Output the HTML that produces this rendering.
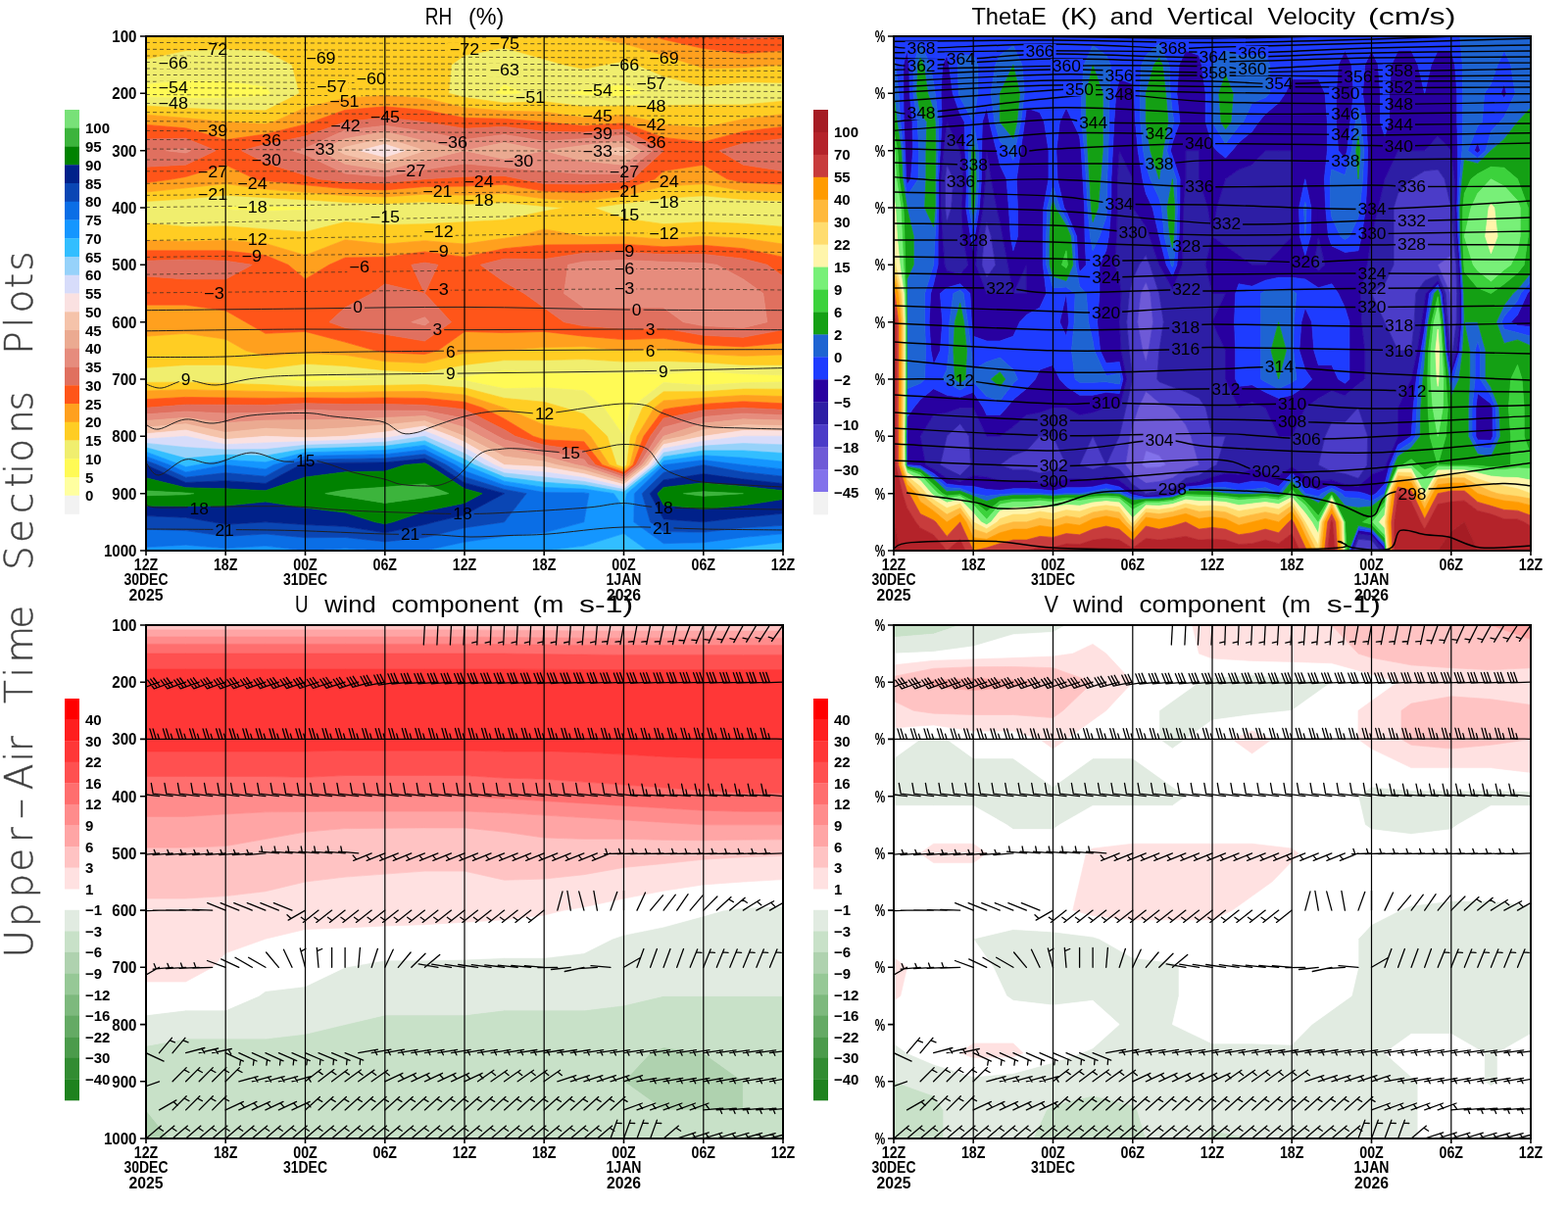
<!DOCTYPE html><html><head><meta charset="utf-8"><title>Upper-Air Time Sections Plots</title><style>html,body{margin:0;padding:0;background:#fff;overflow:hidden}svg{display:block}</style></head><body><svg width="1600" height="1236" viewBox="0 0 1600 1236" font-family="'Liberation Sans', Arial, sans-serif"><defs><clipPath id="c_rh"><rect x="149" y="37" width="650" height="525"/></clipPath><clipPath id="c_te"><rect x="912" y="37" width="650" height="525"/></clipPath><clipPath id="c_u"><rect x="149" y="638" width="650" height="524"/></clipPath><clipPath id="c_v"><rect x="912" y="638" width="650" height="524"/></clipPath></defs><rect width="1600" height="1236" fill="#fff"/><g clip-path="url(#c_rh)"><path d="M514.6 387.0L514.6 387.0L514.6 387.0L514.6 387.0ZM717.8 387.0L717.8 387.0L717.8 387.0L717.8 387.0Z" fill="#ffffa0" stroke="#ffffa0" stroke-width="0.7" fill-rule="evenodd"/><path d="M189.6 82.1L230.2 82.4L270.9 88.0L276.7 95.3L270.9 98.3L230.2 100.2L189.6 100.4L149.0 99.0L149.0 95.3L149.0 85.6ZM514.6 85.6L534.9 95.3L514.6 97.0L504.5 95.3ZM595.9 91.2L636.5 85.6L656.8 95.3L636.5 99.0L595.9 97.6L575.6 95.3ZM230.2 210.8L270.9 210.3L311.5 211.3L325.0 212.0L311.5 214.2L270.9 215.6L230.2 213.7L216.7 212.0ZM717.8 212.0L758.4 212.0L758.4 212.0L758.4 212.0L717.8 212.0L717.8 212.0ZM311.5 382.5L352.1 384.8L392.8 387.0L392.8 387.0L392.8 387.0L352.1 388.2L311.5 389.2L284.4 387.0ZM474.0 384.6L514.6 377.3L555.2 379.7L595.9 381.2L636.5 380.3L677.1 381.7L717.8 378.4L758.4 381.5L799.0 382.8L799.0 387.0L799.0 389.9L758.4 390.8L717.8 393.3L677.1 390.6L643.7 416.2L636.5 445.3L636.5 474.5L636.5 474.5L636.5 474.5L636.5 445.3L616.2 416.2L595.9 398.7L555.2 395.8L514.6 396.7L474.0 388.5L453.7 387.0ZM514.6 387.0L514.6 387.0L514.6 387.0L514.6 387.0ZM717.8 387.0L717.8 387.0L717.8 387.0L717.8 387.0Z" fill="#fffa55" stroke="#fffa55" stroke-width="0.7" fill-rule="evenodd"/><path d="M189.6 51.6L230.2 50.0L270.9 51.6L298.0 66.2L305.7 95.3L270.9 112.8L230.2 112.3L189.6 110.4L149.0 108.1L149.0 99.0L189.6 100.4L230.2 100.2L270.9 98.3L276.7 95.3L270.9 88.0L230.2 82.4L189.6 82.1L149.0 85.6L149.0 66.2L149.0 60.3ZM474.0 56.4L514.6 48.7L555.2 60.3L575.6 66.2L595.9 70.3L616.2 66.2L636.5 62.5L650.0 66.2L677.1 77.8L717.8 88.0L758.4 83.7L799.0 84.4L799.0 95.3L799.0 103.3L758.4 107.0L717.8 107.0L677.1 107.8L636.5 108.1L595.9 108.8L555.2 103.7L514.6 105.1L474.0 99.5L457.8 95.3L460.5 66.2ZM504.5 95.3L514.6 97.0L534.9 95.3L514.6 85.6ZM575.6 95.3L595.9 97.6L636.5 99.0L656.8 95.3L636.5 85.6L595.9 91.2ZM189.6 203.0L230.3 199.2L270.9 201.7L311.5 203.8L352.1 206.4L392.8 207.8L433.4 205.9L474.0 208.4L514.6 206.5L555.3 210.5L575.6 212.0L555.2 215.6L514.6 224.5L474.0 226.6L433.4 228.7L392.8 229.5L352.1 226.6L311.5 236.7L270.9 233.9L230.2 230.9L189.6 231.4L149.0 227.7L149.0 212.0L149.0 205.4ZM216.7 212.0L230.2 213.7L270.9 215.6L311.5 214.2L325.0 212.0L311.5 211.3L270.9 210.3L230.2 210.8ZM636.5 207.6L677.1 202.3L717.8 199.8L758.4 203.4L799.0 205.1L799.0 212.0L799.0 231.4L758.4 228.2L717.8 226.6L677.1 228.7L636.5 222.9L606.0 212.0ZM717.8 212.0L717.8 212.0L758.4 212.0L758.4 212.0L758.4 212.0L717.8 212.0ZM189.6 372.4L230.2 372.4L270.9 376.4L311.5 371.3L352.1 373.5L392.8 377.9L433.4 379.7L474.0 372.4L514.6 367.6L555.2 367.6L595.9 366.6L636.5 369.1L677.1 368.4L717.8 369.8L758.4 372.4L799.0 372.4L799.0 382.8L758.4 381.5L717.8 378.4L677.1 381.7L636.5 380.3L595.9 381.2L555.2 379.7L514.6 377.3L474.0 384.6L453.7 387.0L474.0 388.5L514.6 396.7L555.2 395.8L595.9 398.7L616.2 416.2L636.5 445.3L636.5 474.5L636.5 474.5L636.5 474.5L636.5 445.3L643.7 416.2L677.1 390.6L717.8 393.3L758.4 390.8L799.0 389.9L799.0 397.2L758.4 397.1L717.8 399.7L677.1 399.8L655.6 416.2L643.3 445.3L639.6 474.5L636.5 477.0L629.2 474.5L619.6 445.3L595.9 422.6L575.6 416.2L555.2 410.3L514.6 406.4L474.0 395.8L433.4 392.6L392.8 393.3L352.1 394.3L311.5 394.9L270.9 392.6L230.2 391.4L189.6 390.1L149.0 390.4L149.0 387.0L149.0 375.3ZM284.4 387.0L311.5 389.2L352.1 388.2L392.8 387.0L392.8 387.0L392.8 387.0L352.1 384.8L311.5 382.5Z" fill="#f0ee6e" stroke="#f0ee6e" stroke-width="0.7" fill-rule="evenodd"/><path d="M189.6 37.0L230.2 37.0L270.9 37.0L311.5 37.0L352.1 37.0L392.8 37.0L433.4 37.0L474.0 37.0L514.6 37.0L555.2 37.0L595.9 37.0L595.9 37.0L636.5 44.3L677.1 56.4L707.6 66.2L717.8 69.8L758.4 69.1L799.0 66.2L799.0 66.2L799.0 66.2L799.0 84.4L758.4 83.7L717.8 88.0L677.1 77.8L650.0 66.2L636.5 62.5L616.2 66.2L595.9 70.3L575.6 66.2L555.2 60.3L514.6 48.7L474.0 56.4L460.5 66.2L457.8 95.3L474.0 99.5L514.6 105.1L555.2 103.7L595.9 108.8L636.5 108.1L677.1 107.8L717.8 107.0L758.4 107.0L799.0 103.3L799.0 116.5L758.4 121.6L744.8 124.5L717.8 130.3L677.1 127.2L669.0 124.5L636.5 117.2L595.9 120.0L555.2 114.1L514.6 113.2L474.0 109.9L433.4 100.2L392.8 97.6L352.1 100.2L311.5 109.9L279.0 124.5L270.9 126.6L230.2 124.5L230.2 124.5L189.6 120.5L149.0 117.2L149.0 108.1L189.6 110.4L230.2 112.3L270.9 112.8L305.7 95.3L298.0 66.2L270.9 51.6L230.2 50.0L189.6 51.6L149.0 60.3L149.0 37.0ZM189.6 191.8L230.2 187.5L270.9 193.1L311.5 196.3L352.1 199.5L392.8 200.9L433.4 198.2L474.0 199.2L514.6 197.4L555.2 202.8L595.9 205.1L636.5 200.3L677.1 190.1L717.8 187.7L758.4 194.8L799.0 196.6L799.0 205.1L758.4 203.4L717.8 199.8L677.1 202.3L636.5 207.6L606.0 212.0L636.5 222.9L677.1 228.7L717.8 226.6L758.4 228.2L799.0 231.4L799.0 241.2L799.0 249.1L758.4 243.2L717.8 241.2L677.1 244.2L636.5 241.2L595.9 241.2L595.9 241.2L555.2 233.9L528.2 241.2L514.6 243.2L474.0 249.1L433.4 245.7L392.8 249.1L352.1 244.8L311.5 260.6L270.9 248.5L230.2 245.3L189.6 246.6L149.0 245.3L149.0 241.2L149.0 227.7L189.6 231.4L230.2 230.9L270.9 233.9L311.5 236.7L352.1 226.6L392.8 229.5L433.4 228.7L474.0 226.6L514.6 224.5L555.2 215.6L575.6 212.0L555.2 210.5L514.6 206.5L474.0 208.4L433.4 205.9L392.8 207.8L352.1 206.4L311.5 203.8L270.9 201.7L230.2 199.2L189.6 203.0L149.0 205.4L149.0 196.0ZM189.6 340.3L230.2 346.2L250.6 357.8L270.9 363.1L311.5 360.1L352.1 362.3L392.8 368.8L433.4 370.6L474.0 360.3L514.6 357.8L514.6 357.8L555.2 354.6L595.9 353.7L636.5 357.8L677.1 355.8L690.7 357.8L717.8 361.3L758.4 363.3L799.0 362.0L799.0 372.4L758.4 372.4L717.8 369.8L677.1 368.4L636.5 369.1L595.9 366.6L555.2 367.6L514.6 367.6L474.0 372.4L433.4 379.7L392.8 377.9L352.1 373.5L311.5 371.3L270.9 376.4L230.2 372.4L189.6 372.4L149.0 375.3L149.0 357.8L149.0 343.2ZM189.6 390.1L230.2 391.4L270.9 392.6L311.5 394.9L352.1 394.3L392.8 393.3L433.4 392.6L474.0 395.8L514.6 406.4L555.2 410.3L575.6 416.2L595.9 422.6L619.6 445.3L629.2 474.5L636.5 477.0L639.6 474.5L643.3 445.3L655.6 416.2L677.1 399.8L717.8 399.7L758.4 397.1L799.0 397.2L799.0 404.5L758.4 403.5L717.8 406.0L677.1 408.9L667.6 416.2L650.0 445.3L642.8 474.5L636.5 479.5L622.0 474.5L602.6 445.3L595.9 438.9L555.2 433.7L514.6 416.2L514.6 416.2L474.0 403.0L433.4 399.5L392.8 399.7L352.1 400.4L311.5 400.5L270.9 399.5L230.2 398.7L189.6 397.7L149.0 399.0L149.0 390.4Z" fill="#ffcd23" stroke="#ffcd23" stroke-width="0.7" fill-rule="evenodd"/><path d="M636.5 37.0L667.0 37.0L677.1 40.2L717.8 49.5L758.4 54.5L799.0 51.6L799.0 66.2L799.0 66.2L758.4 69.1L717.8 69.8L707.6 66.2L677.1 56.4L636.5 44.3L595.9 37.0ZM189.6 120.5L230.2 124.5L230.2 124.5L270.9 126.6L279.0 124.5L311.5 109.9L352.1 100.2L392.8 97.6L433.4 100.2L474.0 109.9L514.6 113.2L555.2 114.1L595.9 120.0L636.5 117.2L669.0 124.5L677.1 127.2L717.8 130.3L744.8 124.5L758.4 121.6L799.0 116.5L799.0 124.5L799.0 129.4L758.4 134.2L717.8 144.9L677.1 140.4L636.5 125.7L595.9 128.5L555.2 124.5L555.2 124.5L514.6 121.3L474.0 120.3L433.4 112.3L392.8 108.8L352.1 112.3L318.3 124.5L311.5 126.9L270.9 137.0L230.2 142.7L189.6 130.8L149.0 127.4L149.0 124.5L149.0 117.2ZM189.6 180.4L230.2 168.2L260.7 182.8L270.9 184.5L311.5 188.8L352.1 192.6L392.8 193.9L433.4 190.5L474.0 190.1L514.6 188.3L555.2 195.1L595.9 196.6L636.5 193.0L668.1 182.8L677.1 174.5L717.8 168.2L742.1 182.8L758.4 186.3L799.0 188.0L799.0 196.6L758.4 194.8L717.8 187.7L677.1 190.1L636.5 200.3L595.9 205.1L555.2 202.8L514.6 197.4L474.0 199.2L433.4 198.2L392.8 200.9L352.1 199.5L311.5 196.3L270.9 193.1L230.2 187.5L189.6 191.8L149.0 196.0L149.0 186.6L176.1 182.8ZM555.2 233.9L595.9 241.2L595.9 241.2L636.5 241.2L677.1 244.2L717.8 241.2L758.4 243.2L799.0 249.1L799.0 262.4L758.4 253.7L717.8 250.3L677.1 251.9L636.5 249.3L595.9 249.7L555.2 249.9L514.6 253.7L474.0 262.4L433.4 256.9L392.8 262.4L352.1 263.0L335.9 270.3L311.5 284.9L294.1 270.3L270.9 260.6L230.2 255.8L189.6 255.8L149.0 255.8L149.0 245.3L189.6 246.6L230.2 245.3L270.9 248.5L311.5 260.6L352.1 244.8L392.8 249.1L433.4 245.7L474.0 249.1L514.6 243.2L528.2 241.2ZM189.6 311.2L230.2 317.0L250.6 328.7L270.9 340.3L311.5 338.4L352.1 349.1L382.6 357.8L392.8 359.7L433.4 361.5L446.9 357.8L474.0 338.4L514.6 339.6L555.2 338.4L595.9 343.2L636.5 346.6L677.1 345.3L717.8 352.0L758.4 353.9L799.0 349.9L799.0 357.8L799.0 362.0L758.4 363.3L717.8 361.3L690.7 357.8L677.1 355.8L636.5 357.8L595.9 353.7L555.2 354.6L514.6 357.8L514.6 357.8L474.0 360.3L433.4 370.6L392.8 368.8L352.1 362.3L311.5 360.1L270.9 363.1L250.6 357.8L230.2 346.2L189.6 340.3L149.0 343.2L149.0 328.7L149.0 311.2ZM189.6 397.7L230.2 398.7L270.9 399.5L311.5 400.5L352.1 400.4L392.8 399.7L433.4 399.5L474.0 403.0L514.6 416.2L514.6 416.2L555.2 433.7L595.9 438.9L602.6 445.3L622.0 474.5L636.5 479.5L642.8 474.5L650.0 445.3L667.6 416.2L677.1 408.9L717.8 406.0L758.4 403.5L799.0 404.5L799.0 411.8L758.4 409.8L717.8 412.4L687.3 416.2L677.1 418.0L656.8 445.3L645.9 474.5L636.5 482.0L614.7 474.5L595.9 450.8L555.2 448.7L544.2 445.3L514.6 427.4L492.1 416.2L474.0 410.3L433.4 406.4L392.8 406.0L352.1 406.4L311.5 406.1L270.9 406.4L230.2 406.0L189.6 405.4L149.0 407.6L149.0 399.0Z" fill="#ffa01e" stroke="#ffa01e" stroke-width="0.7" fill-rule="evenodd"/><path d="M677.1 37.0L717.8 37.0L744.8 37.0L758.4 39.9L799.0 37.0L799.0 37.0L799.0 51.6L758.4 54.5L717.8 49.5L677.1 40.2L667.0 37.0ZM352.1 112.3L392.8 108.8L433.4 112.3L474.0 120.3L514.6 121.3L555.2 124.5L555.2 124.5L595.9 128.5L636.5 125.7L677.1 140.4L717.8 144.9L758.4 134.2L799.0 129.4L799.0 141.5L758.4 146.4L734.0 153.7L758.4 168.2L799.0 174.5L799.0 182.8L799.0 188.0L758.4 186.3L742.1 182.8L717.8 168.2L677.1 174.5L668.1 182.8L636.5 193.0L595.9 196.6L555.2 195.1L514.6 188.3L474.0 190.1L433.4 190.5L392.8 193.9L352.1 192.6L311.5 188.8L270.9 184.5L260.7 182.8L230.2 168.2L189.6 180.4L176.1 182.8L149.0 186.6L149.0 182.8L149.0 170.3L189.6 168.2L220.1 153.7L189.6 141.2L149.0 142.0L149.0 127.4L189.6 130.8L230.2 142.7L270.9 137.0L311.5 126.9L318.3 124.5ZM352.1 124.5L352.1 124.5L311.5 139.1L270.9 147.4L246.5 153.7L270.9 166.2L311.5 178.7L325.0 182.8L352.1 185.6L392.8 187.0L433.4 182.8L433.4 182.8L474.0 180.2L514.6 179.4L530.9 182.8L555.2 187.4L595.9 188.0L636.5 185.8L645.5 182.8L677.1 153.7L636.5 131.8L595.9 135.1L555.2 134.2L514.6 129.4L474.0 131.2L433.4 124.5L433.4 124.5L392.8 120.0ZM189.6 255.8L230.2 255.8L270.9 260.6L294.1 270.3L311.5 284.9L335.9 270.3L352.1 263.0L392.8 262.4L433.4 256.9L474.0 262.4L514.6 253.7L555.2 249.9L595.9 249.7L636.5 249.3L677.1 251.9L717.8 250.3L758.4 253.7L799.0 262.4L799.0 270.3L799.0 282.0L782.8 270.3L758.4 264.1L717.8 259.4L677.1 259.6L636.5 257.4L595.9 258.3L555.2 264.5L514.6 264.1L490.2 270.3L514.6 287.8L534.9 299.5L555.2 314.1L575.6 328.7L595.9 332.8L636.5 335.4L677.1 334.9L717.8 342.3L758.4 344.2L799.0 336.6L799.0 349.9L758.4 353.9L717.8 352.0L677.1 345.3L636.5 346.6L595.9 343.2L555.2 338.4L514.6 339.6L474.0 338.4L446.9 357.8L433.4 361.5L392.8 359.7L382.6 357.8L352.1 349.1L311.5 338.4L270.9 340.3L250.6 328.7L230.2 317.0L189.6 311.2L149.0 311.2L149.0 299.5L149.0 282.0L189.6 284.9L230.2 284.9L257.3 270.3L230.2 266.2L189.6 264.9L149.0 266.2L149.0 255.8ZM419.8 270.3L433.4 299.5L446.9 270.3L433.4 268.1ZM379.2 299.5L352.1 314.1L335.9 328.7L352.1 334.5L392.8 341.2L433.4 348.1L460.5 328.7L433.4 299.5L433.4 299.5L392.8 289.8ZM189.6 405.4L230.2 406.0L270.9 406.4L311.5 406.1L352.1 406.4L392.8 406.0L433.4 406.4L474.0 410.3L492.1 416.2L514.6 427.4L544.2 445.3L555.2 448.7L595.9 450.8L614.7 474.5L636.5 482.0L645.9 474.5L656.8 445.3L677.1 418.0L687.3 416.2L717.7 412.4L758.4 409.8L799.0 411.8L799.0 416.2L799.0 418.3L758.4 416.2L717.8 418.8L677.1 427.1L663.6 445.3L649.0 474.5L636.5 484.6L607.5 474.5L595.9 459.9L555.2 454.3L525.7 445.3L514.6 438.6L474.0 418.0L460.5 416.2L433.4 413.4L392.8 412.4L352.1 412.5L311.5 411.7L270.9 413.4L230.2 413.2L189.6 413.1L149.0 416.2L149.0 416.2L149.0 416.2L149.0 407.6Z" fill="#ff5519" stroke="#ff5519" stroke-width="0.7" fill-rule="evenodd"/><path d="M758.4 37.0L799.0 37.0L758.4 39.9L744.8 37.0ZM392.8 120.0L433.4 124.5L433.4 124.5L474.0 131.2L514.6 129.4L555.2 134.2L595.9 135.1L636.5 131.8L677.1 153.7L645.5 182.8L636.5 185.8L595.9 188.0L555.2 187.4L530.9 182.8L514.6 179.4L474.0 180.2L433.4 182.8L433.4 182.8L392.8 187.0L352.1 185.6L325.0 182.8L311.5 178.7L270.9 166.2L246.5 153.7L270.9 147.4L311.5 139.1L352.1 124.5L352.1 124.5ZM298.0 153.7L311.5 157.8L352.1 177.0L392.8 180.2L433.4 173.1L474.0 166.9L514.6 170.8L555.2 174.5L595.9 177.5L636.5 177.4L665.8 153.7L636.5 137.9L595.9 141.7L555.2 143.9L514.6 137.5L474.0 142.4L433.4 134.2L392.8 128.3L352.1 133.1L311.5 151.2ZM189.6 141.2L220.1 153.7L189.6 168.2L149.0 170.3L149.0 153.7L149.0 142.0ZM169.3 153.7L189.6 156.1L194.7 153.7L189.6 151.6ZM758.4 146.4L799.0 141.5L799.0 153.7L799.0 174.5L758.4 168.2L734.0 153.7ZM189.6 264.9L230.2 266.2L257.3 270.3L230.2 284.9L189.6 284.9L149.0 282.0L149.0 270.3L149.0 266.2ZM433.4 268.1L446.9 270.3L433.4 299.5L419.8 270.3ZM514.6 264.1L555.2 264.5L595.9 258.3L636.5 257.4L677.1 259.6L717.8 259.4L758.4 264.1L782.8 270.3L799.0 282.0L799.0 299.5L799.0 328.7L799.0 336.6L758.4 344.2L717.8 342.3L677.1 334.9L636.5 335.4L595.9 332.8L575.6 328.7L555.2 314.1L534.9 299.5L514.6 287.8L490.2 270.3ZM579.6 270.3L575.6 299.5L595.9 314.1L636.5 314.1L677.1 314.1L697.4 328.7L717.8 332.6L758.4 334.5L782.8 328.7L778.7 299.5L758.4 284.9L731.3 270.3L717.8 268.5L677.1 267.3L636.5 265.5L595.9 266.9ZM392.8 289.8L433.4 299.5L433.4 299.5L460.5 328.7L433.4 348.1L392.8 341.2L352.1 334.5L335.9 328.7L352.1 314.1L379.2 299.5ZM419.8 328.7L433.4 331.9L437.9 328.7L433.4 323.8ZM189.6 413.1L230.2 413.2L270.9 413.4L311.5 411.7L352.1 412.5L392.8 412.4L433.4 413.4L460.5 416.2L474.0 418.0L514.6 438.6L525.7 445.3L555.2 454.3L595.9 459.9L607.5 474.5L636.5 484.6L649.0 474.5L663.6 445.3L677.1 427.1L717.8 418.8L758.4 416.2L799.0 418.3L799.0 423.7L758.4 422.0L717.8 425.4L677.1 436.2L670.4 445.3L652.1 474.5L636.5 487.1L600.2 474.5L595.9 469.0L555.2 459.9L514.6 448.8L507.9 445.3L474.0 427.1L433.4 419.3L392.8 419.1L352.1 419.6L311.5 418.2L270.9 421.0L230.3 422.0L189.6 420.0L149.0 422.8L149.0 416.2L149.0 416.2Z" fill="#e0705f" stroke="#e0705f" stroke-width="0.7" fill-rule="evenodd"/><path d="M189.6 151.6L194.7 153.7L189.6 156.1L169.3 153.7ZM311.5 151.2L352.1 133.1L392.8 128.3L433.4 134.2L474.0 142.4L514.6 137.5L555.2 143.9L595.9 141.7L636.5 137.9L665.8 153.7L636.5 177.4L595.9 177.5L555.2 174.5L514.6 170.8L474.0 166.9L433.4 173.1L392.8 180.2L352.1 177.0L311.5 157.8L298.0 153.7ZM326.3 153.7L352.1 167.3L392.8 173.6L433.4 163.4L474.0 153.7L433.4 143.9L392.8 134.6L352.1 141.7ZM474.0 153.7L514.6 162.2L555.2 153.7L514.6 145.6ZM555.2 153.7L595.9 164.3L636.5 168.2L654.6 153.7L636.5 143.9L595.9 148.4ZM595.9 266.9L636.5 265.5L677.1 267.3L717.8 268.5L731.3 270.3L758.4 284.9L778.7 299.5L782.8 328.7L758.4 334.5L717.8 332.6L697.4 328.7L677.1 314.1L636.5 314.1L595.9 314.1L575.6 299.5L579.6 270.3ZM433.4 323.8L437.9 328.7L433.4 331.9L419.8 328.7ZM189.6 420.0L230.2 422.0L270.9 421.0L311.5 418.2L352.1 419.6L392.8 419.1L433.4 419.3L474.0 427.1L507.9 445.3L514.6 448.8L555.2 459.9L595.9 469.0L600.2 474.5L636.5 487.1L652.1 474.5L670.4 445.3L677.1 436.2L717.8 425.4L758.4 422.0L799.0 423.7L799.0 429.1L758.4 427.8L717.8 432.1L677.1 445.3L677.1 445.3L655.2 474.5L636.5 489.6L595.9 476.0L587.8 474.5L555.2 465.5L514.6 457.3L490.9 445.3L474.0 436.2L433.4 424.5L392.8 426.4L352.1 428.2L311.5 428.7L270.9 429.1L230.2 431.7L189.6 426.3L149.0 429.4L149.0 422.8Z" fill="#e68c7d" stroke="#e68c7d" stroke-width="0.7" fill-rule="evenodd"/><path d="M352.1 141.7L392.8 134.6L433.4 143.9L474.0 153.7L433.4 163.4L392.8 173.6L352.1 167.3L326.3 153.7ZM344.7 153.7L352.1 157.6L392.8 166.9L433.4 153.7L392.8 141.0L352.1 150.2ZM514.6 145.6L555.2 153.7L514.6 162.2L474.0 153.7ZM595.9 148.4L636.5 143.9L654.6 153.7L636.5 168.2L595.9 164.3L555.2 153.7ZM606.0 153.7L636.5 159.1L643.3 153.7L636.5 150.0ZM189.6 426.3L230.2 431.7L270.9 429.1L311.5 428.7L352.1 428.2L392.8 426.4L433.4 424.5L474.0 436.2L490.9 445.3L514.6 457.3L555.2 465.5L587.8 474.5L595.9 476.0L636.5 489.6L655.2 474.5L677.1 445.3L677.1 445.3L717.8 432.1L758.4 427.8L799.0 429.1L799.0 434.5L758.4 433.7L717.8 438.7L697.4 445.3L677.1 449.5L658.4 474.5L636.5 492.1L595.9 479.9L567.4 474.5L555.2 471.1L514.6 465.9L474.0 445.3L474.0 445.3L433.4 429.7L392.8 433.7L352.1 436.8L311.5 439.1L270.9 437.2L230.2 441.4L189.6 432.7L149.0 436.1L149.0 429.4Z" fill="#ebaa91" stroke="#ebaa91" stroke-width="0.7" fill-rule="evenodd"/><path d="M352.1 150.2L392.8 141.0L433.4 153.7L392.8 166.9L352.1 157.6L344.7 153.7ZM367.4 153.7L392.8 160.3L413.1 153.7L392.8 147.3ZM636.5 150.0L643.3 153.7L636.5 159.1L606.0 153.7ZM189.6 432.7L230.2 441.4L270.9 437.2L311.5 439.1L352.1 436.8L392.8 433.7L433.4 429.7L474.0 445.3L474.0 445.3L514.6 465.9L555.2 471.1L567.4 474.5L595.9 479.9L636.5 492.1L658.4 474.5L677.1 449.5L697.4 445.3L717.8 438.7L758.4 433.7L799.0 434.5L799.0 439.9L758.4 439.5L717.8 445.3L717.8 445.3L677.1 453.7L661.5 474.5L636.5 494.6L595.9 483.7L555.3 476.6L514.6 474.5L514.6 474.5L474.0 451.2L460.5 445.3L433.4 434.9L392.8 441.0L352.1 445.3L352.1 445.3L311.5 446.8L270.9 445.3L230.3 448.5L215.0 445.3L189.6 439.0L149.0 442.7L149.0 436.1Z" fill="#f5c3aa" stroke="#f5c3aa" stroke-width="0.7" fill-rule="evenodd"/><path d="M392.8 147.3L413.1 153.7L392.8 160.3L367.4 153.7ZM189.6 439.0L215.0 445.3L230.2 448.5L270.9 445.3L311.5 446.8L352.1 445.3L352.1 445.3L392.8 441.0L433.4 434.9L460.5 445.3L474.0 451.2L514.6 474.5L514.6 474.5L555.2 476.6L595.9 483.7L636.5 494.6L661.5 474.5L677.1 453.7L717.8 445.3L717.8 445.3L758.4 439.5L799.0 439.9L799.0 445.3L799.0 445.3L758.4 445.3L717.8 450.2L677.1 457.8L664.6 474.5L636.5 497.1L595.9 487.5L555.2 481.8L514.6 478.7L504.5 474.5L474.0 457.0L446.9 445.3L433.4 440.1L404.4 445.3L392.7 447.0L352.1 449.2L311.5 450.6L270.9 452.0L230.2 453.7L189.6 445.3L149.0 448.0L149.0 445.3L149.0 442.7Z" fill="#fae1e1" stroke="#fae1e1" stroke-width="0.7" fill-rule="evenodd"/><path d="M433.4 440.1L446.9 445.3L474.0 457.0L504.5 474.5L514.6 478.7L555.2 481.8L595.9 487.5L636.5 497.1L664.6 474.5L677.1 457.8L717.8 450.2L758.4 445.3L799.0 445.3L799.0 453.9L758.4 452.6L717.8 455.1L677.1 462.0L667.8 474.5L636.5 499.6L595.9 491.4L555.2 487.0L514.6 482.8L494.3 474.5L474.0 462.8L433.4 445.3L392.8 451.2L352.1 453.0L311.5 454.3L270.9 458.6L230.2 458.9L189.6 456.6L149.0 452.4L149.0 448.0L189.6 445.3L230.2 453.7L270.9 452.0L311.5 450.6L352.1 449.2L392.8 447.0L404.4 445.3Z" fill="#d7dcfa" stroke="#d7dcfa" stroke-width="0.7" fill-rule="evenodd"/><path d="M189.6 456.6L230.2 458.9L270.9 458.6L311.5 454.3L352.1 453.0L392.8 451.2L433.4 445.3L474.0 462.8L494.3 474.5L514.6 482.8L555.2 487.0L595.9 491.4L636.5 499.6L667.7 474.5L677.1 462.0L717.8 455.1L758.4 452.6L799.0 453.9L799.0 462.5L758.4 459.9L717.8 459.9L677.1 466.2L670.9 474.5L636.5 502.2L595.9 495.2L555.2 492.2L514.6 487.0L484.2 474.5L474.0 468.7L433.4 449.9L392.8 455.3L352.1 456.8L311.5 458.0L270.9 465.2L230.2 464.1L189.6 467.8L149.0 456.8L149.0 452.4ZM799.0 562.0L799.0 562.0L799.0 562.0Z" fill="#96d2fa" stroke="#96d2fa" stroke-width="0.7" fill-rule="evenodd"/><path d="M189.6 467.8L230.2 464.1L270.9 465.2L311.5 458.0L352.1 456.8L392.8 455.3L433.4 449.9L474.0 468.7L484.2 474.5L514.6 487.0L555.2 492.2L595.9 495.2L636.5 502.2L670.9 474.5L677.1 466.2L717.8 459.9L758.4 459.9L799.0 462.5L799.0 471.1L758.4 467.2L717.8 464.8L677.1 470.3L674.0 474.5L639.6 503.7L636.5 518.2L626.3 503.7L595.9 499.1L555.2 497.4L514.6 491.2L474.0 474.5L474.0 474.5L433.4 454.4L392.8 459.5L352.1 460.7L311.5 461.8L270.9 471.8L230.2 469.3L201.2 474.5L189.6 476.6L184.8 474.5L149.0 461.2L149.0 456.8ZM514.6 562.0L555.2 562.0L595.9 557.1L636.5 544.5L660.9 562.0L636.5 562.0L595.9 562.0L555.2 562.0L514.6 562.0L514.6 562.0ZM758.4 558.1L799.0 553.4L799.0 562.0L799.0 562.0L758.4 562.0L731.3 562.0Z" fill="#32beff" stroke="#32beff" stroke-width="0.7" fill-rule="evenodd"/><path d="M184.8 474.5L189.6 476.6L201.2 474.5L230.2 469.3L270.9 471.8L311.5 461.8L352.1 460.7L392.8 459.5L433.4 454.4L474.0 474.5L474.0 474.5L514.6 491.2L555.2 497.4L595.9 499.1L626.3 503.7L636.5 518.2L639.6 503.7L674.0 474.5L677.1 470.3L717.8 464.8L758.4 467.2L799.0 471.1L799.0 474.5L799.0 478.9L758.4 474.5L758.4 474.5L717.8 469.6L677.1 474.5L677.1 474.5L647.4 503.7L646.7 532.8L677.1 554.7L717.8 553.7L758.4 548.4L799.0 544.8L799.0 553.4L758.4 558.1L731.3 562.0L717.8 562.0L677.1 562.0L660.9 562.0L636.5 544.5L595.9 557.1L555.2 562.0L514.6 562.0L514.6 562.0L474.0 562.0L433.4 562.0L392.8 562.0L352.1 562.0L311.5 562.0L270.9 562.0L230.2 562.0L189.6 562.0L149.0 562.0L149.0 558.4L189.6 556.2L230.2 559.6L270.9 557.1L311.5 562.0L352.1 559.8L392.8 562.0L433.4 562.0L474.0 553.2L514.6 547.4L555.2 543.8L595.9 532.8L595.9 532.8L601.0 503.7L595.9 502.9L555.2 502.6L514.6 495.3L474.0 480.6L464.8 474.5L433.4 459.0L392.8 463.7L352.1 464.5L311.5 465.5L279.0 474.5L270.9 478.9L230.2 474.5L189.6 481.9L172.9 474.5L149.0 465.7L149.0 461.2Z" fill="#1496ff" stroke="#1496ff" stroke-width="0.7" fill-rule="evenodd"/><path d="M172.9 474.5L189.6 481.9L230.2 474.5L270.9 478.9L279.0 474.5L311.5 465.5L352.1 464.5L392.8 463.7L433.4 459.0L464.8 474.5L474.0 480.6L514.6 495.3L555.2 502.6L595.9 502.9L601.0 503.7L595.9 532.8L595.9 532.8L555.2 543.8L514.6 547.4L474.0 553.2L433.4 562.0L392.8 562.0L352.1 559.8L311.5 562.0L270.9 557.1L230.2 559.6L189.6 556.2L149.0 558.4L149.0 540.1L189.6 541.6L230.2 547.4L270.9 545.0L311.5 548.7L352.1 548.5L392.8 552.9L433.4 548.7L474.0 538.7L514.6 532.8L514.6 532.8L537.2 503.7L514.6 499.5L474.0 486.7L455.5 474.5L433.4 463.6L392.8 467.8L352.1 468.4L311.5 469.3L292.5 474.5L270.9 486.2L230.2 482.6L189.6 487.2L160.9 474.5L149.0 470.1L149.0 465.7ZM717.8 469.6L758.4 474.5L758.4 474.5L799.0 478.9L799.0 486.2L758.4 481.8L717.8 474.5L677.1 482.2L655.2 503.7L663.6 532.8L677.1 542.6L717.8 543.2L758.4 538.7L799.0 536.3L799.0 544.8L758.4 548.4L717.8 553.7L677.1 554.7L646.7 532.8L647.4 503.7L677.1 474.5L677.1 474.5Z" fill="#0a6ee6" stroke="#0a6ee6" stroke-width="0.7" fill-rule="evenodd"/><path d="M160.9 474.5L189.6 487.2L230.2 482.6L270.9 486.2L292.5 474.5L311.5 469.3L352.1 468.4L392.8 467.8L433.4 463.6L455.5 474.5L474.0 486.7L514.6 499.5L537.2 503.7L514.6 532.8L514.6 532.8L474.0 538.7L433.4 548.7L392.8 552.9L352.1 548.5L311.5 548.7L270.9 545.0L230.2 547.4L189.6 541.6L149.0 540.1L149.0 532.8L149.0 526.6L189.6 528.2L216.7 532.8L230.2 535.3L270.9 532.8L270.9 532.8L270.9 532.8L311.5 535.5L352.1 537.3L392.8 543.8L433.4 535.5L443.5 532.8L474.0 525.5L514.6 503.7L474.0 492.7L446.3 474.5L433.4 468.1L392.8 472.0L352.1 472.2L311.5 473.0L306.1 474.5L270.9 493.5L230.2 490.7L189.6 492.5L149.0 474.5L149.0 474.5L149.0 470.1ZM677.1 482.2L717.8 474.5L758.4 481.8L799.0 486.2L799.0 493.5L758.4 489.1L717.8 483.6L677.1 489.9L663.1 503.7L677.1 529.9L717.8 532.8L758.4 528.0L799.0 524.1L799.0 532.8L799.0 536.3L758.4 538.7L717.8 543.2L677.1 542.6L663.6 532.8L655.2 503.7Z" fill="#0a46b4" stroke="#0a46b4" stroke-width="0.7" fill-rule="evenodd"/><path d="M311.5 473.0L352.1 472.2L392.8 472.0L433.4 468.1L446.3 474.5L474.0 492.7L514.6 503.7L474.0 525.5L443.5 532.8L433.4 535.5L392.8 543.8L352.1 537.3L311.5 535.5L270.9 532.8L270.9 532.8L270.9 532.8L230.2 535.3L216.7 532.8L189.6 528.2L149.0 526.6L149.0 516.2L189.6 516.5L230.2 516.2L270.9 512.0L311.5 518.2L352.1 523.1L382.6 532.8L392.8 534.7L400.9 532.8L433.4 521.7L474.0 513.4L492.1 503.7L474.0 498.8L437.1 474.5L433.4 472.7L413.1 474.5L392.8 481.0L352.1 481.8L311.5 487.0L270.9 500.8L230.2 498.8L189.6 497.8L149.0 487.8L149.0 474.5L189.6 492.5L230.2 490.7L270.9 493.5L306.1 474.5ZM677.1 489.9L717.8 483.6L758.4 489.1L799.0 493.5L799.0 500.8L758.4 496.4L717.8 492.7L677.1 497.5L670.9 503.7L677.1 515.3L717.8 519.6L758.4 515.8L799.0 509.5L799.0 524.1L758.4 528.0L717.8 532.8L677.1 529.9L663.1 503.7Z" fill="#00218a" stroke="#00218a" stroke-width="0.7" fill-rule="evenodd"/><path d="M433.4 472.7L437.1 474.5L474.0 498.8L492.1 503.7L474.0 513.4L433.4 521.7L400.9 532.8L392.8 534.7L382.6 532.8L352.1 523.1L311.5 518.2L270.9 512.0L230.2 516.2L189.6 516.5L149.0 516.2L149.0 505.8L189.6 504.8L197.8 503.7L189.6 503.1L149.0 501.0L149.0 487.8L189.6 497.8L230.2 498.8L270.9 500.8L311.5 487.0L352.1 481.8L392.8 481.0L413.1 474.5ZM331.8 503.7L352.1 506.9L392.8 513.4L433.4 507.8L457.8 503.7L433.4 493.9L392.8 497.2L352.1 500.0ZM677.1 497.5L717.8 492.7L758.4 496.4L799.0 500.8L799.0 503.7L799.0 509.5L758.4 515.8L717.8 519.6L677.1 515.3L670.9 503.7ZM697.4 503.7L717.8 506.3L758.4 503.7L717.8 501.8Z" fill="#008200" stroke="#008200" stroke-width="0.7" fill-rule="evenodd"/><path d="M189.6 503.1L197.8 503.7L189.6 504.8L149.0 505.8L149.0 503.7L149.0 501.0ZM352.1 500.0L392.8 497.2L433.4 493.9L457.8 503.7L433.4 507.8L392.8 513.4L352.1 506.9L331.8 503.7ZM717.8 501.8L758.4 503.7L717.8 506.3L697.4 503.7Z" fill="#3cb43c" stroke="#3cb43c" stroke-width="0.7" fill-rule="evenodd"/></g><g clip-path="url(#c_te)"><path d="M1169.3 459.9L1182.8 464.8L1189.6 474.5L1182.8 476.9L1169.3 477.2L1165.4 474.5Z" fill="#8272eb" stroke="#8272eb" stroke-width="0.7" fill-rule="evenodd"/><path d="M1467.2 270.3L1480.8 260.6L1481.8 270.3L1481.9 299.5L1480.8 328.7L1480.8 328.7L1480.8 328.7L1479.7 299.5L1467.2 270.3L1467.2 270.3ZM1169.3 287.8L1173.8 299.5L1176.6 328.7L1172.0 357.8L1169.3 369.5L1165.9 357.8L1160.7 328.7L1163.9 299.5ZM1169.3 399.5L1182.8 410.9L1196.4 416.2L1196.4 416.2L1209.9 433.7L1215.3 445.3L1223.5 474.5L1223.5 474.5L1223.5 474.5L1209.9 479.0L1196.4 487.8L1182.8 491.5L1169.3 493.1L1155.8 483.8L1148.5 474.5L1153.0 445.3L1155.8 433.7L1161.6 416.2ZM1165.4 474.5L1169.3 477.2L1182.8 476.9L1189.6 474.5L1182.8 464.8L1169.3 459.9ZM979.7 474.5L979.7 474.5L979.7 474.5L979.7 474.5ZM1386.0 474.5L1386.0 474.5L1386.0 474.5L1386.0 474.5ZM1386.0 559.7L1399.5 559.9L1401.3 562.0L1399.5 562.0L1386.0 562.0L1385.1 562.0Z" fill="#6e5ad7" stroke="#6e5ad7" stroke-width="0.7" fill-rule="evenodd"/><path d="M966.2 168.2L972.9 182.8L970.7 212.0L966.2 226.6L964.5 212.0L964.5 182.8ZM1440.1 182.8L1453.7 174.5L1467.2 173.1L1474.0 182.8L1480.8 212.0L1480.8 212.0L1483.1 241.2L1485.8 270.3L1486.6 299.5L1486.2 328.7L1482.4 357.8L1480.8 363.1L1479.8 357.8L1477.4 328.7L1475.3 299.5L1467.2 280.5L1453.7 286.5L1444.6 299.5L1443.1 328.7L1440.1 357.8L1440.1 357.8L1426.6 357.8L1426.6 357.8L1413.0 328.7L1413.0 328.7L1399.5 299.5L1399.5 299.5L1399.5 299.5L1413.0 289.8L1422.1 270.3L1422.1 241.2L1422.1 212.0L1426.6 197.4L1440.1 182.8ZM1467.2 270.3L1467.2 270.3L1479.7 299.5L1480.8 328.7L1480.8 328.7L1480.8 328.7L1481.9 299.5L1481.8 270.3L1480.8 260.6L1467.2 270.3ZM1264.1 212.0L1264.1 212.0L1264.1 212.0L1264.1 212.0ZM1006.8 226.6L1011.3 241.2L1015.8 270.3L1006.8 283.3L1001.9 270.3L1004.3 241.2ZM1169.3 260.6L1173.2 270.3L1182.8 299.5L1182.8 299.5L1187.3 328.7L1182.8 357.8L1182.8 357.8L1180.6 387.0L1182.8 389.7L1196.4 395.0L1209.9 400.0L1223.5 406.4L1230.2 416.2L1237.0 445.3L1250.5 445.3L1250.5 445.3L1250.5 445.3L1241.5 474.5L1237.0 476.6L1223.5 485.1L1209.9 488.0L1196.4 498.4L1182.8 501.2L1169.3 503.7L1169.3 503.7L1169.3 503.7L1155.8 494.4L1142.2 479.0L1128.7 474.5L1115.1 479.0L1101.6 474.5L1088.0 474.5L1074.5 479.8L1061.0 482.8L1047.4 479.4L1033.9 479.4L1020.3 474.5L1020.3 474.5L1020.3 474.5L1033.9 464.8L1047.4 459.9L1061.0 445.3L1061.0 445.3L1074.5 445.3L1074.5 445.3L1088.0 474.5L1101.6 474.5L1115.1 445.3L1115.1 445.3L1115.1 445.3L1128.7 474.5L1142.2 445.3L1142.2 445.3L1149.0 416.2L1155.8 387.0L1152.4 357.8L1149.7 328.7L1152.4 299.5L1155.8 284.9L1162.5 270.3ZM1163.9 299.5L1160.7 328.7L1165.9 357.8L1169.3 369.5L1172.0 357.8L1176.6 328.7L1173.8 299.5L1169.3 287.8ZM1161.6 416.2L1155.8 433.7L1153.0 445.3L1148.5 474.5L1155.8 483.8L1169.3 493.1L1182.8 491.5L1196.4 487.8L1209.9 479.0L1223.5 474.5L1223.5 474.5L1223.5 474.5L1215.3 445.3L1209.9 433.7L1196.4 416.2L1196.4 416.2L1182.8 410.9L1169.3 399.5ZM1386.0 416.2L1386.0 416.2L1395.6 445.3L1395.0 474.5L1386.0 488.2L1372.4 483.5L1358.9 481.4L1345.3 474.5L1345.3 474.5L1345.3 474.5L1352.1 445.3L1358.9 430.8L1372.4 430.8L1386.0 416.2ZM1386.0 474.5L1386.0 474.5L1386.0 474.5L1386.0 474.5ZM966.2 445.3L979.7 432.4L988.7 445.3L990.5 474.5L979.7 485.1L966.2 478.4L959.4 474.5L966.2 445.3ZM979.7 474.5L979.7 474.5L979.7 474.5L979.7 474.5ZM1386.0 550.3L1399.5 551.6L1408.5 562.0L1401.3 562.0L1399.5 559.9L1386.0 559.7L1385.1 562.0L1381.4 562.0Z" fill="#4b3cc8" stroke="#4b3cc8" stroke-width="0.7" fill-rule="evenodd"/><path d="M966.2 124.5L966.2 124.5L979.7 153.7L979.7 153.7L983.1 182.8L981.2 212.0L982.4 241.2L987.8 270.3L979.7 280.1L966.2 276.2L963.9 270.3L961.7 241.2L960.2 212.0L960.2 182.8L962.8 153.7L966.2 124.5ZM964.5 182.8L964.5 212.0L966.2 226.6L970.7 212.0L972.9 182.8L966.2 168.2ZM1006.8 153.7L1006.8 153.7L1011.3 182.8L1016.9 212.0L1020.3 226.6L1023.0 241.2L1028.5 270.3L1033.9 299.5L1047.4 270.3L1047.4 270.3L1047.4 270.3L1047.4 299.5L1047.4 299.5L1033.9 299.5L1020.3 299.5L1006.8 299.5L1006.8 299.5L995.7 270.3L998.2 241.2L1003.1 212.0L1005.4 182.8L1006.8 153.7ZM1004.3 241.2L1001.9 270.3L1006.8 283.3L1015.8 270.3L1011.3 241.2L1006.8 226.6ZM1088.0 153.7L1088.0 153.7L1088.0 153.7L1088.0 153.7ZM1142.2 153.7L1142.2 153.7L1155.8 182.8L1155.8 182.8L1155.8 212.0L1169.3 231.4L1172.7 241.2L1182.8 270.3L1182.8 270.3L1196.4 295.0L1206.3 270.3L1207.2 241.2L1207.5 212.0L1209.9 182.8L1209.9 153.7L1209.9 153.7L1223.5 153.7L1223.5 153.7L1223.5 182.8L1232.5 212.0L1237.0 241.2L1241.5 212.0L1250.5 182.8L1250.5 182.8L1264.1 173.1L1277.6 168.2L1291.2 153.7L1291.2 153.7L1304.7 153.7L1318.2 153.7L1318.2 153.7L1318.2 182.8L1318.2 212.0L1318.2 241.2L1318.2 241.2L1304.7 255.8L1291.2 270.3L1291.2 270.3L1277.6 270.3L1277.6 270.3L1264.1 260.6L1250.5 250.9L1237.0 241.2L1230.2 270.3L1237.0 299.5L1250.5 299.5L1250.5 299.5L1250.5 299.5L1237.0 328.7L1250.5 357.8L1250.5 357.8L1250.5 387.0L1264.1 416.2L1277.6 410.3L1291.2 416.2L1291.2 416.2L1304.7 445.3L1318.2 445.3L1331.8 416.2L1331.8 416.2L1345.3 406.4L1358.9 398.7L1372.4 403.7L1386.0 391.9L1392.7 387.0L1392.7 357.8L1389.3 328.7L1388.2 299.5L1395.0 270.3L1399.5 241.2L1399.5 241.2L1406.3 212.0L1413.0 182.8L1413.0 182.8L1426.6 153.7L1426.6 153.7L1440.1 153.7L1453.7 153.7L1467.2 139.1L1480.8 153.7L1480.8 153.7L1484.1 182.8L1484.5 212.0L1486.0 241.2L1488.3 270.3L1489.6 299.5L1489.6 328.7L1486.7 357.8L1480.8 376.4L1477.6 357.8L1475.2 328.7L1472.6 299.5L1467.2 286.8L1454.9 299.5L1453.7 309.2L1450.7 328.7L1446.3 357.8L1440.1 387.0L1440.1 387.0L1426.6 416.2L1426.6 445.3L1426.6 445.3L1414.3 474.5L1413.0 479.4L1399.5 484.2L1386.0 496.8L1372.4 494.7L1358.9 489.9L1345.3 490.7L1331.8 485.4L1318.2 476.6L1304.7 485.4L1291.2 483.2L1277.6 478.7L1264.1 484.2L1250.5 483.2L1237.0 487.0L1223.5 491.7L1209.9 493.6L1197.7 503.7L1196.4 504.2L1182.8 505.3L1169.3 506.1L1159.6 503.7L1155.8 501.0L1142.2 490.2L1128.7 486.7L1115.1 490.2L1101.6 489.1L1088.0 489.1L1074.5 493.1L1061.0 493.2L1047.4 491.5L1033.9 491.5L1020.3 490.7L1006.8 487.0L993.2 485.4L979.7 491.7L966.2 488.1L952.6 478.9L944.5 474.5L939.1 445.3L939.1 445.3L939.1 445.3L952.6 423.5L966.2 421.0L979.7 416.2L979.7 416.2L993.2 416.2L993.2 416.2L1006.8 445.3L1020.3 445.3L1033.9 435.6L1047.4 423.5L1061.0 421.0L1074.5 416.2L1074.5 416.2L1088.0 416.2L1088.0 416.2L1101.6 423.5L1115.1 421.0L1128.7 416.2L1128.7 416.2L1142.2 416.2L1149.6 387.0L1143.9 357.8L1142.2 328.7L1142.2 328.7L1142.2 328.7L1143.9 299.5L1142.2 284.9L1137.7 270.3L1139.5 241.2L1140.1 212.0L1140.1 182.8L1142.2 153.7ZM1440.1 182.8L1426.6 197.4L1422.1 212.0L1422.1 241.2L1422.1 270.3L1413.0 289.8L1399.5 299.5L1399.5 299.5L1399.5 299.5L1413.0 328.7L1413.0 328.7L1426.6 357.8L1426.6 357.8L1440.1 357.8L1440.1 357.8L1443.1 328.7L1444.6 299.5L1453.7 286.5L1467.2 280.5L1475.3 299.5L1477.4 328.7L1479.8 357.8L1480.8 363.1L1482.4 357.8L1486.2 328.7L1486.6 299.5L1485.8 270.3L1483.1 241.2L1480.8 212.0L1480.8 212.0L1474.0 182.8L1467.2 173.1L1453.7 174.5L1440.1 182.8ZM1264.1 212.0L1264.1 212.0L1264.1 212.0L1264.1 212.0ZM1162.5 270.3L1155.8 284.9L1152.4 299.5L1149.7 328.7L1152.4 357.8L1155.8 387.0L1149.0 416.2L1142.2 445.3L1142.2 445.3L1128.7 474.5L1115.1 445.3L1115.1 445.3L1115.1 445.3L1101.6 474.5L1088.0 474.5L1074.5 445.3L1074.5 445.3L1061.0 445.3L1061.0 445.3L1047.4 459.9L1033.9 464.8L1020.3 474.5L1020.3 474.5L1020.3 474.5L1033.9 479.4L1047.4 479.4L1061.0 482.8L1074.5 479.8L1088.0 474.5L1101.6 474.5L1115.1 479.0L1128.7 474.5L1142.2 479.0L1155.8 494.4L1169.3 503.7L1169.3 503.7L1169.3 503.7L1182.8 501.2L1196.4 498.4L1209.9 488.0L1223.5 485.1L1237.0 476.6L1241.5 474.5L1250.5 445.3L1250.5 445.3L1250.5 445.3L1237.0 445.3L1230.2 416.2L1223.5 406.4L1209.9 400.0L1196.4 395.0L1182.8 389.7L1180.6 387.0L1182.8 357.8L1182.8 357.8L1187.3 328.7L1182.8 299.5L1182.8 299.5L1173.2 270.3L1169.3 260.6ZM1386.0 416.2L1372.4 430.8L1358.9 430.8L1352.1 445.3L1345.3 474.5L1345.3 474.5L1345.3 474.5L1358.9 481.4L1372.4 483.5L1386.0 488.2L1395.0 474.5L1395.6 445.3L1386.0 416.2L1386.0 416.2ZM966.2 445.3L959.4 474.5L966.2 478.4L979.7 485.1L990.5 474.5L988.7 445.3L979.7 432.4L966.2 445.3ZM1047.4 182.8L1047.4 182.8L1047.4 182.8L1047.4 182.8ZM1101.6 212.0L1101.6 212.0L1101.6 212.0L1101.6 212.0ZM1345.3 212.0L1345.3 212.0L1345.3 241.2L1352.1 270.3L1345.3 276.2L1340.8 270.3L1345.3 241.2L1345.3 212.0ZM1386.0 544.5L1399.5 546.4L1413.0 562.0L1413.0 562.0L1413.0 562.0L1408.5 562.0L1399.5 551.6L1386.0 550.3L1381.4 562.0L1379.2 562.0Z" fill="#2d1ea5" stroke="#2d1ea5" stroke-width="0.7" fill-rule="evenodd"/><path d="M925.5 51.6L927.8 66.2L928.3 95.3L931.0 124.5L931.6 153.7L929.4 182.8L925.5 188.7L924.6 182.8L923.6 153.7L922.2 124.5L921.8 95.3L921.7 66.2ZM966.2 56.4L968.4 66.2L972.2 95.3L979.7 116.2L984.2 124.5L984.8 153.7L986.5 182.8L985.7 212.0L990.5 241.2L993.2 255.8L994.5 241.2L999.4 212.0L1001.4 182.8L1001.7 153.7L1002.3 124.5L1006.8 109.9L1009.5 124.5L1016.9 153.7L1020.3 168.2L1027.1 182.8L1029.4 212.0L1031.2 241.2L1033.9 255.8L1038.4 241.2L1038.4 212.0L1037.3 182.8L1041.4 153.7L1045.5 124.5L1047.4 109.9L1061.0 114.8L1065.5 124.5L1070.0 153.7L1070.0 182.8L1064.8 212.0L1064.3 241.2L1064.3 270.3L1067.7 299.5L1061.0 314.1L1047.4 321.4L1040.6 328.7L1033.9 343.2L1020.3 348.1L1006.8 348.1L993.2 343.2L991.3 328.7L989.9 299.5L979.7 289.8L966.2 293.7L959.4 299.5L961.7 328.7L959.4 357.8L952.6 372.4L949.9 357.8L948.1 328.7L949.6 299.5L952.6 289.8L957.1 270.3L957.1 241.2L957.7 212.0L957.7 182.8L959.4 153.7L961.1 124.5L960.1 95.3L961.7 66.2ZM966.2 124.5L962.8 153.7L960.2 182.8L960.2 212.0L961.7 241.2L963.9 270.3L966.2 276.2L979.7 280.1L987.8 270.3L982.4 241.2L981.2 212.0L983.1 182.8L979.7 153.7L979.7 153.7L966.2 124.5L966.2 124.5ZM1006.8 153.7L1005.4 182.8L1003.1 212.0L998.2 241.2L995.7 270.3L1006.8 299.5L1006.8 299.5L1020.3 299.5L1033.9 299.5L1047.4 299.5L1047.4 299.5L1047.4 270.3L1047.4 270.3L1047.4 270.3L1033.9 299.5L1028.5 270.3L1023.0 241.2L1020.3 226.6L1016.9 212.0L1011.3 182.8L1006.8 153.7L1006.8 153.7ZM1047.4 182.8L1047.4 182.8L1047.4 182.8L1047.4 182.8ZM1209.9 51.6L1223.5 56.4L1226.2 66.2L1230.2 95.3L1230.2 124.5L1237.0 147.8L1241.5 153.7L1250.5 161.0L1257.3 153.7L1264.1 145.3L1277.6 134.2L1284.4 124.5L1291.2 116.2L1304.7 105.1L1311.5 95.3L1318.2 80.8L1331.8 80.8L1345.3 80.8L1352.1 95.3L1354.4 124.5L1354.4 153.7L1351.4 182.8L1352.7 212.0L1355.5 241.2L1358.9 250.9L1372.4 257.4L1386.0 255.8L1389.3 241.2L1393.5 212.0L1395.0 182.8L1395.6 153.7L1394.1 124.5L1390.5 95.3L1392.7 66.2L1399.5 51.6L1406.3 66.2L1408.5 95.3L1408.5 124.5L1413.0 139.1L1417.6 124.5L1417.6 95.3L1419.8 66.2L1426.6 51.6L1440.1 51.6L1446.9 66.2L1453.7 95.3L1460.4 66.2L1467.2 51.6L1480.8 51.6L1484.6 66.2L1486.8 95.3L1486.8 124.5L1487.5 153.7L1487.5 182.8L1486.8 212.0L1487.8 241.2L1489.8 270.3L1491.3 299.5L1491.6 328.7L1489.2 357.8L1480.8 384.3L1476.2 357.8L1474.0 328.7L1471.0 299.5L1467.2 290.6L1458.6 299.5L1454.5 328.7L1453.7 336.0L1450.0 357.8L1445.2 387.0L1442.1 416.2L1440.1 445.3L1440.1 445.3L1426.6 454.1L1418.0 474.5L1413.0 493.9L1404.0 503.7L1399.5 506.3L1392.7 503.7L1386.0 502.0L1372.4 501.4L1358.9 495.1L1345.3 500.4L1331.8 496.4L1318.2 482.8L1304.7 496.4L1291.2 492.0L1277.6 491.2L1264.1 493.9L1250.5 492.0L1237.0 493.2L1223.5 495.7L1209.9 496.9L1201.8 503.7L1196.4 505.8L1182.8 507.0L1169.3 507.6L1155.7 505.1L1152.4 503.7L1142.2 496.9L1128.7 493.9L1115.1 496.9L1101.6 497.8L1088.0 497.8L1074.5 501.0L1061.0 499.5L1047.4 498.8L1033.9 498.8L1020.3 500.4L1006.8 499.5L993.2 496.4L979.7 495.7L966.2 493.9L952.6 483.2L939.1 475.4L925.5 474.5L925.5 474.5L925.2 445.3L925.5 425.9L932.3 416.2L939.1 407.8L952.6 396.7L966.2 403.2L979.7 405.2L993.2 400.3L1003.4 416.2L1006.8 423.5L1020.3 423.5L1027.1 416.2L1033.9 407.8L1047.4 396.7L1056.4 387.0L1061.0 377.3L1074.5 372.4L1081.3 387.0L1088.0 394.3L1101.6 403.2L1115.1 403.2L1128.7 400.3L1142.2 401.6L1145.9 387.0L1142.2 369.5L1128.7 370.8L1122.6 357.8L1119.6 328.7L1121.9 299.5L1121.9 270.3L1128.7 255.8L1131.4 241.2L1133.9 212.0L1133.9 182.8L1135.4 153.7L1136.8 124.5L1138.8 95.3L1142.2 80.8L1155.8 85.6L1157.3 95.3L1158.5 124.5L1161.2 153.7L1165.9 182.8L1169.3 197.4L1176.1 212.0L1182.8 241.2L1182.8 241.2L1190.2 270.3L1196.4 281.6L1200.9 270.3L1203.1 241.2L1203.8 212.0L1204.1 182.8L1196.4 159.5L1194.4 153.7L1196.4 145.3L1203.9 124.5L1200.9 95.3L1203.1 66.2ZM1142.2 153.7L1140.1 182.8L1140.1 212.0L1139.5 241.2L1137.7 270.3L1142.2 284.9L1143.9 299.5L1142.2 328.7L1142.2 328.7L1142.2 328.7L1143.9 357.8L1149.6 387.0L1142.2 416.2L1128.7 416.2L1128.7 416.2L1115.1 421.0L1101.6 423.5L1088.0 416.2L1088.0 416.2L1074.5 416.2L1074.5 416.2L1061.0 421.0L1047.4 423.5L1033.9 435.6L1020.3 445.3L1006.8 445.3L993.2 416.2L993.2 416.2L979.7 416.2L979.7 416.2L966.2 421.0L952.6 423.5L939.1 445.3L939.1 445.3L939.1 445.3L944.5 474.5L952.6 478.9L966.2 488.1L979.7 491.7L993.2 485.4L1006.8 487.0L1020.3 490.7L1033.9 491.5L1047.4 491.5L1061.0 493.2L1074.5 493.1L1088.0 489.1L1101.6 489.1L1115.1 490.2L1128.7 486.7L1142.2 490.2L1155.8 501.0L1159.6 503.7L1169.3 506.1L1182.8 505.3L1196.4 504.2L1197.7 503.7L1209.9 493.6L1223.5 491.7L1237.0 487.0L1250.5 483.2L1264.1 484.2L1277.6 478.7L1291.2 483.2L1304.7 485.4L1318.2 476.6L1331.8 485.4L1345.3 490.7L1358.9 489.9L1372.4 494.7L1386.0 496.8L1399.5 484.2L1413.0 479.4L1414.3 474.5L1426.6 445.3L1426.6 445.3L1426.6 416.2L1440.1 387.0L1440.1 387.0L1446.3 357.8L1450.7 328.7L1453.7 309.2L1454.9 299.5L1467.2 286.8L1472.6 299.5L1475.2 328.7L1477.6 357.8L1480.8 376.4L1486.7 357.8L1489.6 328.7L1489.6 299.5L1488.3 270.3L1486.0 241.2L1484.5 212.0L1484.1 182.8L1480.8 153.7L1480.8 153.7L1467.2 139.1L1453.7 153.7L1440.1 153.7L1426.6 153.7L1426.6 153.7L1413.0 182.8L1413.0 182.8L1406.3 212.0L1399.5 241.2L1399.5 241.2L1395.0 270.3L1388.2 299.5L1389.3 328.7L1392.7 357.8L1392.7 387.0L1386.0 391.9L1372.4 403.7L1358.9 398.7L1345.3 406.4L1331.8 416.2L1331.8 416.2L1318.2 445.3L1304.7 445.3L1291.2 416.2L1291.2 416.2L1277.6 410.3L1264.1 416.2L1250.5 387.0L1250.5 357.8L1250.5 357.8L1237.0 328.7L1250.5 299.5L1250.5 299.5L1250.5 299.5L1237.0 299.5L1230.2 270.3L1237.0 241.2L1250.5 250.9L1264.1 260.6L1277.6 270.3L1277.6 270.3L1291.2 270.3L1291.2 270.3L1304.7 255.8L1318.2 241.2L1318.2 241.2L1318.2 212.0L1318.2 182.8L1318.2 153.7L1318.2 153.7L1304.7 153.7L1291.2 153.7L1291.2 153.7L1277.6 168.2L1264.1 173.1L1250.5 182.8L1250.5 182.8L1241.5 212.0L1237.0 241.2L1232.5 212.0L1223.5 182.8L1223.5 153.7L1223.5 153.7L1209.9 153.7L1209.9 153.7L1209.9 182.8L1207.5 212.0L1207.2 241.2L1206.3 270.3L1196.4 295.0L1182.8 270.3L1182.8 270.3L1172.7 241.2L1169.3 231.4L1155.8 212.0L1155.8 182.8L1155.8 182.8L1142.2 153.7L1142.2 153.7ZM1325.6 212.0L1326.4 241.2L1331.8 260.6L1337.2 241.2L1337.9 212.0L1331.8 182.8ZM1345.3 212.0L1345.3 241.2L1340.8 270.3L1345.3 276.2L1352.1 270.3L1345.3 241.2L1345.3 212.0L1345.3 212.0ZM1260.7 299.5L1259.6 328.7L1260.7 357.8L1260.7 387.0L1264.1 394.3L1277.6 392.8L1291.2 400.3L1304.7 406.4L1318.2 403.2L1331.8 394.3L1338.6 387.0L1331.8 377.3L1325.8 357.8L1327.9 328.7L1331.8 314.1L1338.6 328.7L1340.8 357.8L1345.3 372.4L1358.9 372.4L1365.6 387.0L1372.4 391.2L1376.9 387.0L1376.9 357.8L1376.9 328.7L1372.4 314.1L1365.6 299.5L1358.9 289.8L1345.3 293.7L1331.8 284.9L1318.2 283.3L1304.7 283.3L1291.2 286.2L1277.6 292.2L1264.1 289.8ZM1372.4 51.6L1379.2 66.2L1381.4 95.3L1377.8 124.5L1374.7 153.7L1372.4 162.0L1365.6 153.7L1363.4 124.5L1363.4 95.3L1365.6 66.2ZM1534.9 85.6L1537.2 95.3L1534.9 100.2L1531.5 95.3ZM1088.0 109.9L1094.8 124.5L1101.6 139.1L1103.3 153.7L1105.0 182.8L1106.7 212.0L1107.0 241.2L1108.4 270.3L1101.6 277.6L1100.2 270.3L1098.6 241.2L1088.0 215.6L1085.8 212.0L1079.0 182.8L1077.9 153.7L1081.3 124.5ZM1088.0 153.7L1088.0 153.7L1088.0 153.7L1088.0 153.7ZM1101.6 212.0L1101.6 212.0L1101.6 212.0L1101.6 212.0ZM1507.8 145.3L1510.5 153.7L1507.8 156.3L1504.4 153.7ZM1088.0 299.5L1088.0 299.5L1090.8 328.7L1088.0 343.2L1081.3 328.7L1088.0 299.5ZM1562.0 295.3L1562.0 299.5L1562.0 328.7L1562.0 333.5L1548.5 332.3L1541.7 328.7L1548.5 321.4L1558.6 299.5ZM1507.8 401.6L1521.4 412.0L1523.1 416.2L1523.3 445.3L1521.4 449.5L1507.8 449.0L1505.9 445.3L1505.9 416.2ZM1386.0 541.0L1399.5 543.2L1413.0 558.5L1413.4 562.0L1413.0 562.0L1413.0 562.0L1399.5 546.4L1386.0 544.5L1379.2 562.0L1377.8 562.0Z" fill="#2800a0" stroke="#2800a0" stroke-width="0.7" fill-rule="evenodd"/><path d="M925.5 37.0L939.1 37.0L952.6 37.0L966.2 37.0L979.7 37.0L993.2 37.0L1006.8 37.0L1020.3 37.0L1033.9 37.0L1047.4 37.0L1061.0 37.0L1074.5 37.0L1088.0 37.0L1101.6 37.0L1115.1 37.0L1128.7 37.0L1142.2 37.0L1155.8 37.0L1169.3 37.0L1182.8 37.0L1196.4 37.0L1209.9 37.0L1223.5 37.0L1237.0 37.0L1250.5 37.0L1264.1 37.0L1277.6 37.0L1291.2 37.0L1304.7 37.0L1318.2 37.0L1331.8 37.0L1345.3 37.0L1358.9 37.0L1372.4 37.0L1386.0 37.0L1399.5 37.0L1413.0 37.0L1426.6 37.0L1440.1 37.0L1453.7 37.0L1467.2 37.0L1480.8 37.0L1489.8 37.0L1492.4 66.2L1492.8 95.3L1492.8 124.5L1492.0 153.7L1489.8 182.8L1488.3 212.0L1489.0 241.2L1490.8 270.3L1492.5 299.5L1492.9 328.7L1490.9 357.8L1483.5 387.0L1480.8 392.8L1480.0 387.0L1475.3 357.8L1473.1 328.7L1469.9 299.5L1467.2 293.2L1461.1 299.5L1456.1 328.7L1453.7 350.5L1452.4 357.8L1448.6 387.0L1445.9 416.2L1444.6 445.3L1440.1 451.2L1426.6 459.9L1420.4 474.5L1413.0 503.7L1413.0 503.7L1399.5 511.6L1386.0 508.5L1372.4 507.8L1369.0 503.7L1358.9 498.5L1348.7 503.7L1345.3 506.9L1331.8 503.7L1331.8 503.7L1318.2 487.0L1304.7 503.7L1304.7 503.7L1304.7 503.7L1291.2 497.8L1277.6 499.5L1264.1 500.4L1250.5 497.8L1237.0 497.4L1223.5 498.4L1209.9 499.2L1204.5 503.7L1196.4 506.8L1182.8 508.1L1169.3 508.5L1155.8 507.8L1145.6 503.7L1142.2 501.4L1128.7 498.8L1115.1 501.4L1101.6 503.7L1101.6 503.7L1088.0 503.7L1074.5 504.6L1061.0 503.7L1047.4 503.7L1033.9 503.7L1020.3 504.8L1006.8 506.3L993.2 503.7L993.2 503.7L979.7 498.4L966.2 497.8L952.6 486.2L939.1 477.2L925.5 475.4L925.2 474.5L924.9 445.3L925.4 416.2L925.5 396.7L939.1 391.2L943.6 387.0L944.5 357.8L943.6 328.7L943.6 299.5L952.6 270.3L952.6 270.3L954.1 241.2L956.0 212.0L956.0 182.8L957.1 153.7L957.7 124.5L954.1 95.3L952.6 85.6L949.2 66.2L939.1 44.3L932.3 66.2L931.9 95.3L936.4 124.5L937.6 153.7L937.1 182.8L925.5 200.3L922.8 182.8L921.7 153.7L918.8 124.5L916.9 95.3L913.9 66.2L912.0 56.4L912.0 37.0ZM921.7 66.2L921.8 95.3L922.2 124.5L923.6 153.7L924.6 182.8L925.5 188.7L929.4 182.8L931.6 153.7L931.0 124.5L928.2 95.3L927.8 66.2L925.5 51.6ZM961.7 66.2L960.1 95.3L961.1 124.5L959.4 153.7L957.7 182.8L957.7 212.0L957.1 241.2L957.1 270.3L952.6 289.8L949.6 299.5L948.1 328.7L949.9 357.8L952.6 372.4L959.4 357.8L961.7 328.7L959.4 299.5L966.2 293.7L979.7 289.8L989.9 299.5L991.3 328.7L993.2 343.2L1006.8 348.1L1020.3 348.1L1033.9 343.2L1040.6 328.7L1047.4 321.4L1061.0 314.1L1067.7 299.5L1064.3 270.3L1064.3 241.2L1064.8 212.0L1070.0 182.8L1070.0 153.7L1065.5 124.5L1061.0 114.8L1047.4 109.9L1045.5 124.5L1041.4 153.7L1037.3 182.8L1038.4 212.0L1038.4 241.2L1033.9 255.8L1031.2 241.2L1029.4 212.0L1027.1 182.8L1020.3 168.2L1016.9 153.7L1009.5 124.5L1006.8 109.9L1002.3 124.5L1001.7 153.7L1001.4 182.8L999.4 212.0L994.5 241.2L993.2 255.8L990.5 241.2L985.7 212.0L986.5 182.8L984.8 153.7L984.2 124.5L979.7 116.2L972.2 95.3L968.4 66.2L966.2 56.4ZM977.5 66.2L978.2 95.3L979.7 99.5L993.2 124.5L997.8 95.3L997.8 66.2L993.2 56.4L979.7 56.4ZM1015.8 66.2L1011.3 95.3L1014.9 124.5L1020.3 143.9L1029.4 153.7L1033.9 163.4L1035.4 153.7L1041.6 124.5L1045.2 95.3L1042.9 66.2L1033.9 46.7L1020.3 56.4ZM1106.1 66.2L1103.8 95.3L1103.8 124.5L1106.7 153.7L1108.4 182.8L1110.0 212.0L1112.4 241.2L1115.1 255.8L1121.9 241.2L1128.7 221.7L1129.7 212.0L1129.7 182.8L1130.9 153.7L1131.4 124.5L1132.1 95.3L1133.2 66.2L1128.7 56.4L1115.1 46.7ZM1164.8 66.2L1163.3 95.3L1163.9 124.5L1166.6 153.7L1169.3 168.2L1173.8 182.8L1182.8 202.3L1185.5 212.0L1188.2 241.2L1195.1 270.3L1196.4 272.6L1197.3 270.3L1200.4 241.2L1201.3 212.0L1200.2 182.8L1196.4 171.2L1190.6 153.7L1196.4 128.7L1197.9 124.5L1196.4 114.8L1194.1 95.3L1193.0 66.2L1182.8 44.3L1169.3 56.4ZM1203.1 66.2L1200.9 95.3L1203.9 124.5L1196.4 145.3L1194.4 153.7L1196.4 159.5L1204.1 182.8L1203.8 212.0L1203.1 241.2L1200.9 270.3L1196.4 281.6L1190.2 270.3L1182.8 241.2L1182.8 241.2L1176.1 212.0L1169.3 197.4L1165.9 182.8L1161.2 153.7L1158.5 124.5L1157.3 95.3L1155.8 85.6L1142.2 80.8L1138.8 95.3L1136.8 124.5L1135.4 153.7L1133.9 182.8L1133.9 212.0L1131.4 241.2L1128.7 255.8L1121.9 270.3L1121.9 299.5L1119.6 328.7L1122.6 357.8L1128.7 370.8L1142.2 369.5L1145.9 387.0L1142.2 401.6L1128.7 400.3L1115.1 403.2L1101.6 403.2L1088.0 394.3L1081.3 387.0L1074.5 372.4L1061.0 377.3L1056.4 387.0L1047.4 396.7L1033.9 407.8L1027.1 416.2L1020.3 423.5L1006.8 423.5L1003.4 416.2L993.2 400.3L979.7 405.2L966.2 403.2L952.6 396.7L939.1 407.8L932.3 416.2L925.5 425.9L925.2 445.3L925.5 474.5L925.5 474.5L939.1 475.4L952.6 483.2L966.2 493.9L979.7 495.7L993.2 496.4L1006.8 499.5L1020.3 500.4L1033.9 498.8L1047.4 498.8L1061.0 499.5L1074.5 501.0L1088.0 497.8L1101.6 497.8L1115.1 496.9L1128.7 493.9L1142.2 496.9L1152.4 503.7L1155.8 505.1L1169.3 507.6L1182.8 507.0L1196.4 505.8L1201.8 503.7L1209.9 496.9L1223.5 495.7L1237.0 493.2L1250.5 492.0L1264.1 493.9L1277.6 491.2L1291.2 492.0L1304.7 496.4L1318.2 482.8L1331.8 496.4L1345.3 500.4L1358.9 495.1L1372.4 501.4L1386.0 502.0L1392.7 503.7L1399.5 506.3L1404.0 503.7L1413.0 493.9L1418.0 474.5L1426.6 454.1L1440.1 445.3L1440.1 445.3L1442.1 416.2L1445.2 387.0L1450.0 357.8L1453.7 336.0L1454.5 328.7L1458.6 299.5L1467.2 290.6L1471.0 299.5L1474.0 328.7L1476.2 357.8L1480.8 384.3L1489.2 357.8L1491.6 328.7L1491.3 299.5L1489.8 270.3L1487.8 241.2L1486.8 212.0L1487.5 182.8L1487.5 153.7L1486.8 124.5L1486.8 95.3L1484.6 66.2L1480.8 51.6L1467.2 51.6L1460.4 66.2L1453.7 95.3L1446.9 66.2L1440.1 51.6L1426.6 51.6L1419.8 66.2L1417.6 95.3L1417.6 124.5L1413.0 139.1L1408.5 124.5L1408.5 95.3L1406.3 66.2L1399.5 51.6L1392.7 66.2L1390.5 95.3L1394.1 124.5L1395.6 153.7L1395.0 182.8L1393.5 212.0L1389.3 241.2L1386.0 255.8L1372.4 257.4L1358.9 250.9L1355.5 241.2L1352.7 212.0L1351.4 182.8L1354.4 153.7L1354.4 124.5L1352.1 95.3L1345.3 80.8L1331.8 80.8L1318.2 80.8L1311.5 95.3L1304.7 105.1L1291.2 116.2L1284.4 124.5L1277.6 134.2L1264.1 145.3L1257.3 153.7L1250.5 161.0L1241.5 153.7L1237.0 147.8L1230.2 124.5L1230.2 95.3L1226.2 66.2L1223.5 56.4L1209.9 51.6ZM1237.0 66.2L1237.0 95.3L1237.0 124.5L1250.5 146.4L1264.1 128.7L1268.6 124.5L1277.6 105.1L1291.2 99.5L1295.7 95.3L1295.7 66.2L1291.2 56.4L1277.6 56.4L1264.1 56.4L1250.5 51.6ZM1365.6 66.2L1363.4 95.3L1363.4 124.5L1365.6 153.7L1372.4 162.0L1374.7 153.7L1377.8 124.5L1381.4 95.3L1379.2 66.2L1372.4 51.6ZM1081.3 124.5L1077.9 153.7L1079.0 182.8L1085.8 212.0L1088.0 215.6L1098.6 241.2L1100.2 270.3L1101.6 277.6L1108.4 270.3L1107.0 241.2L1106.7 212.0L1105.0 182.8L1103.3 153.7L1101.6 139.1L1094.8 124.5L1088.0 109.9ZM1383.2 124.5L1379.2 153.7L1372.4 178.7L1358.9 173.1L1357.4 182.8L1357.6 212.0L1358.9 221.7L1367.9 241.2L1372.4 244.4L1376.9 241.2L1386.0 221.7L1387.5 212.0L1390.5 182.8L1391.8 153.7L1388.7 124.5L1386.0 109.9ZM988.2 153.7L988.7 182.8L988.7 212.0L993.2 233.9L996.9 212.0L998.7 182.8L998.3 153.7L993.2 124.5ZM1068.7 212.0L1067.7 241.2L1067.7 270.3L1074.5 293.7L1088.0 293.0L1097.1 299.5L1096.2 328.7L1093.5 357.8L1097.1 387.0L1101.6 390.2L1115.1 390.2L1128.7 389.7L1142.2 391.9L1143.4 387.0L1142.2 381.2L1128.7 383.8L1116.6 357.8L1115.1 348.1L1110.6 328.7L1108.4 299.5L1101.6 292.2L1097.5 270.3L1095.6 241.2L1088.0 222.9L1081.3 212.0L1074.5 190.1ZM972.9 299.5L968.9 328.7L968.4 357.8L966.2 377.3L961.7 387.0L966.2 390.2L979.7 397.9L993.2 389.7L1006.8 404.5L1020.3 408.9L1033.9 391.2L1038.4 387.0L1033.9 377.3L1020.3 365.1L1006.8 369.5L993.2 377.3L991.0 357.8L987.4 328.7L983.1 299.5L979.7 296.3ZM1088.0 299.5L1081.3 328.7L1088.0 343.2L1090.8 328.7L1088.0 299.5L1088.0 299.5ZM1534.9 51.6L1541.7 66.2L1546.2 95.3L1534.9 119.6L1530.4 124.5L1521.4 134.2L1516.0 153.7L1507.8 161.6L1497.7 153.7L1507.8 128.7L1512.3 124.5L1514.6 95.3L1521.4 85.6L1528.1 66.2ZM1531.5 95.3L1534.9 100.2L1537.2 95.3L1534.9 85.6ZM1504.4 153.7L1507.8 156.3L1510.5 153.7L1507.8 145.3ZM1331.8 182.8L1337.9 212.0L1337.2 241.2L1331.8 260.6L1326.4 241.2L1325.6 212.0ZM1330.6 212.0L1331.8 241.2L1333.0 212.0L1331.8 206.2ZM1264.1 289.8L1277.6 292.2L1291.2 286.2L1304.7 283.3L1318.2 283.3L1331.8 284.9L1345.3 293.7L1358.9 289.8L1365.6 299.5L1372.4 314.1L1376.9 328.7L1376.9 357.8L1376.9 387.0L1372.4 391.2L1365.6 387.0L1358.9 372.4L1345.3 372.4L1340.8 357.8L1338.6 328.7L1331.8 314.1L1327.9 328.7L1325.8 357.8L1331.8 377.3L1338.6 387.0L1331.8 394.3L1318.2 403.2L1304.7 406.4L1291.2 400.3L1277.6 392.8L1264.1 394.3L1260.7 387.0L1260.7 357.8L1259.6 328.7L1260.7 299.5ZM1286.7 299.5L1286.7 328.7L1286.7 357.8L1286.7 387.0L1291.2 389.7L1304.7 396.7L1318.2 390.2L1322.8 387.0L1319.8 357.8L1320.2 328.7L1322.8 299.5L1318.2 296.3L1304.7 296.3L1291.2 296.8ZM1562.0 287.0L1562.0 295.3L1558.6 299.5L1548.5 321.4L1541.7 328.7L1548.5 332.3L1562.0 333.5L1562.0 343.2L1548.5 339.6L1534.9 336.0L1532.2 328.7L1534.9 322.8L1548.5 306.8L1551.8 299.5ZM1507.8 348.1L1510.5 357.8L1510.5 387.0L1521.4 403.7L1526.5 416.2L1527.2 445.3L1521.4 457.8L1507.8 456.3L1502.0 445.3L1502.0 416.2L1505.1 387.0L1505.1 357.8ZM1505.9 416.2L1505.9 445.3L1507.8 449.0L1521.4 449.5L1523.3 445.3L1523.1 416.2L1521.4 412.0L1507.8 401.6ZM1386.0 538.7L1399.5 541.2L1413.0 556.2L1413.7 562.0L1413.4 562.0L1413.0 558.5L1399.5 543.2L1386.0 541.0L1377.8 562.0L1376.9 562.0Z" fill="#1e3cff" stroke="#1e3cff" stroke-width="0.7" fill-rule="evenodd"/><path d="M913.9 66.2L916.9 95.3L918.8 124.5L921.7 153.7L922.8 182.8L925.5 200.3L937.1 182.8L937.6 153.7L936.4 124.5L931.9 95.3L932.3 66.2L939.1 44.3L949.2 66.2L952.6 85.6L954.1 95.3L957.7 124.5L957.1 153.7L956.0 182.8L956.0 212.0L954.1 241.2L952.6 270.3L952.6 270.3L943.6 299.5L943.6 328.7L944.5 357.8L943.6 387.0L939.1 391.2L925.5 396.7L925.4 416.2L924.9 445.3L925.2 474.5L925.5 475.4L939.1 477.2L952.6 486.2L966.2 497.8L979.7 498.4L993.2 503.7L993.2 503.7L1006.8 506.3L1020.3 504.8L1033.9 503.7L1047.4 503.7L1061.0 503.7L1074.5 504.6L1088.0 503.7L1101.6 503.7L1101.6 503.7L1115.1 501.4L1128.7 498.8L1142.2 501.4L1145.6 503.7L1155.8 507.8L1169.3 508.5L1182.8 508.1L1196.4 506.8L1204.5 503.7L1209.9 499.2L1223.5 498.4L1237.0 497.4L1250.5 497.8L1264.1 500.4L1277.6 499.5L1291.2 497.8L1304.7 503.7L1304.7 503.7L1304.7 503.7L1318.2 487.0L1331.8 503.7L1331.8 503.7L1345.3 506.9L1348.7 503.7L1358.9 498.5L1369.0 503.7L1372.4 507.8L1386.0 508.5L1399.5 511.6L1413.0 503.7L1413.0 503.7L1420.4 474.5L1426.6 459.9L1440.1 451.2L1444.6 445.3L1445.9 416.2L1448.6 387.0L1452.4 357.8L1453.7 350.5L1456.1 328.7L1461.1 299.5L1467.2 293.2L1469.9 299.5L1473.1 328.7L1475.3 357.8L1480.0 387.0L1480.8 392.8L1483.5 387.0L1490.9 357.8L1492.9 328.7L1492.5 299.5L1490.8 270.3L1489.0 241.2L1488.3 212.0L1489.8 182.8L1492.0 153.7L1492.8 124.5L1492.8 95.3L1492.4 66.2L1489.8 37.0L1494.3 37.0L1507.8 37.0L1521.4 37.0L1534.9 37.0L1548.5 37.0L1562.0 37.0L1562.0 66.2L1562.0 95.3L1562.0 109.9L1548.5 124.5L1548.5 124.5L1534.9 142.0L1521.4 153.7L1521.4 153.7L1507.8 166.9L1494.3 163.4L1492.0 182.8L1489.8 212.0L1490.2 241.2L1491.8 270.3L1493.7 299.5L1494.3 328.7L1507.8 328.7L1507.8 328.7L1516.0 357.8L1516.0 387.0L1521.4 395.3L1529.8 416.2L1531.0 445.3L1521.4 466.2L1507.8 463.6L1498.2 445.3L1498.2 416.2L1499.7 387.0L1499.7 357.8L1494.3 328.7L1492.6 357.8L1488.9 387.0L1480.8 404.5L1478.4 387.0L1474.4 357.8L1472.3 328.7L1468.8 299.5L1467.2 295.7L1463.5 299.5L1457.6 328.7L1454.5 357.8L1453.7 372.4L1452.0 387.0L1449.8 416.2L1449.2 445.3L1440.1 457.0L1426.6 465.8L1422.9 474.5L1413.4 503.7L1413.0 506.6L1399.5 516.9L1386.0 518.2L1372.4 516.2L1362.3 503.7L1358.9 502.0L1355.5 503.7L1345.3 513.4L1331.8 506.3L1328.4 503.7L1318.2 491.2L1308.1 503.7L1304.7 505.1L1291.2 503.7L1277.6 504.4L1264.1 504.5L1250.5 503.7L1250.5 503.7L1237.0 501.6L1223.5 501.0L1209.9 501.4L1207.2 503.7L1196.4 507.8L1182.8 509.2L1169.3 509.5L1155.8 510.6L1142.2 504.3L1128.7 503.7L1115.1 504.3L1101.6 505.3L1088.0 505.2L1074.5 506.3L1061.0 505.3L1047.4 505.6L1033.9 505.6L1020.3 507.0L1006.8 511.6L993.2 506.3L986.5 503.7L979.7 501.0L966.2 501.7L952.6 489.1L939.1 478.9L925.5 476.4L924.9 474.5L924.6 445.3L925.1 416.2L925.3 387.0L925.3 357.8L925.3 328.7L925.3 299.5L925.5 284.9L932.3 270.3L932.3 241.2L925.5 212.0L925.5 212.0L921.0 182.8L919.7 153.7L915.4 124.5L912.0 95.3L912.0 95.3L912.0 66.2L912.0 56.4ZM936.8 66.2L935.5 95.3L939.1 114.8L945.9 124.5L944.9 153.7L944.9 182.8L943.6 212.0L952.6 231.4L954.3 212.0L954.3 182.8L954.9 153.7L954.3 124.5L952.6 112.8L946.8 95.3L942.5 66.2L939.1 58.9ZM1528.1 66.2L1521.4 85.6L1514.6 95.3L1512.3 124.5L1507.8 128.7L1497.7 153.7L1507.8 161.6L1516.0 153.7L1521.4 134.2L1530.4 124.5L1534.9 119.6L1546.2 95.3L1541.7 66.2L1534.9 51.6ZM1505.1 357.8L1505.1 387.0L1502.0 416.2L1502.0 445.3L1507.8 456.3L1521.4 457.8L1527.2 445.3L1526.5 416.2L1521.4 403.7L1510.5 387.0L1510.5 357.8L1507.8 348.1ZM979.7 56.4L993.2 56.4L997.8 66.2L997.8 95.3L993.2 124.5L979.7 99.5L978.2 95.3L977.5 66.2ZM1020.3 56.4L1033.9 46.7L1042.9 66.2L1045.2 95.3L1041.6 124.5L1035.4 153.7L1033.9 163.4L1029.4 153.7L1020.3 143.9L1014.9 124.5L1011.3 95.3L1015.8 66.2ZM1020.3 95.3L1020.3 124.5L1033.9 141.2L1037.7 124.5L1040.6 95.3L1033.9 66.2ZM1115.1 46.7L1128.7 56.4L1133.2 66.2L1132.1 95.3L1131.4 124.5L1130.9 153.7L1129.7 182.8L1129.7 212.0L1128.7 221.7L1121.9 241.2L1115.1 255.8L1112.4 241.2L1110.0 212.0L1108.4 182.8L1106.7 153.7L1103.8 124.5L1103.8 95.3L1106.1 66.2ZM1108.4 95.3L1108.4 124.5L1110.0 153.7L1111.7 182.8L1113.4 212.0L1115.1 226.6L1120.5 212.0L1122.9 182.8L1125.3 153.7L1125.3 124.5L1125.3 95.3L1115.1 66.2ZM1169.3 56.4L1182.8 44.3L1193.0 66.2L1194.1 95.3L1196.4 114.8L1197.9 124.5L1196.4 128.7L1190.6 153.7L1196.4 171.2L1200.2 182.8L1201.3 212.0L1200.4 241.2L1197.3 270.3L1196.4 272.6L1195.1 270.3L1188.2 241.2L1185.5 212.0L1182.8 202.3L1173.8 182.8L1169.3 168.2L1166.6 153.7L1163.9 124.5L1163.3 95.3L1164.8 66.2ZM1177.4 66.2L1169.3 95.3L1169.3 124.5L1173.8 153.7L1182.8 182.8L1186.7 153.7L1191.9 124.5L1189.6 95.3L1186.2 66.2L1182.8 58.9ZM1191.0 212.0L1193.7 241.2L1196.4 252.8L1197.7 241.2L1198.8 212.0L1196.4 182.8ZM1250.5 51.6L1264.1 56.4L1277.6 56.4L1291.2 56.4L1295.7 66.2L1295.7 95.3L1291.2 99.5L1277.6 105.1L1268.6 124.5L1264.1 128.7L1250.5 146.4L1237.0 124.5L1237.0 95.3L1237.0 66.2ZM1243.8 95.3L1246.0 124.5L1250.5 131.8L1256.0 124.5L1258.3 95.3L1250.5 75.9ZM1386.0 109.9L1388.7 124.5L1391.8 153.7L1390.5 182.8L1387.5 212.0L1386.0 221.7L1376.9 241.2L1372.4 244.4L1367.9 241.2L1358.9 221.7L1357.6 212.0L1357.4 182.8L1358.9 173.1L1372.4 178.7L1379.2 153.7L1383.2 124.5ZM1383.7 153.7L1386.0 182.8L1387.9 153.7L1386.0 139.1ZM993.2 124.5L998.3 153.7L998.7 182.8L996.9 212.0L993.2 233.9L988.7 212.0L988.7 182.8L988.2 153.7ZM991.6 153.7L991.0 182.8L991.7 212.0L993.2 219.3L994.5 212.0L996.0 182.8L994.9 153.7L993.2 143.9ZM1074.5 190.1L1081.3 212.0L1088.0 222.9L1095.6 241.2L1097.5 270.3L1101.6 292.2L1108.4 299.5L1110.6 328.7L1115.1 348.1L1116.6 357.8L1128.7 383.8L1142.2 381.2L1143.4 387.0L1142.2 391.9L1128.7 389.7L1115.1 390.2L1101.6 390.2L1097.1 387.0L1093.5 357.8L1096.2 328.7L1097.1 299.5L1088.0 293.0L1074.5 293.7L1067.7 270.3L1067.7 241.2L1068.7 212.0ZM1072.6 212.0L1071.1 241.2L1071.1 270.3L1074.5 282.0L1088.0 286.5L1094.8 270.3L1092.6 241.2L1088.0 230.2L1076.8 212.0L1074.5 204.7ZM1331.8 206.2L1333.0 212.0L1331.8 241.2L1330.6 212.0ZM979.7 296.3L983.1 299.5L987.4 328.7L991.0 357.8L993.2 377.3L1006.8 369.5L1020.3 365.1L1033.9 377.3L1038.4 387.0L1033.9 391.2L1020.3 408.9L1006.8 404.5L993.2 389.7L979.7 397.9L966.2 390.2L961.7 387.0L966.2 377.3L968.4 357.8L968.9 328.7L972.9 299.5ZM974.3 328.7L972.9 357.8L974.3 387.0L979.7 390.6L985.1 387.0L986.5 357.8L983.6 328.7L979.7 309.2ZM1011.3 387.0L1020.3 394.3L1025.8 387.0L1020.3 379.7ZM1291.2 296.8L1304.7 296.3L1318.2 296.3L1322.8 299.5L1320.2 328.7L1319.8 357.8L1322.8 387.0L1318.2 390.2L1304.7 396.7L1291.2 389.7L1286.7 387.0L1286.7 357.8L1286.7 328.7L1286.7 299.5ZM1297.0 357.8L1304.7 387.0L1312.4 357.8L1304.7 328.7ZM1548.5 295.3L1562.0 278.7L1562.0 287.0L1551.8 299.5L1548.5 306.8L1534.9 322.8L1532.2 328.7L1534.9 336.0L1548.5 339.6L1562.0 343.2L1562.0 353.0L1548.5 346.9L1534.9 350.5L1526.8 328.7L1534.9 311.2L1543.9 299.5ZM1386.0 536.3L1399.5 539.1L1413.0 553.8L1413.9 562.0L1413.7 562.0L1413.0 556.2L1399.5 541.2L1386.0 538.7L1376.9 562.0L1376.0 562.0Z" fill="#1e64d2" stroke="#1e64d2" stroke-width="0.7" fill-rule="evenodd"/><path d="M939.1 58.9L942.5 66.2L946.8 95.3L952.6 112.8L954.3 124.5L954.9 153.7L954.3 182.8L954.3 212.0L952.6 231.4L943.6 212.0L944.9 182.8L944.9 153.7L945.9 124.5L939.1 114.8L935.5 95.3L936.8 66.2ZM1182.8 58.9L1186.2 66.2L1189.6 95.3L1191.9 124.5L1186.7 153.7L1182.8 182.8L1173.8 153.7L1169.3 124.5L1169.3 95.3L1177.4 66.2ZM1033.9 66.2L1040.6 95.3L1037.7 124.5L1033.9 141.2L1020.3 124.5L1020.3 95.3ZM1115.1 66.2L1125.3 95.3L1125.3 124.5L1125.3 153.7L1122.9 182.8L1120.5 212.0L1115.1 226.6L1113.4 212.0L1111.7 182.8L1110.0 153.7L1108.4 124.5L1108.4 95.3ZM1250.5 75.9L1258.3 95.3L1256.0 124.5L1250.5 131.8L1246.0 124.5L1243.8 95.3ZM915.4 124.5L919.7 153.7L921.0 182.8L925.5 212.0L925.5 212.0L932.3 241.2L932.3 270.3L925.5 284.9L925.3 299.5L925.3 328.7L925.3 357.8L925.3 387.0L925.1 416.2L924.6 445.3L924.9 474.5L925.5 476.4L939.1 478.9L952.6 489.1L966.2 501.7L979.7 501.0L986.5 503.7L993.2 506.3L1006.8 511.6L1020.3 507.0L1033.9 505.6L1047.4 505.6L1061.0 505.3L1074.5 506.3L1088.0 505.2L1101.6 505.3L1115.1 504.3L1128.7 503.7L1142.2 504.3L1155.8 510.6L1169.3 509.5L1182.8 509.2L1196.4 507.8L1207.2 503.7L1209.9 501.4L1223.5 501.0L1237.0 501.6L1250.5 503.7L1250.5 503.7L1264.1 504.5L1277.6 504.4L1291.2 503.7L1304.7 505.1L1308.1 503.7L1318.2 491.2L1328.4 503.7L1331.8 506.3L1345.3 513.4L1355.5 503.7L1358.9 502.0L1362.3 503.7L1372.4 516.2L1386.0 518.2L1399.5 516.9L1413.0 506.6L1413.4 503.7L1422.9 474.5L1426.6 465.8L1440.1 457.0L1449.2 445.3L1449.8 416.2L1452.0 387.0L1453.7 372.4L1454.5 357.8L1457.6 328.7L1463.5 299.5L1467.2 295.7L1468.8 299.5L1472.3 328.7L1474.4 357.8L1478.4 387.0L1480.8 404.5L1488.9 387.0L1492.6 357.8L1494.3 328.7L1499.7 357.8L1499.7 387.0L1498.2 416.2L1498.2 445.3L1507.8 463.6L1521.4 466.2L1531.0 445.3L1529.8 416.2L1521.4 395.3L1516.0 387.0L1516.0 357.8L1507.8 328.7L1507.8 328.7L1494.3 328.7L1493.7 299.5L1491.8 270.3L1490.2 241.2L1489.8 212.0L1492.0 182.8L1494.3 163.4L1507.8 166.9L1521.4 153.7L1521.4 153.7L1534.9 142.0L1548.5 124.5L1548.5 124.5L1562.0 109.9L1562.0 124.5L1562.0 153.7L1562.0 182.8L1562.0 212.0L1562.0 241.2L1562.0 270.3L1562.0 278.7L1548.5 295.3L1543.9 299.5L1534.9 311.2L1526.8 328.7L1534.9 350.5L1548.5 346.9L1562.0 353.0L1562.0 357.8L1562.0 387.0L1562.0 416.2L1562.0 445.3L1562.0 464.8L1555.2 445.3L1555.2 416.2L1553.0 387.0L1548.5 372.4L1541.7 387.0L1539.4 416.2L1541.7 445.3L1541.7 474.5L1534.9 475.8L1521.4 476.6L1507.8 475.3L1494.3 475.0L1480.8 475.0L1467.2 474.5L1453.7 479.8L1446.9 474.5L1440.1 468.7L1431.1 474.5L1426.6 474.9L1414.2 503.7L1413.0 512.4L1399.5 527.5L1390.5 532.8L1399.5 534.9L1413.0 549.2L1414.5 562.0L1413.9 562.0L1413.0 553.8L1399.5 539.1L1386.0 536.3L1376.0 562.0L1374.2 562.0L1372.4 532.8L1372.4 532.8L1358.9 504.9L1345.3 526.4L1331.8 511.6L1321.6 503.7L1318.2 499.5L1314.9 503.7L1304.7 508.0L1291.2 506.4L1277.6 507.4L1264.1 508.0L1250.5 506.4L1237.0 505.6L1223.5 505.1L1209.9 504.8L1196.4 509.9L1182.8 511.4L1169.3 511.4L1155.8 516.2L1142.2 507.0L1128.7 506.1L1115.1 507.0L1101.6 508.7L1088.0 508.3L1074.5 509.9L1061.0 508.7L1047.4 509.5L1033.9 509.5L1020.3 511.5L1006.8 522.2L993.2 511.6L979.7 504.8L966.2 506.0L961.7 503.7L952.6 494.9L939.1 482.5L925.5 478.3L924.3 474.5L924.0 445.3L924.4 416.2L924.7 387.0L924.7 357.8L924.7 328.7L924.4 299.5L923.7 270.3L923.0 241.2L921.9 212.0L917.4 182.8L915.9 153.7L912.0 134.2L912.0 124.5L912.0 95.3ZM1501.1 182.8L1494.3 197.4L1492.8 212.0L1492.5 241.2L1493.8 270.3L1494.3 277.6L1507.8 293.7L1521.4 299.5L1534.9 289.8L1548.5 278.7L1555.2 270.3L1559.3 241.2L1559.3 212.0L1548.5 182.8L1548.5 182.8L1534.9 171.2L1521.4 170.3L1507.8 177.5ZM1460.8 328.7L1457.6 357.8L1456.8 387.0L1457.1 416.2L1459.1 445.3L1467.2 474.5L1475.3 445.3L1477.4 416.2L1475.2 387.0L1472.6 357.8L1470.6 328.7L1467.2 302.7ZM993.2 143.9L994.9 153.7L996.0 182.8L994.5 212.0L993.2 219.3L991.7 212.0L991.0 182.8L991.6 153.7ZM1386.0 139.1L1387.9 153.7L1386.0 182.8L1383.7 153.7ZM1074.5 204.7L1076.8 212.0L1088.0 230.2L1092.6 241.2L1094.8 270.3L1088.0 286.5L1074.5 282.0L1071.1 270.3L1071.1 241.2L1072.6 212.0ZM1083.5 270.3L1088.0 273.6L1089.4 270.3L1088.0 255.8ZM1196.4 182.8L1198.8 212.0L1197.7 241.2L1196.4 252.8L1193.7 241.2L1191.0 212.0ZM979.7 309.2L983.6 328.7L986.5 357.8L985.1 387.0L979.7 390.6L974.3 387.0L972.9 357.8L974.3 328.7ZM1304.7 328.7L1312.4 357.8L1304.7 387.0L1297.0 357.8ZM1020.3 379.7L1025.8 387.0L1020.3 394.3L1011.3 387.0Z" fill="#14a014" stroke="#14a014" stroke-width="0.7" fill-rule="evenodd"/><path d="M915.9 153.7L917.4 182.8L921.9 212.0L923.0 241.2L923.7 270.3L924.4 299.5L924.7 328.7L924.7 357.8L924.7 387.0L924.4 416.2L924.0 445.3L924.3 474.5L925.5 478.3L939.1 482.5L952.6 494.9L961.7 503.7L966.2 506.0L979.7 504.8L993.2 511.6L1006.8 522.2L1020.3 511.5L1033.9 509.5L1047.4 509.5L1061.0 508.7L1074.5 509.9L1088.0 508.3L1101.6 508.7L1115.1 507.0L1128.7 506.1L1142.2 507.0L1155.8 516.2L1169.3 511.4L1182.8 511.4L1196.4 509.9L1209.9 504.8L1223.5 505.1L1237.0 505.6L1250.5 506.4L1264.1 508.0L1277.6 507.4L1291.2 506.4L1304.7 508.0L1314.9 503.7L1318.2 499.5L1321.6 503.7L1331.8 511.6L1345.3 526.4L1358.9 504.9L1372.4 532.8L1372.4 532.8L1374.2 562.0L1372.9 562.0L1372.4 554.7L1371.8 532.8L1358.9 506.1L1345.5 532.8L1345.3 534.5L1344.4 532.8L1331.8 515.6L1318.2 504.2L1304.7 510.2L1291.2 508.4L1277.6 509.6L1264.1 510.5L1250.5 508.4L1237.0 507.6L1223.5 507.2L1209.9 506.5L1196.4 511.5L1182.8 513.0L1169.3 512.9L1155.8 520.3L1142.2 509.0L1128.7 507.9L1115.1 509.0L1101.6 511.2L1088.0 510.6L1074.5 512.5L1061.0 511.2L1047.4 512.4L1033.9 512.4L1020.3 514.9L1006.8 530.2L993.2 515.6L979.7 506.5L966.2 508.4L957.1 503.7L952.6 499.3L939.1 485.1L925.5 479.7L923.8 474.5L923.6 445.3L924.0 416.2L924.2 387.0L924.2 357.8L924.2 328.7L923.7 299.5L921.8 270.3L920.5 241.2L919.2 212.0L914.7 182.8L913.0 153.7L912.0 148.8L912.0 134.2ZM1507.8 177.5L1521.4 170.3L1534.9 171.2L1548.5 182.8L1548.5 182.8L1559.3 212.0L1559.3 241.2L1555.2 270.3L1548.5 278.7L1534.9 289.8L1521.4 299.5L1507.8 293.7L1494.3 277.6L1493.8 270.3L1492.5 241.2L1492.8 212.0L1494.3 197.4L1501.1 182.8ZM1501.1 212.0L1494.3 241.2L1503.3 270.3L1507.8 276.2L1521.4 287.0L1534.9 275.2L1541.7 270.3L1548.5 255.8L1551.2 241.2L1551.2 212.0L1548.5 204.7L1534.9 190.1L1521.4 182.8L1507.8 197.4ZM1088.0 255.8L1089.4 270.3L1088.0 273.6L1083.5 270.3ZM1467.2 302.7L1470.6 328.7L1472.6 357.8L1475.2 387.0L1477.4 416.2L1475.3 445.3L1467.2 474.5L1459.1 445.3L1457.1 416.2L1456.8 387.0L1457.6 357.8L1460.8 328.7ZM1463.2 328.7L1460.0 357.8L1459.9 387.0L1462.1 416.2L1467.2 445.3L1472.3 416.2L1472.8 387.0L1471.3 357.8L1469.3 328.7L1467.2 312.5ZM1548.5 372.4L1553.0 387.0L1555.2 416.2L1555.2 445.3L1562.0 464.8L1562.0 474.5L1562.0 478.4L1548.5 477.7L1534.9 479.6L1521.4 479.7L1507.8 477.8L1494.3 476.6L1480.8 476.6L1467.2 476.3L1453.7 487.8L1440.1 475.1L1426.6 476.3L1414.8 503.7L1413.0 516.8L1400.6 532.8L1413.0 545.7L1414.8 562.0L1414.5 562.0L1413.0 549.2L1399.5 534.9L1390.5 532.8L1399.5 527.5L1413.0 512.4L1414.2 503.7L1426.6 474.9L1431.1 474.5L1440.1 468.7L1446.9 474.5L1453.7 479.8L1467.2 474.5L1480.8 475.0L1494.3 475.0L1507.8 475.3L1521.4 476.6L1534.9 475.8L1541.7 474.5L1541.7 445.3L1539.4 416.2L1541.7 387.0Z" fill="#3cd23c" stroke="#3cd23c" stroke-width="0.7" fill-rule="evenodd"/><path d="M913.0 153.7L914.7 182.8L919.2 212.0L920.5 241.2L921.8 270.3L923.7 299.5L924.2 328.7L924.2 357.8L924.2 387.0L924.0 416.2L923.6 445.3L923.8 474.5L925.5 479.7L939.1 485.1L952.6 499.3L957.1 503.7L966.2 508.4L979.7 506.5L993.2 515.6L1006.8 530.2L1020.3 514.9L1033.9 512.4L1047.4 512.4L1061.0 511.2L1074.5 512.5L1088.0 510.6L1101.6 511.2L1115.1 509.0L1128.7 507.9L1142.2 509.0L1155.8 520.3L1169.3 512.9L1182.8 513.0L1196.4 511.5L1209.9 506.5L1223.5 507.2L1237.0 507.6L1250.5 508.4L1264.1 510.5L1277.6 509.6L1291.2 508.4L1304.7 510.2L1318.2 504.2L1331.8 515.6L1344.4 532.8L1345.3 534.5L1345.5 532.8L1358.9 506.1L1371.8 532.8L1372.4 554.7L1372.9 562.0L1372.4 562.0L1371.6 562.0L1370.7 532.8L1358.9 508.5L1346.7 532.8L1345.3 544.8L1338.6 532.8L1331.8 523.6L1318.2 507.6L1304.7 514.6L1291.2 512.5L1277.6 514.1L1264.1 515.7L1250.5 512.5L1237.0 511.4L1223.5 511.5L1209.9 510.0L1196.4 514.6L1182.8 516.3L1169.3 515.8L1155.8 528.7L1142.2 512.9L1128.7 511.6L1115.1 512.9L1101.6 516.2L1088.0 515.2L1074.5 517.8L1061.0 516.2L1047.4 518.2L1033.9 518.2L1020.3 521.6L1011.3 532.8L1006.8 535.8L1001.1 532.8L993.2 523.6L979.7 510.0L966.2 513.1L952.6 505.6L950.4 503.7L939.1 490.4L925.5 482.5L922.9 474.5L922.7 445.3L923.0 416.2L923.2 387.0L923.2 357.8L923.2 328.7L922.3 299.5L918.2 270.3L915.4 241.2L913.8 212.0L912.0 200.3L912.0 182.8L912.0 153.7L912.0 148.8ZM1507.8 197.4L1521.4 182.8L1534.9 190.1L1548.5 204.7L1551.2 212.0L1551.2 241.2L1548.5 255.8L1541.7 270.3L1534.9 275.2L1521.4 287.0L1507.8 276.2L1503.3 270.3L1494.3 241.2L1501.1 212.0ZM1519.1 212.0L1515.6 241.2L1521.4 258.7L1528.1 241.2L1524.8 212.0L1521.4 207.8ZM1467.2 312.5L1469.3 328.7L1471.3 357.8L1472.8 387.0L1472.3 416.2L1467.2 445.3L1462.1 416.2L1459.9 387.0L1460.0 357.8L1463.2 328.7ZM1464.8 357.8L1466.2 387.0L1467.2 394.3L1468.0 387.0L1468.6 357.8L1467.2 336.0ZM1426.6 476.3L1440.1 475.1L1453.7 487.8L1467.2 476.3L1480.8 476.6L1494.3 476.6L1507.8 477.8L1521.4 479.7L1534.9 479.6L1548.5 477.7L1562.0 478.4L1562.0 490.1L1548.5 487.5L1534.9 487.2L1521.4 486.0L1507.8 482.8L1494.3 479.8L1480.8 479.8L1467.2 479.9L1453.7 503.7L1453.7 503.7L1453.7 503.7L1440.1 478.4L1426.6 479.0L1415.9 503.7L1413.0 525.5L1407.4 532.8L1413.0 538.7L1415.6 562.0L1414.8 562.0L1413.0 545.7L1400.6 532.8L1413.0 516.8L1414.8 503.7Z" fill="#78f078" stroke="#78f078" stroke-width="0.7" fill-rule="evenodd"/><path d="M913.8 212.0L915.4 241.2L918.2 270.3L922.3 299.5L923.2 328.7L923.2 357.8L923.2 387.0L923.0 416.2L922.7 445.3L922.9 474.5L925.5 482.5L939.1 490.4L950.4 503.7L952.6 505.6L966.2 513.1L979.7 510.0L993.2 523.6L1001.1 532.8L1006.8 535.8L1011.3 532.8L1020.3 521.6L1033.9 518.2L1047.4 518.2L1061.0 516.2L1074.5 517.8L1088.0 515.2L1101.6 516.2L1115.1 512.9L1128.7 511.6L1142.2 512.9L1155.8 528.7L1169.3 515.8L1182.8 516.3L1196.4 514.6L1209.9 510.0L1223.5 511.5L1237.0 511.4L1250.5 512.5L1264.1 515.7L1277.6 514.1L1291.2 512.5L1304.7 514.6L1318.2 507.6L1331.8 523.6L1338.6 532.8L1345.3 544.8L1346.7 532.8L1358.9 508.5L1370.7 532.8L1371.6 562.0L1370.4 562.0L1369.3 532.8L1358.9 511.4L1348.2 532.8L1345.3 556.9L1331.8 532.8L1331.8 532.8L1318.2 511.5L1304.7 519.7L1291.2 517.2L1277.6 519.4L1264.1 521.7L1250.5 517.2L1237.0 516.0L1223.5 516.5L1209.9 514.0L1196.4 518.2L1182.8 520.2L1169.3 519.2L1157.4 532.8L1155.8 534.9L1153.7 532.8L1142.2 517.6L1128.7 515.8L1115.1 517.6L1101.6 522.0L1088.0 520.6L1074.5 524.0L1061.0 522.0L1047.4 525.1L1033.9 525.1L1020.3 529.5L1017.6 532.8L1006.8 539.8L993.2 532.8L993.2 532.8L979.7 514.0L966.2 518.6L952.6 510.0L945.1 503.7L939.1 496.6L925.5 485.8L921.8 474.5L921.6 445.3L921.9 416.2L922.1 387.0L922.1 357.8L922.1 328.7L920.7 299.5L913.8 270.3L912.0 255.8L912.0 241.2L912.0 212.0L912.0 200.3ZM1521.4 207.8L1524.8 212.0L1528.1 241.2L1521.4 258.7L1515.6 241.2L1519.1 212.0ZM1467.2 336.0L1468.6 357.8L1468.0 387.0L1467.2 394.3L1466.2 387.0L1464.8 357.8ZM1426.6 479.0L1440.1 478.4L1453.7 503.7L1453.7 503.7L1453.7 503.7L1467.2 479.9L1480.8 479.8L1494.3 479.8L1507.8 482.8L1521.4 486.0L1534.9 487.2L1548.5 487.5L1562.0 490.1L1562.0 503.7L1562.0 503.7L1562.0 503.7L1548.5 498.8L1534.9 496.1L1521.4 493.2L1507.8 488.7L1494.3 483.5L1480.8 483.5L1467.2 484.0L1456.0 503.7L1453.7 508.2L1451.6 503.7L1440.1 482.4L1426.6 482.1L1417.3 503.7L1413.4 532.8L1416.5 562.0L1415.6 562.0L1413.0 538.7L1407.4 532.8L1413.0 525.5L1415.9 503.7Z" fill="#fff5aa" stroke="#fff5aa" stroke-width="0.7" fill-rule="evenodd"/><path d="M913.8 270.3L920.7 299.5L922.1 328.7L922.1 357.8L922.1 387.0L921.9 416.2L921.6 445.3L921.8 474.5L925.5 485.8L939.1 496.6L945.1 503.7L952.6 510.0L966.2 518.6L979.7 514.0L993.2 532.8L993.2 532.8L1006.8 539.8L1017.6 532.8L1020.3 529.5L1033.9 525.1L1047.4 525.1L1061.0 522.0L1074.5 524.0L1088.0 520.6L1101.6 522.0L1115.1 517.6L1128.7 515.8L1142.2 517.6L1153.7 532.8L1155.8 534.9L1157.4 532.8L1169.3 519.2L1182.8 520.2L1196.4 518.2L1209.9 514.0L1223.5 516.5L1237.0 516.0L1250.5 517.2L1264.1 521.7L1277.6 519.4L1291.2 517.2L1304.7 519.7L1318.2 511.5L1331.8 532.8L1331.8 532.8L1345.3 556.9L1348.2 532.8L1358.9 511.4L1369.3 532.8L1370.4 562.0L1369.0 562.0L1367.7 532.8L1358.9 514.6L1349.8 532.8L1346.4 562.0L1345.3 562.0L1343.4 562.0L1331.8 539.0L1328.9 532.8L1318.2 516.0L1304.7 525.5L1291.2 522.7L1277.6 525.4L1264.1 528.5L1250.5 522.7L1237.0 521.2L1223.5 522.2L1209.9 518.5L1196.4 522.4L1182.8 524.6L1169.3 523.1L1160.8 532.8L1155.8 539.0L1149.7 532.8L1142.2 522.9L1128.7 520.7L1115.1 522.9L1101.6 528.7L1088.0 526.7L1074.5 531.1L1061.0 528.7L1047.4 532.8L1047.4 532.8L1033.9 532.8L1020.3 536.5L1006.8 544.5L993.2 539.9L990.0 532.8L979.7 518.5L966.2 525.0L952.6 515.1L939.1 503.7L939.1 503.7L925.5 489.6L920.6 474.5L920.4 445.3L920.7 416.2L920.8 387.0L920.8 357.8L920.8 328.7L918.9 299.5L912.0 274.5L912.0 270.3L912.0 255.8ZM1426.6 482.1L1440.1 482.4L1451.6 503.7L1453.7 508.2L1456.0 503.7L1467.2 484.0L1480.8 483.5L1494.3 483.5L1507.8 488.7L1521.4 493.2L1534.9 496.1L1548.5 498.8L1562.0 503.7L1562.0 503.7L1562.0 509.1L1548.5 506.6L1534.9 504.9L1528.1 503.7L1521.4 501.6L1507.8 495.3L1494.3 487.8L1480.8 487.8L1467.2 488.8L1458.7 503.7L1453.7 513.4L1449.2 503.7L1440.1 486.8L1426.6 485.7L1418.8 503.7L1415.0 532.8L1417.6 562.0L1416.5 562.0L1413.4 532.8L1417.3 503.7Z" fill="#ffdc6e" stroke="#ffdc6e" stroke-width="0.7" fill-rule="evenodd"/><path d="M918.9 299.5L920.8 328.7L920.8 357.8L920.8 387.0L920.7 416.2L920.4 445.3L920.6 474.5L925.5 489.6L939.1 503.7L939.1 503.7L952.6 515.1L966.2 525.0L979.7 518.5L990.0 532.8L993.2 539.9L1006.8 544.5L1020.3 536.5L1033.9 532.8L1047.4 532.8L1047.4 532.8L1061.0 528.7L1074.5 531.1L1088.0 526.7L1101.6 528.7L1115.1 522.9L1128.7 520.7L1142.2 522.9L1149.7 532.8L1155.8 539.0L1160.8 532.8L1169.3 523.1L1182.8 524.6L1196.4 522.4L1209.9 518.5L1223.5 522.2L1237.0 521.2L1250.5 522.7L1264.1 528.5L1277.6 525.4L1291.2 522.7L1304.7 525.5L1318.2 516.0L1328.9 532.8L1331.8 539.0L1343.4 562.0L1339.5 562.0L1331.8 546.6L1325.4 532.8L1318.2 521.6L1304.7 532.8L1304.7 532.8L1304.7 532.8L1291.2 529.4L1277.6 532.8L1277.6 532.8L1264.1 536.1L1257.3 532.8L1250.5 529.4L1237.0 527.6L1223.5 529.3L1209.9 524.3L1196.4 527.6L1182.8 530.1L1169.3 528.0L1165.1 532.8L1155.8 544.1L1144.7 532.8L1142.2 529.5L1128.7 526.8L1115.1 529.5L1108.4 532.8L1101.6 536.1L1088.0 534.2L1074.5 538.3L1061.0 536.5L1047.4 540.1L1033.9 540.1L1020.3 543.8L1006.8 550.3L993.2 548.7L985.9 532.8L979.7 524.3L966.2 532.8L966.2 532.8L966.2 532.8L952.6 521.4L939.1 512.0L934.6 503.7L925.5 494.3L919.0 474.5L918.8 445.3L919.1 416.2L919.2 387.0L919.2 357.8L919.2 328.7L916.6 299.5L912.0 282.8L912.0 274.5ZM1426.6 485.7L1440.1 486.8L1449.2 503.7L1453.7 513.4L1458.7 503.7L1467.2 488.8L1480.8 487.8L1494.3 487.8L1507.8 495.3L1521.4 501.6L1528.1 503.7L1534.9 504.9L1548.5 506.6L1562.0 509.1L1562.0 515.9L1548.5 512.4L1534.9 511.1L1521.4 508.1L1507.8 503.7L1507.8 503.7L1494.3 493.1L1480.8 493.1L1467.2 494.7L1462.1 503.7L1453.7 519.9L1446.1 503.7L1440.1 492.4L1426.6 490.2L1420.8 503.7L1416.9 532.8L1418.8 562.0L1417.6 562.0L1415.0 532.8L1418.8 503.7ZM1358.9 514.6L1367.7 532.8L1369.0 562.0L1367.3 562.0L1365.7 532.8L1358.9 518.7L1351.8 532.8L1348.5 562.0L1346.4 562.0L1349.8 532.8Z" fill="#ffb93c" stroke="#ffb93c" stroke-width="0.7" fill-rule="evenodd"/><path d="M916.6 299.5L919.2 328.7L919.2 357.8L919.2 387.0L919.1 416.2L918.8 445.3L919.0 474.5L925.5 494.3L934.6 503.7L939.1 512.0L952.6 521.4L966.2 532.8L966.2 532.8L966.2 532.8L979.7 524.3L985.9 532.8L993.2 548.7L1006.8 550.3L1020.3 543.8L1033.9 540.1L1047.4 540.1L1061.0 536.5L1074.5 538.3L1088.0 534.2L1101.6 536.1L1108.4 532.8L1115.1 529.5L1128.7 526.8L1142.2 529.5L1144.7 532.8L1155.8 544.1L1165.1 532.8L1169.3 528.0L1182.8 530.1L1196.4 527.6L1209.9 524.3L1223.5 529.3L1237.0 527.6L1250.5 529.4L1257.3 532.8L1264.1 536.1L1277.6 532.8L1277.6 532.8L1291.2 529.4L1304.7 532.8L1304.7 532.8L1304.7 532.8L1318.2 521.6L1325.4 532.8L1331.8 546.6L1339.5 562.0L1333.7 562.0L1331.8 558.2L1320.0 532.8L1318.2 530.0L1314.9 532.8L1304.7 543.8L1291.2 540.1L1277.6 543.8L1264.1 545.8L1250.5 540.1L1237.0 538.4L1223.5 540.1L1209.9 532.8L1196.4 537.0L1182.8 540.1L1169.3 537.0L1155.8 551.8L1142.2 540.1L1128.7 537.0L1115.1 540.1L1101.6 545.8L1088.0 544.6L1074.5 548.4L1061.0 547.4L1047.4 551.1L1033.9 551.1L1020.3 554.7L1006.8 559.1L993.2 562.0L993.2 562.0L993.2 562.0L979.7 532.8L966.2 547.4L954.9 532.8L952.6 530.9L939.1 524.5L927.8 503.7L925.5 501.3L916.7 474.5L916.6 445.3L916.7 416.2L916.8 387.0L916.8 357.8L916.8 328.7L913.1 299.5L912.0 295.3L912.0 282.8ZM1426.6 490.2L1440.1 492.4L1446.1 503.7L1453.7 519.9L1462.1 503.7L1467.2 494.7L1480.8 493.1L1494.3 493.1L1507.8 503.7L1507.8 503.7L1521.4 508.1L1534.9 511.1L1548.5 512.4L1562.0 515.9L1562.0 526.1L1548.5 521.2L1534.9 520.4L1521.4 516.3L1507.8 512.4L1497.7 503.7L1494.3 501.0L1480.8 501.0L1467.2 503.7L1467.2 503.7L1453.7 529.6L1441.6 503.7L1440.1 500.9L1426.6 496.9L1423.7 503.7L1419.8 532.8L1420.8 562.0L1418.8 562.0L1416.9 532.8L1420.8 503.7ZM1358.9 518.7L1365.7 532.8L1367.3 562.0L1364.8 562.0L1362.8 532.8L1358.9 524.7L1354.8 532.8L1351.6 562.0L1348.5 562.0L1351.8 532.8Z" fill="#ff9b00" stroke="#ff9b00" stroke-width="0.7" fill-rule="evenodd"/><path d="M913.1 299.5L916.8 328.7L916.8 357.8L916.8 387.0L916.7 416.2L916.6 445.3L916.7 474.5L925.5 501.3L927.8 503.7L939.1 524.5L952.6 530.9L954.9 532.8L966.2 547.4L979.7 532.8L993.2 562.0L985.1 562.0L979.7 550.3L966.2 562.0L966.2 562.0L966.2 562.0L952.6 545.8L939.1 538.7L934.6 532.8L925.5 518.2L921.0 503.7L914.3 474.5L914.3 445.3L914.4 416.2L914.4 387.0L914.4 357.8L914.4 328.7L912.0 311.2L912.0 299.5L912.0 295.3ZM1426.6 496.9L1440.1 500.9L1441.6 503.7L1453.7 529.6L1467.2 503.7L1467.2 503.7L1480.8 501.0L1494.3 501.0L1497.7 503.7L1507.8 512.4L1521.4 516.3L1534.9 520.4L1548.5 521.2L1562.0 526.1L1562.0 532.8L1562.0 537.0L1555.2 532.8L1548.5 529.9L1534.9 529.7L1521.4 524.6L1507.8 521.2L1494.3 511.0L1480.8 512.0L1467.2 514.6L1457.5 532.8L1453.7 540.1L1449.8 532.8L1440.1 512.0L1426.6 503.7L1422.7 532.8L1422.7 562.0L1420.8 562.0L1419.8 532.8L1423.7 503.7ZM1318.2 530.0L1320.0 532.8L1331.8 558.2L1333.7 562.0L1331.8 562.0L1326.4 562.0L1318.2 544.5L1304.7 554.7L1291.2 551.1L1277.6 554.7L1264.1 555.5L1250.5 551.1L1237.0 550.2L1223.5 551.1L1209.9 547.4L1196.4 549.5L1182.8 551.1L1169.3 549.5L1155.8 559.4L1142.2 551.1L1128.7 549.5L1115.1 551.1L1101.6 555.5L1088.0 555.1L1074.5 558.6L1061.0 558.4L1047.4 562.0L1047.4 562.0L1033.9 562.0L1020.3 562.0L1006.8 562.0L993.2 562.0L1006.8 559.1L1020.3 554.7L1033.9 551.1L1047.4 551.1L1061.0 547.4L1074.5 548.4L1088.0 544.6L1101.6 545.8L1115.1 540.1L1128.7 537.0L1142.2 540.1L1155.8 551.8L1169.3 537.0L1182.8 540.1L1196.4 537.0L1209.9 532.8L1223.5 540.1L1237.0 538.4L1250.5 540.1L1264.1 545.8L1277.6 543.8L1291.2 540.1L1304.7 543.8L1314.9 532.8ZM1358.9 524.7L1362.8 532.8L1364.8 562.0L1362.3 562.0L1359.9 532.8L1358.9 530.8L1357.9 532.8L1354.7 562.0L1351.6 562.0L1354.8 532.8Z" fill="#c83c3c" stroke="#c83c3c" stroke-width="0.7" fill-rule="evenodd"/><path d="M914.4 328.7L914.4 357.8L914.4 387.0L914.4 416.2L914.3 445.3L914.3 474.5L921.0 503.7L925.5 518.2L934.6 532.8L939.1 538.7L952.6 545.8L966.2 562.0L952.6 562.0L939.1 562.0L925.5 562.0L918.8 562.0L912.0 532.8L912.0 532.8L912.0 503.7L912.0 474.5L912.0 445.3L912.0 416.2L912.0 387.0L912.0 357.8L912.0 328.7L912.0 311.2ZM1358.9 530.8L1359.9 532.8L1362.3 562.0L1358.9 562.0L1354.7 562.0L1357.9 532.8ZM1426.6 503.7L1440.1 512.0L1449.8 532.8L1453.7 540.1L1457.5 532.8L1467.2 514.6L1480.8 512.0L1494.3 511.0L1507.8 521.2L1521.4 524.6L1534.9 529.7L1548.5 529.9L1555.2 532.8L1562.0 537.0L1562.0 562.0L1548.5 562.0L1534.9 562.0L1521.4 562.0L1507.8 562.0L1507.8 562.0L1494.3 532.8L1480.8 542.6L1467.2 562.0L1467.2 562.0L1453.7 562.0L1440.1 562.0L1426.6 562.0L1422.7 562.0L1422.7 532.8ZM979.7 550.3L985.1 562.0L979.7 562.0L966.2 562.0ZM1061.0 558.4L1074.5 558.6L1088.0 555.1L1101.6 555.5L1115.1 551.1L1128.7 549.5L1142.2 551.1L1155.7 559.4L1169.3 549.5L1182.8 551.1L1196.4 549.5L1209.9 547.4L1223.5 551.1L1237.0 550.2L1250.5 551.1L1264.1 555.5L1277.6 554.7L1291.2 551.1L1304.7 554.7L1318.2 544.5L1326.4 562.0L1318.2 562.0L1304.7 562.0L1291.2 562.0L1277.6 562.0L1264.1 562.0L1250.5 562.0L1237.0 562.0L1223.5 562.0L1209.9 562.0L1196.4 562.0L1182.8 562.0L1169.3 562.0L1155.8 562.0L1142.2 562.0L1128.7 562.0L1115.1 562.0L1101.6 562.0L1088.0 562.0L1074.5 562.0L1061.0 562.0L1047.4 562.0Z" fill="#b4232a" stroke="#b4232a" stroke-width="0.7" fill-rule="evenodd"/><path d="M918.8 562.0L912.0 562.0L912.0 532.8ZM1480.8 542.6L1494.3 532.8L1507.8 562.0L1494.3 562.0L1480.8 562.0L1467.2 562.0Z" fill="#a51c24" stroke="#a51c24" stroke-width="0.7" fill-rule="evenodd"/></g><g clip-path="url(#c_u)"><path d="M677.1 1068.8L717.8 1074.7L717.8 1074.7L758.4 1103.8L758.4 1103.8L758.4 1132.9L758.4 1132.9L717.8 1132.9L677.1 1132.9L677.1 1132.9L636.5 1103.8L636.5 1103.8L636.5 1103.8L663.6 1074.7ZM149.0 1132.9L172.2 1162.0L149.0 1162.0L149.0 1132.9L149.0 1132.9Z" fill="#afd2af" stroke="#afd2af" stroke-width="0.7" fill-rule="evenodd"/><path d="M677.1 1016.4L717.8 1016.4L758.4 1016.4L799.0 1016.4L799.0 1016.4L799.0 1045.6L799.0 1074.7L799.0 1103.8L799.0 1132.9L799.0 1162.0L758.4 1162.0L717.8 1162.0L677.1 1162.0L636.5 1162.0L595.9 1162.0L555.2 1162.0L514.6 1162.0L474.0 1162.0L433.4 1162.0L392.8 1162.0L352.1 1162.0L311.5 1162.0L270.9 1162.0L230.2 1162.0L189.6 1162.0L172.2 1162.0L149.0 1132.9L149.0 1132.9L149.0 1103.8L149.0 1074.7L149.0 1067.4L189.6 1060.1L230.2 1060.1L270.9 1060.1L311.5 1055.3L352.1 1045.6L352.1 1045.6L392.8 1035.9L433.4 1035.9L474.0 1035.9L514.6 1031.0L555.2 1031.0L595.9 1031.0L636.5 1026.1L677.1 1016.4ZM663.6 1074.7L636.5 1103.8L636.5 1103.8L636.5 1103.8L677.1 1132.9L677.1 1132.9L717.8 1132.9L758.4 1132.9L758.4 1132.9L758.4 1103.8L758.4 1103.8L717.8 1074.7L717.8 1074.7L677.1 1068.8Z" fill="#c8e1c8" stroke="#c8e1c8" stroke-width="0.7" fill-rule="evenodd"/><path d="M758.4 926.5L799.0 925.0L799.0 929.1L799.0 958.2L799.0 987.3L799.0 1016.4L758.4 1016.4L717.8 1016.4L677.1 1016.4L677.1 1016.4L636.5 1026.1L595.9 1031.0L555.2 1031.0L514.6 1031.0L474.0 1035.9L433.4 1035.9L392.8 1035.9L352.1 1045.6L352.1 1045.6L311.5 1055.3L270.9 1060.1L230.2 1060.1L189.6 1060.1L149.0 1067.4L149.0 1045.6L149.0 1035.9L189.6 1031.0L230.2 1031.0L264.1 1016.4L270.9 1011.6L311.5 1006.7L352.1 987.3L352.1 987.3L392.8 980.1L433.4 980.1L474.0 979.2L514.6 977.6L555.2 977.6L595.9 972.8L624.9 958.2L636.5 954.3L677.1 946.1L717.8 934.9L738.1 929.1Z" fill="#e1ebe1" stroke="#e1ebe1" stroke-width="0.7" fill-rule="evenodd"/><path d="M758.4 900.0L799.0 897.6L799.0 900.0L799.0 925.0L758.4 926.5L738.1 929.1L717.8 934.9L677.1 946.1L636.5 954.3L624.9 958.2L595.9 972.8L555.2 977.6L514.6 977.6L474.0 979.2L433.4 980.1L392.8 980.1L352.1 987.3L352.1 987.3L311.5 1006.7L270.9 1011.6L264.1 1016.4L230.2 1031.0L189.6 1031.0L149.0 1035.9L149.0 1016.4L149.0 1001.9L189.6 1001.9L216.7 987.3L230.2 972.8L270.9 958.2L270.9 958.2L311.5 948.5L352.1 947.0L392.8 945.0L433.4 943.7L474.0 941.2L514.6 938.8L555.2 934.0L575.6 929.1L595.9 925.7L636.5 917.1L677.1 909.2L717.8 902.9L758.4 900.0Z" fill="#ffffff" stroke="#ffffff" stroke-width="0.7" fill-rule="evenodd"/><path d="M311.5 900.0L352.1 895.1L392.7 892.1L433.4 889.1L474.0 889.1L514.6 898.2L555.2 897.1L595.9 892.7L636.5 885.4L677.1 881.5L717.8 877.2L758.4 874.7L799.0 873.3L799.0 897.6L758.4 900.0L758.4 900.0L717.8 902.9L677.1 909.2L636.5 917.1L595.9 925.7L575.6 929.1L555.2 934.0L514.6 938.8L474.0 941.2L433.4 943.7L392.8 945.0L352.1 947.0L311.5 948.5L270.9 958.2L270.9 958.2L230.2 972.8L216.7 987.3L189.6 1001.9L149.0 1001.9L149.0 987.3L149.0 958.2L149.0 929.1L149.0 917.0L189.6 917.0L230.2 914.6L270.9 909.7L311.5 900.0Z" fill="#ffe1e1" stroke="#ffe1e1" stroke-width="0.7" fill-rule="evenodd"/><path d="M189.6 638.0L230.2 638.0L270.9 638.0L311.5 638.0L352.1 638.0L392.8 638.0L433.4 638.0L474.0 638.0L514.6 638.0L555.2 638.0L595.9 638.0L636.5 638.0L677.1 638.0L717.8 638.0L758.4 638.0L799.0 638.0L799.0 644.1L758.4 644.1L717.8 644.1L677.1 644.1L636.5 644.1L595.9 644.0L555.2 643.5L514.6 643.2L474.0 642.9L433.4 642.9L392.8 642.9L352.1 642.9L311.5 642.9L270.9 642.9L230.2 642.9L189.6 642.9L149.0 642.9L149.0 638.0ZM189.6 865.1L230.2 863.6L270.9 856.3L311.5 849.1L352.1 845.6L392.8 845.3L433.4 844.9L474.0 844.9L514.6 849.1L555.2 855.0L595.9 856.3L636.5 856.3L677.1 857.3L717.8 857.7L758.4 857.1L799.0 856.8L799.0 870.9L799.0 873.3L758.4 874.7L717.8 877.2L677.1 881.5L636.5 885.4L595.9 892.7L555.2 897.1L514.6 898.2L474.0 889.1L433.4 889.1L392.8 892.1L352.1 895.1L311.5 900.0L311.5 900.0L270.9 909.7L230.2 914.6L189.6 917.0L149.0 917.0L149.0 900.0L149.0 870.9L149.0 865.1Z" fill="#ffc3c3" stroke="#ffc3c3" stroke-width="0.7" fill-rule="evenodd"/><path d="M189.6 642.9L230.2 642.9L270.9 642.9L311.5 642.9L352.1 642.9L392.8 642.9L433.4 642.9L474.0 642.9L514.6 643.2L555.2 643.5L595.9 644.0L636.5 644.1L677.1 644.1L717.8 644.1L758.4 644.1L799.0 644.1L799.0 651.3L758.4 651.3L717.8 651.3L677.1 651.3L636.5 651.3L595.9 651.2L555.2 650.8L514.6 650.4L474.0 650.1L433.4 650.1L392.8 650.1L352.1 650.1L311.5 650.1L270.9 650.1L230.2 650.1L189.6 650.1L149.0 650.1L149.0 642.9ZM189.6 833.5L230.2 830.9L270.9 828.8L311.5 828.5L352.1 828.0L392.8 828.0L433.4 828.0L474.0 828.0L514.6 829.6L555.2 832.1L595.9 834.5L636.5 836.9L677.1 839.4L717.8 841.8L758.4 841.8L799.0 841.8L799.0 841.8L799.0 856.8L758.4 857.1L717.8 857.7L677.1 857.3L636.5 856.3L595.9 856.3L555.2 855.0L514.6 849.1L474.0 844.9L433.4 844.9L392.8 845.3L352.1 845.6L311.5 849.1L270.9 856.3L230.2 863.6L189.6 865.1L149.0 865.1L149.0 841.8L149.0 833.5Z" fill="#ffa5a5" stroke="#ffa5a5" stroke-width="0.7" fill-rule="evenodd"/><path d="M189.6 650.1L230.2 650.1L270.9 650.1L311.5 650.1L352.1 650.1L392.8 650.1L433.4 650.1L474.0 650.1L514.6 650.4L555.2 650.8L595.9 651.2L636.5 651.3L677.1 651.3L717.8 651.3L758.4 651.3L799.0 651.3L799.0 658.6L758.4 658.6L717.8 658.6L677.1 658.6L636.5 658.6L595.9 658.4L555.2 658.0L514.6 657.6L474.0 657.4L433.4 657.4L392.8 657.4L352.1 657.4L311.5 657.4L270.9 657.4L230.2 657.4L189.6 657.4L149.0 657.4L149.0 650.1ZM189.6 810.4L230.2 810.4L270.9 810.4L311.5 812.7L352.1 812.7L392.8 812.7L433.4 812.7L474.0 812.7L474.0 812.7L514.6 815.1L555.2 817.5L595.9 819.9L636.5 822.4L677.1 824.8L717.8 827.2L758.4 828.3L799.0 828.3L799.0 841.8L758.4 841.8L717.8 841.8L677.1 839.4L636.5 836.9L595.9 834.5L555.2 832.1L514.6 829.6L474.0 828.0L433.4 828.0L392.8 828.0L352.1 828.0L311.5 828.5L270.9 828.8L230.2 830.9L189.6 833.5L149.0 833.5L149.0 812.7L149.0 810.4Z" fill="#ff8c8c" stroke="#ff8c8c" stroke-width="0.7" fill-rule="evenodd"/><path d="M189.6 657.4L230.3 657.4L270.9 657.4L311.5 657.4L352.1 657.4L392.8 657.4L433.4 657.4L474.0 657.4L514.6 657.6L555.2 658.0L595.9 658.4L636.5 658.6L677.1 658.6L717.8 658.6L758.4 658.6L799.0 658.6L799.0 667.1L799.0 668.4L758.4 668.4L717.8 668.4L677.1 668.4L636.5 668.4L595.9 668.1L555.2 667.6L514.6 667.1L474.0 667.1L433.4 667.1L392.8 667.1L352.1 667.1L311.5 667.1L270.9 667.1L230.2 667.1L189.6 667.1L149.0 667.1L149.0 667.1L149.0 657.4ZM189.6 792.5L230.2 792.5L270.9 792.5L311.5 793.3L352.1 791.5L392.8 791.5L433.4 791.5L474.0 791.5L514.6 794.1L555.2 795.2L595.9 798.1L636.5 801.0L677.1 803.9L717.8 806.8L758.4 809.4L799.0 809.4L799.0 812.7L799.0 828.3L758.4 828.3L717.8 827.2L677.1 824.8L636.5 822.4L595.9 819.9L555.2 817.5L514.6 815.1L474.0 812.7L474.0 812.7L433.4 812.7L392.8 812.7L352.1 812.7L311.5 812.7L270.9 810.4L230.2 810.4L189.6 810.4L149.0 810.4L149.0 792.5Z" fill="#ff6e6e" stroke="#ff6e6e" stroke-width="0.7" fill-rule="evenodd"/><path d="M189.6 667.1L230.2 667.1L270.9 667.1L311.5 667.1L352.1 667.1L392.8 667.1L433.4 667.1L474.0 667.1L514.6 667.1L555.2 667.6L595.9 668.1L636.5 668.4L677.1 668.4L717.8 668.4L758.4 668.4L799.0 668.4L799.0 683.6L758.4 683.6L717.8 683.6L677.1 683.6L636.5 683.6L595.9 683.5L555.2 683.2L514.6 683.0L474.0 683.0L433.4 683.0L392.8 683.0L352.1 683.0L311.5 683.0L270.9 683.0L230.2 683.0L189.6 683.0L149.0 683.0L149.0 667.1ZM189.6 766.9L230.2 766.9L270.9 766.9L311.5 766.9L352.1 766.1L392.8 766.1L433.4 766.1L474.0 766.1L514.6 766.9L555.2 766.9L595.9 767.9L636.5 770.1L677.1 772.4L717.8 773.9L758.4 773.9L799.0 773.9L799.0 783.6L799.0 809.4L758.4 809.4L717.8 806.8L677.1 803.9L636.5 801.0L595.9 798.1L555.2 795.2L514.6 794.1L474.0 791.5L433.4 791.5L392.8 791.5L352.1 791.5L311.5 793.3L270.9 792.5L230.2 792.5L189.6 792.5L149.0 792.5L149.0 783.6L149.0 766.9Z" fill="#ff5050" stroke="#ff5050" stroke-width="0.7" fill-rule="evenodd"/><path d="M189.6 683.0L230.2 683.0L270.9 683.0L311.5 683.0L352.1 683.0L392.8 683.0L433.4 683.0L474.0 683.0L514.6 683.0L555.2 683.2L595.9 683.5L636.5 683.6L677.1 683.6L717.8 683.6L758.4 683.6L799.0 683.6L799.0 696.2L799.0 725.3L799.0 754.4L799.0 773.9L758.4 773.9L717.8 773.9L677.1 772.4L636.5 770.1L595.9 767.9L555.2 766.9L514.6 766.9L474.0 766.1L433.4 766.1L392.8 766.1L352.1 766.1L311.5 766.9L270.9 766.9L230.2 766.9L189.6 766.9L149.0 766.9L149.0 754.4L149.0 725.3L149.0 696.2L149.0 683.0Z" fill="#ff3737" stroke="#ff3737" stroke-width="0.7" fill-rule="evenodd"/></g><g clip-path="url(#c_v)"><path d="M952.6 638.0L979.7 638.0L952.6 647.1L912.0 650.5L912.0 638.0ZM912.0 1103.8L952.6 1118.3L962.8 1132.9L962.8 1162.0L952.6 1162.0L912.0 1162.0L912.0 1132.9L912.0 1103.8L912.0 1103.8ZM1074.5 1128.0L1115.1 1118.3L1155.8 1128.0L1160.5 1132.9L1169.3 1162.0L1155.8 1162.0L1115.1 1162.0L1074.5 1162.0L1054.2 1162.0L1067.7 1132.9ZM1237.0 1153.7L1277.6 1162.0L1277.6 1162.0L1277.6 1162.0L1237.0 1162.0L1230.2 1162.0ZM1399.5 1162.0L1399.5 1162.0L1399.5 1162.0L1399.5 1162.0Z" fill="#c8e1c8" stroke="#c8e1c8" stroke-width="0.7" fill-rule="evenodd"/><path d="M952.6 647.1L979.7 638.0L993.2 638.0L1033.9 638.0L1074.5 638.0L1088.0 638.0L1074.5 645.3L1033.9 647.7L993.2 659.8L952.6 665.3L912.0 667.1L912.0 667.1L912.0 667.1L912.0 650.5ZM1237.0 691.4L1277.6 688.9L1318.2 692.1L1358.9 696.2L1358.9 696.2L1358.9 696.2L1318.2 725.3L1318.2 725.3L1277.6 729.5L1237.0 735.0L1209.9 754.4L1196.4 764.1L1182.8 754.4L1182.8 725.3L1196.4 715.6L1223.5 696.2ZM952.6 751.5L966.2 754.4L993.2 773.9L1033.9 773.9L1047.4 783.6L1074.5 803.0L1101.6 783.6L1115.1 773.9L1155.8 773.9L1169.3 783.6L1196.4 803.0L1209.9 812.7L1196.4 822.4L1155.8 822.4L1115.1 822.4L1081.3 841.8L1074.5 846.6L1033.9 846.6L1027.1 841.8L993.2 822.4L952.6 822.4L912.0 822.4L912.0 812.7L912.0 783.6L912.0 773.9L939.1 754.4ZM1399.5 803.0L1440.1 806.8L1480.8 806.8L1521.4 806.8L1562.0 807.8L1562.0 812.7L1562.0 822.4L1521.4 822.4L1487.5 841.8L1480.8 846.6L1440.1 851.5L1399.5 846.6L1392.7 841.8L1386.0 812.7ZM1440.1 924.3L1480.8 919.4L1521.4 919.4L1562.0 924.3L1562.0 929.1L1562.0 958.2L1562.0 987.3L1562.0 1016.4L1562.0 1045.6L1562.0 1055.3L1528.1 1074.7L1528.1 1103.8L1521.4 1108.6L1514.6 1103.8L1514.6 1074.7L1480.8 1055.3L1440.1 1055.3L1413.0 1074.7L1440.1 1098.9L1446.9 1103.8L1446.9 1132.9L1446.9 1162.0L1440.1 1162.0L1399.5 1162.0L1399.5 1162.0L1399.5 1162.0L1358.9 1162.0L1318.2 1162.0L1277.6 1162.0L1277.6 1162.0L1237.0 1153.7L1230.2 1162.0L1196.4 1162.0L1169.3 1162.0L1160.5 1132.9L1155.8 1128.0L1115.1 1118.3L1074.5 1128.0L1067.7 1132.9L1054.2 1162.0L1033.9 1162.0L993.2 1162.0L962.8 1162.0L962.8 1132.9L952.6 1118.3L912.0 1103.8L912.0 1103.8L912.0 1074.7L912.0 1065.0L925.5 1074.7L952.6 1086.3L993.2 1098.9L1033.9 1095.5L1074.5 1084.4L1103.5 1074.7L1115.1 1069.8L1142.2 1045.6L1115.1 1021.3L1074.5 1026.1L1033.9 1021.3L1027.1 1016.4L1013.6 987.3L993.2 958.2L993.2 958.2L993.2 958.2L1033.9 948.5L1074.5 950.9L1115.1 956.1L1121.9 958.2L1155.8 977.6L1196.4 982.5L1203.1 987.3L1203.1 1016.4L1196.4 1045.6L1237.0 1065.0L1277.6 1065.0L1318.2 1066.3L1338.6 1045.6L1358.9 1031.0L1379.2 1016.4L1386.0 987.3L1386.0 958.2L1399.5 943.7L1428.5 929.1ZM1521.4 1157.1L1528.1 1162.0L1521.4 1162.0L1514.6 1162.0Z" fill="#e1ebe1" stroke="#e1ebe1" stroke-width="0.7" fill-rule="evenodd"/><path d="M952.6 665.3L993.2 659.8L1033.9 647.7L1074.5 645.3L1088.0 638.0L1115.1 638.0L1155.8 638.0L1196.4 638.0L1216.7 638.0L1223.5 667.1L1237.0 672.0L1277.6 674.4L1318.2 675.4L1358.9 676.8L1399.5 687.9L1426.6 696.2L1399.5 715.6L1386.0 725.3L1386.0 754.4L1399.5 764.1L1440.1 783.6L1480.8 783.6L1521.4 783.6L1521.4 783.6L1562.0 788.4L1562.0 807.8L1521.4 806.8L1480.8 806.8L1440.1 806.8L1399.5 803.0L1386.0 812.7L1392.7 841.8L1399.5 846.6L1440.1 851.5L1480.8 846.6L1487.5 841.8L1521.4 822.4L1562.0 822.4L1562.0 841.8L1562.0 870.9L1562.0 900.0L1562.0 924.3L1521.4 919.4L1480.8 919.4L1440.1 924.3L1428.5 929.1L1399.5 943.7L1386.0 958.2L1386.0 987.3L1379.2 1016.4L1358.9 1031.0L1338.6 1045.6L1318.2 1066.3L1277.6 1065.0L1237.0 1065.0L1196.4 1045.6L1203.1 1016.4L1203.1 987.3L1196.4 982.5L1155.8 977.6L1121.9 958.2L1115.1 956.1L1074.5 950.9L1033.9 948.5L993.2 958.2L993.2 958.2L993.2 958.2L1013.6 987.3L1027.1 1016.4L1033.9 1021.3L1074.5 1026.1L1115.1 1021.3L1142.2 1045.6L1115.1 1069.8L1103.5 1074.7L1074.5 1084.4L1033.9 1095.5L993.2 1098.9L952.6 1086.3L925.5 1074.7L912.0 1065.0L912.0 1045.6L912.0 1021.3L918.8 1016.4L925.5 987.3L912.0 977.6L912.0 958.2L912.0 929.1L912.0 900.0L912.0 870.9L912.0 841.8L912.0 822.4L952.6 822.4L993.2 822.4L1027.1 841.8L1033.9 846.6L1074.5 846.6L1081.3 841.8L1115.1 822.4L1155.8 822.4L1196.4 822.4L1209.9 812.7L1196.4 803.0L1169.3 783.6L1155.8 773.9L1115.1 773.9L1101.6 783.6L1074.5 803.0L1047.4 783.6L1033.9 773.9L993.2 773.9L966.2 754.4L952.6 751.5L939.1 754.4L912.0 773.9L912.0 754.4L912.0 742.8L952.6 739.9L993.2 746.1L1033.9 746.1L1061.0 754.4L1074.5 764.1L1088.0 754.4L1115.1 735.0L1128.7 725.3L1155.8 696.2L1128.7 667.1L1115.1 657.4L1094.8 667.1L1074.5 670.0L1033.9 671.6L993.2 672.9L952.6 674.3L912.0 678.8L912.0 667.1L912.0 667.1ZM1223.5 696.2L1196.4 715.6L1182.8 725.3L1182.8 754.4L1196.4 764.1L1209.9 754.4L1237.0 735.0L1277.6 729.5L1318.2 725.3L1318.2 725.3L1358.9 696.2L1358.9 696.2L1358.9 696.2L1318.2 692.1L1277.6 688.9L1237.0 691.4ZM1257.3 754.4L1277.6 769.0L1297.9 754.4L1277.6 746.1ZM939.1 870.9L952.6 880.6L993.2 880.6L1006.8 870.9L993.2 861.2L952.6 861.2ZM1108.4 870.9L1101.6 900.0L1094.8 929.1L1115.1 934.5L1155.8 938.8L1196.4 938.8L1237.0 938.8L1257.3 929.1L1277.6 914.6L1297.9 900.0L1318.2 879.2L1325.0 870.9L1318.2 866.0L1277.6 861.2L1237.0 861.2L1196.4 861.2L1155.8 861.2L1115.1 866.0ZM979.7 1074.7L993.2 1079.5L1033.9 1078.8L1044.0 1074.7L1033.9 1065.0L993.2 1065.0ZM1562.0 696.2L1562.0 696.2L1562.0 696.2L1562.0 696.2ZM1440.1 1055.3L1480.8 1055.3L1514.6 1074.7L1514.6 1103.8L1521.4 1108.6L1528.1 1103.8L1528.1 1074.7L1562.0 1055.3L1562.0 1074.7L1562.0 1103.8L1562.0 1132.9L1562.0 1162.0L1528.1 1162.0L1521.4 1157.1L1514.6 1162.0L1480.8 1162.0L1446.9 1162.0L1446.9 1132.9L1446.9 1103.8L1440.1 1098.9L1413.0 1074.7Z" fill="#ffffff" stroke="#ffffff" stroke-width="0.7" fill-rule="evenodd"/><path d="M1115.1 657.4L1128.7 667.1L1155.8 696.2L1128.7 725.3L1115.1 735.0L1088.0 754.4L1074.5 764.1L1061.0 754.4L1033.9 746.1L993.2 746.1L952.6 739.9L912.0 742.8L912.0 725.3L912.0 715.6L932.3 725.3L952.6 728.2L993.2 729.5L1033.9 729.5L1074.5 732.6L1084.7 725.3L1115.1 696.2L1074.5 681.7L1033.9 680.5L993.2 680.7L952.6 682.3L912.0 690.4L912.0 678.8L952.6 674.3L993.2 672.9L1033.9 671.6L1074.5 670.0L1094.8 667.1ZM1237.0 638.0L1277.6 638.0L1318.2 638.0L1358.9 638.0L1358.9 638.0L1386.0 667.1L1399.5 671.3L1440.1 678.8L1480.8 681.7L1521.4 683.7L1562.0 681.7L1562.0 696.2L1562.0 696.2L1562.0 696.2L1562.0 719.5L1521.4 713.7L1480.8 710.8L1440.1 718.1L1430.0 725.3L1430.0 754.4L1440.1 760.3L1480.8 764.1L1521.4 760.3L1562.0 754.4L1562.0 754.4L1562.0 754.4L1562.0 783.6L1562.0 788.4L1521.4 783.6L1521.4 783.6L1480.8 783.6L1440.1 783.6L1399.5 764.1L1386.0 754.4L1386.0 725.3L1399.5 715.6L1426.6 696.2L1399.5 687.9L1358.9 676.8L1318.2 675.4L1277.6 674.4L1237.0 672.0L1223.5 667.1L1216.7 638.0ZM1277.6 746.1L1297.9 754.4L1277.6 769.0L1257.3 754.4ZM952.6 861.2L993.2 861.2L1006.8 870.9L993.2 880.6L952.6 880.6L939.1 870.9ZM1115.1 866.0L1155.8 861.2L1196.4 861.2L1237.0 861.2L1277.6 861.2L1318.2 866.0L1325.0 870.9L1318.2 879.2L1297.9 900.0L1277.6 914.6L1257.3 929.1L1237.0 938.8L1196.4 938.8L1155.8 938.8L1115.1 934.5L1094.8 929.1L1101.6 900.0L1108.4 870.9ZM925.5 987.3L918.8 1016.4L912.0 1021.3L912.0 1016.4L912.0 987.3L912.0 977.6ZM993.2 1065.0L1033.9 1065.0L1044.0 1074.7L1033.9 1078.8L993.2 1079.5L979.7 1074.7Z" fill="#ffe1e1" stroke="#ffe1e1" stroke-width="0.7" fill-rule="evenodd"/><path d="M1399.5 638.0L1440.1 638.0L1480.8 638.0L1521.4 638.0L1521.4 638.0L1562.0 652.6L1562.0 667.1L1562.0 681.7L1521.4 683.7L1480.8 681.7L1440.1 678.8L1399.5 671.3L1386.0 667.1L1358.9 638.0ZM952.6 682.3L993.2 680.7L1033.9 680.5L1074.5 681.7L1115.1 696.2L1084.7 725.3L1074.5 732.6L1033.9 729.5L993.2 729.5L952.6 728.2L932.3 725.3L912.0 715.6L912.0 696.2L912.0 690.4ZM944.5 696.2L952.6 701.1L993.2 704.5L1033.9 701.1L1054.2 696.2L1033.9 694.0L993.2 692.3L952.6 694.2ZM1440.1 718.1L1480.8 710.8L1521.4 713.7L1562.0 719.5L1562.0 725.3L1562.0 754.4L1562.0 754.4L1521.4 760.3L1480.8 764.1L1440.1 760.3L1430.0 754.4L1430.0 725.3Z" fill="#ffc3c3" stroke="#ffc3c3" stroke-width="0.7" fill-rule="evenodd"/><path d="M1562.0 638.0L1562.0 652.6L1521.4 638.0ZM952.6 694.2L993.2 692.3L1033.9 694.0L1054.2 696.2L1033.9 701.1L993.2 704.5L952.6 701.1L944.5 696.2Z" fill="#ffa5a5" stroke="#ffa5a5" stroke-width="0.7" fill-rule="evenodd"/></g><defs><mask id="m_rh" maskUnits="userSpaceOnUse"><rect x="144" y="32" width="660" height="535" fill="#fff"/><rect x="199.8" y="44.0" width="34.4" height="13.0" fill="#000"/><rect x="159.5" y="57.3" width="34.4" height="13.0" fill="#000"/><rect x="159.5" y="82.7" width="34.4" height="13.0" fill="#000"/><rect x="159.5" y="99.0" width="34.4" height="13.0" fill="#000"/><rect x="199.8" y="127.2" width="34.4" height="13.0" fill="#000"/><rect x="254.5" y="137.1" width="34.4" height="13.0" fill="#000"/><rect x="254.5" y="156.5" width="34.4" height="13.0" fill="#000"/><rect x="199.8" y="168.9" width="34.4" height="13.0" fill="#000"/><rect x="240.3" y="180.7" width="34.4" height="13.0" fill="#000"/><rect x="199.8" y="191.5" width="34.4" height="13.0" fill="#000"/><rect x="240.3" y="205.0" width="34.4" height="13.0" fill="#000"/><rect x="240.3" y="237.5" width="34.4" height="13.0" fill="#000"/><rect x="244.5" y="254.3" width="24.7" height="13.0" fill="#000"/><rect x="310.2" y="53.0" width="34.4" height="13.0" fill="#000"/><rect x="321.1" y="81.4" width="34.4" height="13.0" fill="#000"/><rect x="361.5" y="73.7" width="34.4" height="13.0" fill="#000"/><rect x="334.2" y="96.7" width="34.4" height="13.0" fill="#000"/><rect x="335.3" y="121.8" width="34.4" height="13.0" fill="#000"/><rect x="375.7" y="113.0" width="34.4" height="13.0" fill="#000"/><rect x="309.1" y="145.8" width="34.4" height="13.0" fill="#000"/><rect x="401.8" y="167.6" width="34.4" height="13.0" fill="#000"/><rect x="429.2" y="188.4" width="34.4" height="13.0" fill="#000"/><rect x="375.7" y="214.6" width="34.4" height="13.0" fill="#000"/><rect x="430.3" y="229.9" width="34.4" height="13.0" fill="#000"/><rect x="435.1" y="249.5" width="24.7" height="13.0" fill="#000"/><rect x="354.3" y="265.9" width="24.7" height="13.0" fill="#000"/><rect x="435.1" y="289.1" width="24.7" height="13.0" fill="#000"/><rect x="206.1" y="292.5" width="24.7" height="13.0" fill="#000"/><rect x="444.5" y="139.2" width="34.4" height="13.0" fill="#000"/><rect x="456.8" y="44.0" width="34.4" height="13.0" fill="#000"/><rect x="497.6" y="37.7" width="34.4" height="13.0" fill="#000"/><rect x="497.6" y="65.0" width="34.4" height="13.0" fill="#000"/><rect x="523.8" y="92.3" width="34.4" height="13.0" fill="#000"/><rect x="619.8" y="59.5" width="34.4" height="13.0" fill="#000"/><rect x="660.3" y="53.0" width="34.4" height="13.0" fill="#000"/><rect x="592.6" y="85.7" width="34.4" height="13.0" fill="#000"/><rect x="647.2" y="79.2" width="34.4" height="13.0" fill="#000"/><rect x="647.2" y="102.1" width="34.4" height="13.0" fill="#000"/><rect x="592.6" y="111.9" width="34.4" height="13.0" fill="#000"/><rect x="647.2" y="120.7" width="34.4" height="13.0" fill="#000"/><rect x="592.6" y="129.9" width="34.4" height="13.0" fill="#000"/><rect x="647.2" y="139.2" width="34.4" height="13.0" fill="#000"/><rect x="592.6" y="148.0" width="34.4" height="13.0" fill="#000"/><rect x="511.8" y="157.8" width="34.4" height="13.0" fill="#000"/><rect x="619.8" y="168.7" width="34.4" height="13.0" fill="#000"/><rect x="471.4" y="178.5" width="34.4" height="13.0" fill="#000"/><rect x="660.3" y="178.5" width="34.4" height="13.0" fill="#000"/><rect x="619.8" y="188.8" width="34.4" height="13.0" fill="#000"/><rect x="471.4" y="198.2" width="34.4" height="13.0" fill="#000"/><rect x="660.3" y="199.3" width="34.4" height="13.0" fill="#000"/><rect x="619.8" y="212.4" width="34.4" height="13.0" fill="#000"/><rect x="660.3" y="232.1" width="34.4" height="13.0" fill="#000"/><rect x="624.6" y="249.5" width="24.7" height="13.0" fill="#000"/><rect x="624.6" y="268.1" width="24.7" height="13.0" fill="#000"/><rect x="624.6" y="287.7" width="24.7" height="13.0" fill="#000"/><rect x="358.3" y="306.9" width="13.7" height="13.0" fill="#000"/><rect x="439.5" y="330.2" width="13.7" height="13.0" fill="#000"/><rect x="452.9" y="352.5" width="13.7" height="13.0" fill="#000"/><rect x="452.9" y="374.7" width="13.7" height="13.0" fill="#000"/><rect x="182.7" y="380.3" width="13.7" height="13.0" fill="#000"/><rect x="300.1" y="463.7" width="23.4" height="13.0" fill="#000"/><rect x="191.6" y="512.6" width="23.4" height="13.0" fill="#000"/><rect x="217.4" y="534.9" width="23.4" height="13.0" fill="#000"/><rect x="406.9" y="538.9" width="23.4" height="13.0" fill="#000"/><rect x="460.3" y="518.2" width="23.4" height="13.0" fill="#000"/><rect x="642.9" y="310.2" width="13.7" height="13.0" fill="#000"/><rect x="656.6" y="330.2" width="13.7" height="13.0" fill="#000"/><rect x="656.6" y="351.3" width="13.7" height="13.0" fill="#000"/><rect x="670.0" y="372.5" width="13.7" height="13.0" fill="#000"/><rect x="543.9" y="415.9" width="23.4" height="13.0" fill="#000"/><rect x="570.6" y="455.9" width="23.4" height="13.0" fill="#000"/><rect x="665.2" y="511.5" width="23.4" height="13.0" fill="#000"/><rect x="664.1" y="532.6" width="23.4" height="13.0" fill="#000"/></mask></defs><g clip-path="url(#c_rh)" mask="url(#m_rh)" fill="none"><path d="M149.0 37.5C179.2 37.6 248.2 37.7 330.0 37.9C411.8 38.1 561.8 38.2 640.0 38.5C718.2 38.8 772.5 39.3 799.0 39.5M149.0 43.4C179.2 43.5 248.2 43.8 330.0 44.0C411.8 44.3 561.8 44.7 640.0 45.0C718.2 45.3 772.5 45.8 799.0 46.0M149.0 50.3C179.2 50.4 248.2 50.7 330.0 51.0C411.8 51.3 561.8 51.7 640.0 52.0C718.2 52.3 772.5 52.8 799.0 53.0M149.0 57.0C179.2 57.1 248.2 57.5 330.0 57.8C411.8 58.1 561.8 58.6 640.0 59.0C718.2 59.4 772.5 59.8 799.0 60.0M149.0 63.5C179.2 63.7 248.2 64.1 330.0 64.5C411.8 64.9 561.8 65.6 640.0 66.0C718.2 66.4 772.5 66.8 799.0 67.0M149.0 70.0C179.2 70.1 248.2 70.3 330.0 70.6C411.8 70.8 561.8 71.2 640.0 71.5C718.2 71.8 772.5 72.3 799.0 72.5M149.0 76.4C179.2 76.5 248.2 76.8 330.0 77.0C411.8 77.3 561.8 77.7 640.0 78.0C718.2 78.3 772.5 78.8 799.0 79.0M149.0 83.2C179.2 83.4 248.2 83.9 330.0 84.3C411.8 84.8 561.8 85.6 640.0 86.0C718.2 86.4 772.5 86.8 799.0 87.0M149.0 89.4C179.2 89.6 248.2 90.1 330.0 90.6C411.8 91.2 561.8 92.0 640.0 92.5C718.2 93.0 772.5 93.3 799.0 93.5M149.0 96.5C179.2 96.7 248.2 97.1 330.0 97.5C411.8 97.9 561.8 98.6 640.0 99.0C718.2 99.4 772.5 99.8 799.0 100.0M149.0 105.5C179.2 105.7 248.2 106.1 330.0 106.5C411.8 106.9 561.8 107.6 640.0 108.0C718.2 108.4 772.5 108.8 799.0 109.0M149.0 114.6C179.2 114.8 248.2 115.4 330.0 116.0C411.8 116.5 561.8 117.5 640.0 118.0C718.2 118.5 772.5 118.8 799.0 119.0M149.0 123.7C179.2 123.9 248.2 124.5 330.0 125.0C411.8 125.6 561.8 126.5 640.0 127.0C718.2 127.5 772.5 127.8 799.0 128.0M149.0 133.4C179.2 133.6 248.2 134.0 330.0 134.4C411.8 134.9 561.8 135.6 640.0 136.0C718.2 136.4 772.5 136.8 799.0 137.0M149.0 142.4C179.2 142.6 248.2 143.0 330.0 143.4C411.8 143.9 561.8 144.6 640.0 145.0C718.2 145.4 772.5 145.8 799.0 146.0M149.0 152.0C179.2 152.2 248.2 152.6 330.0 153.0C411.8 153.4 561.8 154.1 640.0 154.5C718.2 154.9 772.5 155.3 799.0 155.5M149.0 163.0C179.2 163.1 248.2 163.2 330.0 163.4C411.8 163.6 561.8 163.7 640.0 164.0C718.2 164.3 772.5 164.8 799.0 165.0M149.0 174.8C179.2 174.8 248.2 174.8 330.0 174.9C411.8 174.9 561.8 174.8 640.0 175.0C718.2 175.2 772.5 175.8 799.0 176.0M149.0 187.3C179.2 187.2 248.2 186.9 330.0 186.6C411.8 186.3 561.8 185.5 640.0 185.5C718.2 185.5 772.5 186.3 799.0 186.5M149.0 199.4C179.2 199.1 248.2 198.5 330.0 197.8C411.8 197.2 561.8 195.7 640.0 195.5C718.2 195.3 772.5 196.3 799.0 196.5M149.0 211.6C179.2 211.2 248.2 210.2 330.0 209.2C411.8 208.1 561.8 205.9 640.0 205.5C718.2 205.1 772.5 206.3 799.0 206.5M149.0 228.5C179.2 227.9 248.2 226.3 330.0 224.7C411.8 223.1 561.8 219.8 640.0 219.0C718.2 218.2 772.5 219.8 799.0 220.0M149.0 245.5C179.2 245.0 248.2 243.8 330.0 242.5C411.8 241.2 561.8 238.6 640.0 238.0C718.2 237.4 772.5 238.8 799.0 239.0M149.0 262.5C179.2 262.1 248.2 261.1 330.0 260.1C411.8 259.1 561.8 256.9 640.0 256.5C718.2 256.1 772.5 257.3 799.0 257.5M149.0 280.1C179.2 279.7 248.2 278.8 330.0 277.9C411.8 276.9 561.8 274.9 640.0 274.5C718.2 274.1 772.5 275.3 799.0 275.5M149.0 298.9C179.2 298.6 248.2 298.0 330.0 297.3C411.8 296.7 561.8 295.2 640.0 295.0C718.2 294.8 772.5 295.8 799.0 296.0" stroke="#3a3020" stroke-width="1" stroke-dasharray="4 3" opacity="0.75"/><path d="M149.0 316.7C176.0 316.4 256.8 315.6 311.0 315.0C365.2 314.4 419.8 313.2 474.0 313.4C528.2 313.6 581.8 315.4 636.0 316.0C690.2 316.6 771.8 316.6 799.0 316.7M149.0 337.8C176.0 337.5 256.8 336.2 311.0 336.0C365.2 335.8 419.8 336.7 474.0 336.7C528.2 336.7 581.8 336.0 636.0 336.0C690.2 336.0 771.8 336.6 799.0 336.7M149.0 364.5C162.5 364.4 203.0 364.8 230.0 364.0C257.0 363.2 270.3 361.0 311.0 360.0C351.7 359.0 419.8 358.5 474.0 358.0C528.2 357.5 581.8 357.2 636.0 357.0C690.2 356.8 771.8 356.8 799.0 356.7M149.0 392.0C151.7 392.7 158.2 396.7 165.0 396.0C171.8 395.3 180.8 388.5 190.0 388.0C199.2 387.5 208.3 393.3 220.0 393.0C231.7 392.7 244.8 387.7 260.0 386.0C275.2 384.3 275.3 383.8 311.0 383.0C346.7 382.2 419.8 381.7 474.0 381.0C528.2 380.3 581.8 379.9 636.0 379.0C690.2 378.1 771.8 376.2 799.0 375.6M149.0 433.5C151.2 434.2 155.3 438.9 162.0 438.0C168.7 437.1 179.7 429.0 189.0 428.0C198.3 427.0 206.8 432.7 218.0 432.0C229.2 431.3 240.5 425.8 256.0 424.0C271.5 422.2 297.0 421.3 311.0 421.5C325.0 421.7 330.2 423.9 340.0 425.0C349.8 426.1 361.3 427.0 370.0 428.0C378.7 429.0 385.3 428.7 392.0 431.0C398.7 433.3 404.5 440.2 410.0 442.0C415.5 443.8 420.0 442.5 425.0 441.5C430.0 440.5 431.8 438.8 440.0 436.0C448.2 433.2 462.3 427.8 474.0 425.0C485.7 422.2 496.5 420.0 510.0 419.5C523.5 419.0 540.0 422.6 555.0 422.0C570.0 421.4 586.5 417.7 600.0 416.0C613.5 414.3 626.0 412.3 636.0 412.0C646.0 411.7 653.2 412.3 660.0 414.0C666.8 415.7 667.5 418.6 677.0 422.0C686.5 425.4 703.2 432.1 717.0 434.6C730.8 437.1 746.3 436.4 760.0 437.0C773.7 437.6 792.5 437.8 799.0 438.0M149.0 472.0C151.2 474.2 155.3 485.5 162.0 485.0C168.7 484.5 179.7 471.0 189.0 469.0C198.3 467.0 206.8 474.2 218.0 473.0C229.2 471.8 244.0 462.3 256.0 462.0C268.0 461.7 278.8 469.6 290.0 471.0C301.2 472.4 311.3 468.7 323.0 470.5C334.7 472.3 348.5 478.9 360.0 482.0C371.5 485.1 383.7 486.9 392.0 489.0C400.3 491.1 402.0 493.3 410.0 494.5C418.0 495.7 432.5 496.2 440.0 496.0C447.5 495.8 450.3 494.8 455.0 493.0C459.7 491.2 462.2 490.0 468.0 485.0C473.8 480.0 483.0 467.4 490.0 463.0C497.0 458.6 503.3 459.3 510.0 458.5C516.7 457.7 518.0 457.4 530.0 458.0C542.0 458.6 568.7 462.0 582.0 462.0C595.3 462.0 601.0 459.4 610.0 458.0C619.0 456.6 627.7 453.5 636.0 453.5C644.3 453.5 653.2 453.9 660.0 458.0C666.8 462.1 670.3 473.0 677.0 478.0C683.7 483.0 693.3 485.7 700.0 488.0C706.7 490.3 707.0 490.8 717.0 492.0C727.0 493.2 746.3 494.2 760.0 495.0C773.7 495.8 792.5 496.7 799.0 497.0M149.0 514.7C151.2 515.2 148.5 517.6 162.0 518.0C175.5 518.4 207.0 517.2 230.0 517.0C253.0 516.8 281.7 516.5 300.0 517.0C318.3 517.5 324.7 519.1 340.0 520.0C355.3 520.9 369.7 521.8 392.0 522.5C414.3 523.2 451.0 524.5 474.0 524.5C497.0 524.5 509.0 523.6 530.0 522.5C551.0 521.4 582.3 519.5 600.0 518.0C617.7 516.5 623.2 513.6 636.0 513.6C648.8 513.6 649.8 516.9 677.0 518.0C704.2 519.1 778.7 519.7 799.0 520.0M149.0 540.0C162.5 540.1 204.8 540.2 230.0 540.5C255.2 540.8 273.0 540.8 300.0 541.5C327.0 542.2 368.7 544.3 392.0 545.0C415.3 545.7 425.3 545.1 440.0 545.6C454.7 546.1 466.7 547.9 480.0 548.0C493.3 548.1 506.7 547.0 520.0 546.5C533.3 546.0 540.7 546.4 560.0 545.0C579.3 543.6 609.8 538.8 636.0 538.0C662.2 537.2 689.8 539.5 717.0 540.0C744.2 540.5 785.3 540.8 799.0 541.0" stroke="#202020" stroke-width="1"/></g><g><text x="217.0" y="56.2" font-size="16.0" text-anchor="middle" font-weight="normal" textLength="30.4" lengthAdjust="spacingAndGlyphs">−72</text><text x="176.7" y="69.5" font-size="16.0" text-anchor="middle" font-weight="normal" textLength="30.4" lengthAdjust="spacingAndGlyphs">−66</text><text x="176.7" y="94.9" font-size="16.0" text-anchor="middle" font-weight="normal" textLength="30.4" lengthAdjust="spacingAndGlyphs">−54</text><text x="176.7" y="111.2" font-size="16.0" text-anchor="middle" font-weight="normal" textLength="30.4" lengthAdjust="spacingAndGlyphs">−48</text><text x="217.0" y="139.4" font-size="16.0" text-anchor="middle" font-weight="normal" textLength="30.4" lengthAdjust="spacingAndGlyphs">−39</text><text x="271.7" y="149.3" font-size="16.0" text-anchor="middle" font-weight="normal" textLength="30.4" lengthAdjust="spacingAndGlyphs">−36</text><text x="271.7" y="168.7" font-size="16.0" text-anchor="middle" font-weight="normal" textLength="30.4" lengthAdjust="spacingAndGlyphs">−30</text><text x="217.0" y="181.1" font-size="16.0" text-anchor="middle" font-weight="normal" textLength="30.4" lengthAdjust="spacingAndGlyphs">−27</text><text x="257.5" y="192.9" font-size="16.0" text-anchor="middle" font-weight="normal" textLength="30.4" lengthAdjust="spacingAndGlyphs">−24</text><text x="217.0" y="203.7" font-size="16.0" text-anchor="middle" font-weight="normal" textLength="30.4" lengthAdjust="spacingAndGlyphs">−21</text><text x="257.5" y="217.2" font-size="16.0" text-anchor="middle" font-weight="normal" textLength="30.4" lengthAdjust="spacingAndGlyphs">−18</text><text x="257.5" y="249.7" font-size="16.0" text-anchor="middle" font-weight="normal" textLength="30.4" lengthAdjust="spacingAndGlyphs">−12</text><text x="256.8" y="266.5" font-size="16.0" text-anchor="middle" font-weight="normal" textLength="20.7" lengthAdjust="spacingAndGlyphs">−9</text><text x="327.4" y="65.2" font-size="16.0" text-anchor="middle" font-weight="normal" textLength="30.4" lengthAdjust="spacingAndGlyphs">−69</text><text x="338.3" y="93.6" font-size="16.0" text-anchor="middle" font-weight="normal" textLength="30.4" lengthAdjust="spacingAndGlyphs">−57</text><text x="378.7" y="85.9" font-size="16.0" text-anchor="middle" font-weight="normal" textLength="30.4" lengthAdjust="spacingAndGlyphs">−60</text><text x="351.4" y="108.9" font-size="16.0" text-anchor="middle" font-weight="normal" textLength="30.4" lengthAdjust="spacingAndGlyphs">−51</text><text x="352.5" y="134.0" font-size="16.0" text-anchor="middle" font-weight="normal" textLength="30.4" lengthAdjust="spacingAndGlyphs">−42</text><text x="392.9" y="125.2" font-size="16.0" text-anchor="middle" font-weight="normal" textLength="30.4" lengthAdjust="spacingAndGlyphs">−45</text><text x="326.3" y="158.0" font-size="16.0" text-anchor="middle" font-weight="normal" textLength="30.4" lengthAdjust="spacingAndGlyphs">−33</text><text x="419.0" y="179.8" font-size="16.0" text-anchor="middle" font-weight="normal" textLength="30.4" lengthAdjust="spacingAndGlyphs">−27</text><text x="446.4" y="200.6" font-size="16.0" text-anchor="middle" font-weight="normal" textLength="30.4" lengthAdjust="spacingAndGlyphs">−21</text><text x="392.9" y="226.8" font-size="16.0" text-anchor="middle" font-weight="normal" textLength="30.4" lengthAdjust="spacingAndGlyphs">−15</text><text x="447.5" y="242.1" font-size="16.0" text-anchor="middle" font-weight="normal" textLength="30.4" lengthAdjust="spacingAndGlyphs">−12</text><text x="447.5" y="261.7" font-size="16.0" text-anchor="middle" font-weight="normal" textLength="20.7" lengthAdjust="spacingAndGlyphs">−9</text><text x="366.7" y="278.1" font-size="16.0" text-anchor="middle" font-weight="normal" textLength="20.7" lengthAdjust="spacingAndGlyphs">−6</text><text x="447.5" y="301.3" font-size="16.0" text-anchor="middle" font-weight="normal" textLength="20.7" lengthAdjust="spacingAndGlyphs">−3</text><text x="218.4" y="304.7" font-size="16.0" text-anchor="middle" font-weight="normal" textLength="20.7" lengthAdjust="spacingAndGlyphs">−3</text><text x="461.7" y="151.4" font-size="16.0" text-anchor="middle" font-weight="normal" textLength="30.4" lengthAdjust="spacingAndGlyphs">−36</text><text x="474.0" y="56.2" font-size="16.0" text-anchor="middle" font-weight="normal" textLength="30.4" lengthAdjust="spacingAndGlyphs">−72</text><text x="514.8" y="49.9" font-size="16.0" text-anchor="middle" font-weight="normal" textLength="30.4" lengthAdjust="spacingAndGlyphs">−75</text><text x="514.8" y="77.2" font-size="16.0" text-anchor="middle" font-weight="normal" textLength="30.4" lengthAdjust="spacingAndGlyphs">−63</text><text x="541.0" y="104.5" font-size="16.0" text-anchor="middle" font-weight="normal" textLength="30.4" lengthAdjust="spacingAndGlyphs">−51</text><text x="637.0" y="71.7" font-size="16.0" text-anchor="middle" font-weight="normal" textLength="30.4" lengthAdjust="spacingAndGlyphs">−66</text><text x="677.5" y="65.2" font-size="16.0" text-anchor="middle" font-weight="normal" textLength="30.4" lengthAdjust="spacingAndGlyphs">−69</text><text x="609.8" y="97.9" font-size="16.0" text-anchor="middle" font-weight="normal" textLength="30.4" lengthAdjust="spacingAndGlyphs">−54</text><text x="664.4" y="91.4" font-size="16.0" text-anchor="middle" font-weight="normal" textLength="30.4" lengthAdjust="spacingAndGlyphs">−57</text><text x="664.4" y="114.3" font-size="16.0" text-anchor="middle" font-weight="normal" textLength="30.4" lengthAdjust="spacingAndGlyphs">−48</text><text x="609.8" y="124.1" font-size="16.0" text-anchor="middle" font-weight="normal" textLength="30.4" lengthAdjust="spacingAndGlyphs">−45</text><text x="664.4" y="132.9" font-size="16.0" text-anchor="middle" font-weight="normal" textLength="30.4" lengthAdjust="spacingAndGlyphs">−42</text><text x="609.8" y="142.1" font-size="16.0" text-anchor="middle" font-weight="normal" textLength="30.4" lengthAdjust="spacingAndGlyphs">−39</text><text x="664.4" y="151.4" font-size="16.0" text-anchor="middle" font-weight="normal" textLength="30.4" lengthAdjust="spacingAndGlyphs">−36</text><text x="609.8" y="160.2" font-size="16.0" text-anchor="middle" font-weight="normal" textLength="30.4" lengthAdjust="spacingAndGlyphs">−33</text><text x="529.0" y="170.0" font-size="16.0" text-anchor="middle" font-weight="normal" textLength="30.4" lengthAdjust="spacingAndGlyphs">−30</text><text x="637.0" y="180.9" font-size="16.0" text-anchor="middle" font-weight="normal" textLength="30.4" lengthAdjust="spacingAndGlyphs">−27</text><text x="488.6" y="190.7" font-size="16.0" text-anchor="middle" font-weight="normal" textLength="30.4" lengthAdjust="spacingAndGlyphs">−24</text><text x="677.5" y="190.7" font-size="16.0" text-anchor="middle" font-weight="normal" textLength="30.4" lengthAdjust="spacingAndGlyphs">−24</text><text x="637.0" y="201.0" font-size="16.0" text-anchor="middle" font-weight="normal" textLength="30.4" lengthAdjust="spacingAndGlyphs">−21</text><text x="488.6" y="210.4" font-size="16.0" text-anchor="middle" font-weight="normal" textLength="30.4" lengthAdjust="spacingAndGlyphs">−18</text><text x="677.5" y="211.5" font-size="16.0" text-anchor="middle" font-weight="normal" textLength="30.4" lengthAdjust="spacingAndGlyphs">−18</text><text x="637.0" y="224.6" font-size="16.0" text-anchor="middle" font-weight="normal" textLength="30.4" lengthAdjust="spacingAndGlyphs">−15</text><text x="677.5" y="244.3" font-size="16.0" text-anchor="middle" font-weight="normal" textLength="30.4" lengthAdjust="spacingAndGlyphs">−12</text><text x="637.0" y="261.7" font-size="16.0" text-anchor="middle" font-weight="normal" textLength="20.7" lengthAdjust="spacingAndGlyphs">−9</text><text x="637.0" y="280.3" font-size="16.0" text-anchor="middle" font-weight="normal" textLength="20.7" lengthAdjust="spacingAndGlyphs">−6</text><text x="637.0" y="299.9" font-size="16.0" text-anchor="middle" font-weight="normal" textLength="20.7" lengthAdjust="spacingAndGlyphs">−3</text><text x="365.2" y="319.1" font-size="16.0" text-anchor="middle" font-weight="normal" textLength="9.7" lengthAdjust="spacingAndGlyphs">0</text><text x="446.4" y="342.4" font-size="16.0" text-anchor="middle" font-weight="normal" textLength="9.7" lengthAdjust="spacingAndGlyphs">3</text><text x="459.8" y="364.7" font-size="16.0" text-anchor="middle" font-weight="normal" textLength="9.7" lengthAdjust="spacingAndGlyphs">6</text><text x="459.8" y="386.9" font-size="16.0" text-anchor="middle" font-weight="normal" textLength="9.7" lengthAdjust="spacingAndGlyphs">9</text><text x="189.5" y="392.5" font-size="16.0" text-anchor="middle" font-weight="normal" textLength="9.7" lengthAdjust="spacingAndGlyphs">9</text><text x="311.8" y="475.9" font-size="16.0" text-anchor="middle" font-weight="normal" textLength="19.4" lengthAdjust="spacingAndGlyphs">15</text><text x="203.3" y="524.8" font-size="16.0" text-anchor="middle" font-weight="normal" textLength="19.4" lengthAdjust="spacingAndGlyphs">18</text><text x="229.1" y="547.1" font-size="16.0" text-anchor="middle" font-weight="normal" textLength="19.4" lengthAdjust="spacingAndGlyphs">21</text><text x="418.6" y="551.1" font-size="16.0" text-anchor="middle" font-weight="normal" textLength="19.4" lengthAdjust="spacingAndGlyphs">21</text><text x="472.0" y="530.4" font-size="16.0" text-anchor="middle" font-weight="normal" textLength="19.4" lengthAdjust="spacingAndGlyphs">18</text><text x="649.7" y="322.4" font-size="16.0" text-anchor="middle" font-weight="normal" textLength="9.7" lengthAdjust="spacingAndGlyphs">0</text><text x="663.5" y="342.4" font-size="16.0" text-anchor="middle" font-weight="normal" textLength="9.7" lengthAdjust="spacingAndGlyphs">3</text><text x="663.5" y="363.5" font-size="16.0" text-anchor="middle" font-weight="normal" textLength="9.7" lengthAdjust="spacingAndGlyphs">6</text><text x="676.9" y="384.7" font-size="16.0" text-anchor="middle" font-weight="normal" textLength="9.7" lengthAdjust="spacingAndGlyphs">9</text><text x="555.6" y="428.1" font-size="16.0" text-anchor="middle" font-weight="normal" textLength="19.4" lengthAdjust="spacingAndGlyphs">12</text><text x="582.3" y="468.1" font-size="16.0" text-anchor="middle" font-weight="normal" textLength="19.4" lengthAdjust="spacingAndGlyphs">15</text><text x="676.9" y="523.7" font-size="16.0" text-anchor="middle" font-weight="normal" textLength="19.4" lengthAdjust="spacingAndGlyphs">18</text><text x="675.8" y="544.8" font-size="16.0" text-anchor="middle" font-weight="normal" textLength="19.4" lengthAdjust="spacingAndGlyphs">21</text></g><defs><mask id="m_te" maskUnits="userSpaceOnUse"><rect x="907" y="32" width="660" height="535" fill="#fff"/><rect x="923.5" y="42.2" width="33.1" height="14.0" fill="#000"/><rect x="923.5" y="60.1" width="33.1" height="14.0" fill="#000"/><rect x="963.8" y="53.6" width="33.1" height="14.0" fill="#000"/><rect x="1044.5" y="44.8" width="33.1" height="14.0" fill="#000"/><rect x="1071.9" y="60.1" width="33.1" height="14.0" fill="#000"/><rect x="1125.5" y="70.0" width="33.1" height="14.0" fill="#000"/><rect x="1085.0" y="84.1" width="33.1" height="14.0" fill="#000"/><rect x="1125.5" y="89.6" width="33.1" height="14.0" fill="#000"/><rect x="923.5" y="108.2" width="33.1" height="14.0" fill="#000"/><rect x="1099.2" y="118.0" width="33.1" height="14.0" fill="#000"/><rect x="963.8" y="136.6" width="33.1" height="14.0" fill="#000"/><rect x="1017.2" y="147.5" width="33.1" height="14.0" fill="#000"/><rect x="976.9" y="161.0" width="33.1" height="14.0" fill="#000"/><rect x="963.8" y="178.0" width="33.1" height="14.0" fill="#000"/><rect x="1125.5" y="201.0" width="33.1" height="14.0" fill="#000"/><rect x="1139.5" y="230.0" width="33.1" height="14.0" fill="#000"/><rect x="976.9" y="238.1" width="33.1" height="14.0" fill="#000"/><rect x="1112.2" y="258.9" width="33.1" height="14.0" fill="#000"/><rect x="1112.2" y="275.9" width="33.1" height="14.0" fill="#000"/><rect x="1004.2" y="287.0" width="33.1" height="14.0" fill="#000"/><rect x="1180.0" y="42.2" width="33.1" height="14.0" fill="#000"/><rect x="1166.5" y="129.3" width="33.1" height="14.0" fill="#000"/><rect x="1166.5" y="160.0" width="33.1" height="14.0" fill="#000"/><rect x="1207.0" y="139.7" width="33.1" height="14.0" fill="#000"/><rect x="1207.2" y="183.5" width="33.1" height="14.0" fill="#000"/><rect x="1194.2" y="244.7" width="33.1" height="14.0" fill="#000"/><rect x="1194.2" y="288.5" width="33.1" height="14.0" fill="#000"/><rect x="1221.5" y="51.7" width="33.1" height="14.0" fill="#000"/><rect x="1221.5" y="67.0" width="33.1" height="14.0" fill="#000"/><rect x="1261.2" y="47.0" width="33.1" height="14.0" fill="#000"/><rect x="1261.2" y="63.4" width="33.1" height="14.0" fill="#000"/><rect x="1288.5" y="78.7" width="33.1" height="14.0" fill="#000"/><rect x="1369.4" y="71.0" width="33.1" height="14.0" fill="#000"/><rect x="1356.2" y="88.5" width="33.1" height="14.0" fill="#000"/><rect x="1356.2" y="109.3" width="33.1" height="14.0" fill="#000"/><rect x="1356.2" y="130.4" width="33.1" height="14.0" fill="#000"/><rect x="1356.2" y="157.3" width="33.1" height="14.0" fill="#000"/><rect x="1410.9" y="65.6" width="33.1" height="14.0" fill="#000"/><rect x="1410.9" y="82.4" width="33.1" height="14.0" fill="#000"/><rect x="1410.9" y="99.4" width="33.1" height="14.0" fill="#000"/><rect x="1410.9" y="120.2" width="33.1" height="14.0" fill="#000"/><rect x="1410.9" y="142.0" width="33.1" height="14.0" fill="#000"/><rect x="1424.0" y="183.5" width="33.1" height="14.0" fill="#000"/><rect x="1383.5" y="206.4" width="33.1" height="14.0" fill="#000"/><rect x="1424.0" y="218.5" width="33.1" height="14.0" fill="#000"/><rect x="1383.5" y="231.6" width="33.1" height="14.0" fill="#000"/><rect x="1424.0" y="242.5" width="33.1" height="14.0" fill="#000"/><rect x="1315.9" y="260.6" width="33.1" height="14.0" fill="#000"/><rect x="1383.5" y="272.0" width="33.1" height="14.0" fill="#000"/><rect x="1383.5" y="287.2" width="33.1" height="14.0" fill="#000"/><rect x="1235.0" y="221.7" width="33.1" height="14.0" fill="#000"/><rect x="1112.0" y="311.9" width="33.1" height="14.0" fill="#000"/><rect x="963.0" y="380.9" width="33.1" height="14.0" fill="#000"/><rect x="1112.0" y="404.2" width="33.1" height="14.0" fill="#000"/><rect x="1058.7" y="422.0" width="33.1" height="14.0" fill="#000"/><rect x="1058.7" y="437.6" width="33.1" height="14.0" fill="#000"/><rect x="1166.5" y="442.0" width="33.1" height="14.0" fill="#000"/><rect x="1058.7" y="468.7" width="33.1" height="14.0" fill="#000"/><rect x="1058.7" y="484.3" width="33.1" height="14.0" fill="#000"/><rect x="1179.9" y="492.1" width="33.1" height="14.0" fill="#000"/><rect x="1193.2" y="327.5" width="33.1" height="14.0" fill="#000"/><rect x="1193.2" y="349.7" width="33.1" height="14.0" fill="#000"/><rect x="1383.2" y="306.4" width="33.1" height="14.0" fill="#000"/><rect x="1411.0" y="325.3" width="33.1" height="14.0" fill="#000"/><rect x="1411.0" y="350.8" width="33.1" height="14.0" fill="#000"/><rect x="1288.8" y="367.5" width="33.1" height="14.0" fill="#000"/><rect x="1234.2" y="389.8" width="33.1" height="14.0" fill="#000"/><rect x="1424.5" y="392.0" width="33.1" height="14.0" fill="#000"/><rect x="1302.0" y="405.3" width="33.1" height="14.0" fill="#000"/><rect x="1302.0" y="423.1" width="33.1" height="14.0" fill="#000"/><rect x="1316.5" y="440.9" width="33.1" height="14.0" fill="#000"/><rect x="1275.5" y="474.3" width="33.1" height="14.0" fill="#000"/><rect x="1316.5" y="485.4" width="33.1" height="14.0" fill="#000"/><rect x="1424.5" y="497.7" width="33.1" height="14.0" fill="#000"/></mask></defs><g clip-path="url(#c_te)" mask="url(#m_te)" fill="none"><path d="M912.0 37.0C939.0 37.1 1019.8 37.2 1074.0 37.5C1128.2 37.8 1182.7 39.3 1237.0 39.0C1291.3 38.7 1345.8 37.2 1400.0 35.5C1454.2 33.8 1535.0 30.1 1562.0 29.0M912.0 42.3C939.0 42.1 1019.8 40.8 1074.0 41.0C1128.2 41.2 1182.7 43.7 1237.0 43.5C1291.3 43.3 1345.8 41.6 1400.0 40.0C1454.2 38.4 1535.0 35.0 1562.0 34.0M912.0 47.7C916.7 48.0 913.0 49.7 940.0 49.2C967.0 48.8 1031.2 45.0 1074.0 45.0C1116.8 45.0 1169.3 48.7 1196.5 49.2C1223.7 49.8 1203.1 49.2 1237.0 48.3C1270.9 47.4 1345.8 45.5 1400.0 44.0C1454.2 42.5 1535.0 40.0 1562.0 39.2M912.0 53.8C936.8 53.5 1006.8 51.9 1061.0 51.8C1115.2 51.7 1200.9 52.8 1237.0 53.2C1273.1 53.6 1250.6 54.7 1277.8 54.0C1305.0 53.3 1352.6 50.4 1400.0 49.0C1447.4 47.6 1535.0 46.4 1562.0 45.9M912.0 59.3C923.4 59.5 953.3 61.3 980.3 60.6C1007.3 59.9 1031.0 55.3 1074.0 55.0C1117.0 54.7 1183.7 58.9 1238.0 58.7C1292.3 58.5 1346.0 55.1 1400.0 54.0C1454.0 52.9 1535.0 52.3 1562.0 52.0M912.0 65.3C916.7 65.6 913.0 68.0 940.0 67.1C967.0 66.2 1024.5 60.7 1074.0 60.0C1123.5 59.3 1182.7 63.2 1237.0 63.0C1291.3 62.8 1345.8 59.8 1400.0 59.0C1454.2 58.2 1535.0 58.2 1562.0 58.0M912.0 71.2C941.4 70.5 1034.2 67.7 1088.4 67.1C1142.6 66.5 1205.4 67.2 1237.0 67.8C1268.6 68.3 1250.6 70.9 1277.8 70.4C1305.0 69.9 1352.6 66.0 1400.0 65.0C1447.4 63.9 1535.0 64.2 1562.0 64.1M912.0 76.9C939.0 75.9 1019.7 71.5 1074.0 71.0C1128.3 70.5 1183.7 73.9 1238.0 74.0C1292.3 74.1 1368.4 71.6 1400.0 71.4C1431.6 71.2 1400.4 72.8 1427.4 72.6C1454.4 72.4 1539.6 70.6 1562.0 70.2M912.0 83.0C939.0 81.8 1035.7 77.0 1074.0 76.0C1112.3 75.0 1114.8 76.8 1142.0 77.0C1169.2 77.2 1196.3 76.7 1237.0 76.9C1277.7 77.1 1331.7 78.0 1385.9 78.0C1440.1 78.0 1532.7 77.1 1562.0 76.9M912.0 89.0C939.0 87.8 1019.8 83.0 1074.0 82.0C1128.2 81.0 1198.5 82.4 1237.0 83.0C1275.5 83.6 1277.8 85.7 1305.0 85.7C1332.2 85.7 1357.2 83.5 1400.0 83.0C1442.8 82.5 1535.0 82.9 1562.0 82.9M912.0 94.5C939.0 93.2 1019.8 88.0 1074.0 87.0C1128.2 86.0 1182.7 88.1 1237.0 88.4C1291.3 88.7 1368.3 88.8 1400.0 89.0C1431.7 89.2 1400.4 89.4 1427.4 89.4C1454.4 89.4 1539.6 89.1 1562.0 89.0M912.0 103.6C939.0 101.7 1042.4 94.1 1074.0 92.0C1105.6 89.9 1074.3 90.7 1101.5 91.1C1128.7 91.5 1191.8 93.8 1237.0 94.5C1282.2 95.2 1345.6 95.2 1372.8 95.5C1400.0 95.8 1368.5 96.0 1400.0 96.0C1431.5 96.0 1535.0 95.8 1562.0 95.7M912.0 113.9C916.7 114.1 913.0 117.5 940.0 115.2C967.0 112.9 1040.3 103.1 1074.0 100.0C1107.7 96.9 1114.8 95.9 1142.0 96.6C1169.2 97.3 1194.0 102.4 1237.0 104.0C1280.0 105.6 1368.3 105.6 1400.0 106.0C1431.7 106.4 1400.4 106.7 1427.4 106.4C1454.4 106.1 1539.6 104.6 1562.0 104.2M912.0 124.2C939.0 121.8 1019.8 111.4 1074.0 110.0C1128.2 108.6 1187.2 114.7 1237.0 115.7C1286.8 116.8 1345.6 116.2 1372.8 116.3C1400.0 116.3 1368.5 116.3 1400.0 116.0C1431.5 115.7 1535.0 114.8 1562.0 114.5M912.0 133.3C939.0 131.4 1040.0 123.4 1074.0 122.0C1108.0 120.6 1088.5 124.3 1115.7 125.0C1142.9 125.7 1189.6 125.6 1237.0 126.0C1284.4 126.4 1368.3 127.0 1400.0 127.2C1431.7 127.4 1400.4 127.4 1427.4 127.2C1454.4 127.0 1539.6 126.2 1562.0 126.0M912.0 143.0C923.4 143.1 953.3 144.8 980.3 143.6C1007.3 142.4 1040.2 137.2 1074.0 136.0C1107.8 134.8 1155.8 136.2 1183.0 136.3C1210.2 136.4 1205.4 136.1 1237.0 136.3C1268.6 136.5 1345.6 137.1 1372.8 137.4C1400.0 137.7 1368.5 138.3 1400.0 138.0C1431.5 137.7 1535.0 136.1 1562.0 135.7M912.0 151.5C932.3 152.0 1006.8 154.4 1033.8 154.5C1060.8 154.6 1042.4 153.3 1074.0 152.0C1105.6 150.7 1169.2 147.3 1223.5 146.7C1277.8 146.1 1366.0 148.1 1400.0 148.5C1434.0 148.9 1400.4 149.4 1427.4 149.0C1454.4 148.6 1539.6 146.5 1562.0 146.0M912.0 166.0C925.6 166.3 966.4 167.8 993.4 168.0C1020.4 168.2 1042.4 167.2 1074.0 167.0C1105.6 166.8 1155.8 167.6 1183.0 167.0C1210.2 166.4 1205.4 164.0 1237.0 163.6C1268.6 163.2 1345.6 164.4 1372.8 164.3C1400.0 164.2 1368.5 163.4 1400.0 163.0C1431.5 162.6 1535.0 162.0 1562.0 161.8M912.0 180.6C923.4 181.3 953.3 184.6 980.3 185.0C1007.3 185.4 1033.4 182.1 1074.0 183.0C1114.6 183.9 1169.5 189.5 1223.8 190.5C1278.1 191.5 1363.9 189.0 1400.0 189.0C1436.1 189.0 1413.5 190.3 1440.5 190.5C1467.5 190.7 1541.8 190.1 1562.0 190.0M912.0 196.0C939.0 196.7 1035.7 198.0 1074.0 200.0C1112.3 202.0 1114.8 206.5 1142.0 208.0C1169.2 209.5 1194.0 208.1 1237.0 209.0C1280.0 209.9 1345.8 214.1 1400.0 213.4C1454.2 212.7 1535.0 206.4 1562.0 205.0M912.0 212.0C939.0 212.5 1017.4 212.2 1074.0 215.0C1130.6 217.8 1197.3 227.0 1251.6 228.7C1305.9 230.4 1368.5 225.5 1400.0 225.0C1431.5 224.5 1413.5 226.0 1440.5 225.5C1467.5 225.0 1541.8 222.6 1562.0 222.0M912.0 228.0C939.0 228.3 1033.3 228.5 1074.0 230.0C1114.7 231.5 1128.8 235.3 1156.0 237.0C1183.2 238.7 1196.3 239.7 1237.0 240.0C1277.7 240.3 1345.8 239.3 1400.0 238.6C1454.2 237.9 1535.0 236.4 1562.0 236.0M912.0 245.0C925.6 245.0 966.4 244.8 993.4 245.1C1020.4 245.4 1037.8 245.9 1074.0 247.0C1110.2 248.1 1183.5 251.0 1210.7 251.7C1237.9 252.4 1205.5 251.3 1237.0 251.0C1268.5 250.7 1366.1 250.2 1400.0 250.0C1433.9 249.8 1413.5 249.5 1440.5 249.5C1467.5 249.5 1541.8 249.9 1562.0 250.0M912.0 262.0C939.0 262.3 1037.9 263.4 1074.0 264.0C1110.1 264.6 1101.6 265.7 1128.8 265.9C1156.0 266.1 1203.1 264.7 1237.0 265.0C1270.9 265.3 1305.2 267.6 1332.4 267.6C1359.6 267.6 1361.7 265.4 1400.0 265.0C1438.3 264.6 1535.0 265.0 1562.0 265.0M912.0 279.0C939.0 279.3 1037.9 280.4 1074.0 281.0C1110.1 281.6 1101.6 283.1 1128.8 282.9C1156.0 282.7 1191.8 280.6 1237.0 280.0C1282.2 279.4 1345.8 279.0 1400.0 279.0C1454.2 279.0 1535.0 279.8 1562.0 280.0M912.0 294.0C930.1 294.0 993.7 293.2 1020.7 294.0C1047.7 294.8 1042.3 298.8 1074.0 299.0C1105.7 299.2 1183.5 295.8 1210.7 295.5C1237.9 295.2 1205.5 297.2 1237.0 297.0C1268.5 296.8 1345.8 294.6 1400.0 294.2C1454.2 293.8 1535.0 294.4 1562.0 294.5M912.0 312.0C939.0 313.0 1037.9 316.7 1074.0 317.8C1110.1 318.9 1101.4 319.6 1128.6 318.9C1155.8 318.2 1191.8 314.3 1237.0 313.4C1282.2 312.5 1345.6 313.6 1399.8 313.4C1454.0 313.2 1535.0 312.2 1562.0 312.0M912.0 330.0C939.0 331.1 1024.4 335.9 1074.0 336.7C1123.6 337.4 1182.5 335.4 1209.7 334.5C1236.9 333.6 1205.3 331.2 1237.0 331.0C1268.7 330.8 1368.2 332.8 1400.0 333.0C1431.8 333.2 1400.6 332.8 1427.6 332.3C1454.6 331.8 1539.6 330.4 1562.0 330.0M912.0 349.0C939.0 350.5 1024.4 356.5 1074.0 357.8C1123.6 359.1 1182.5 357.2 1209.7 356.7C1236.9 356.1 1205.3 354.4 1237.0 354.5C1268.7 354.6 1368.2 356.4 1400.0 357.0C1431.8 357.6 1400.6 357.1 1427.6 357.8C1454.6 358.5 1539.6 360.5 1562.0 361.0M912.0 367.0C939.0 369.2 1019.8 378.4 1074.0 380.0C1128.2 381.6 1198.5 377.7 1237.0 376.8C1275.5 375.9 1278.1 373.8 1305.3 374.5C1332.5 375.2 1357.2 378.8 1400.0 381.0C1442.8 383.2 1535.0 386.8 1562.0 388.0M912.0 387.0C923.2 387.1 952.5 386.1 979.5 387.9C1006.5 389.7 1028.8 396.5 1074.0 398.0C1119.2 399.5 1196.5 396.8 1250.8 396.8C1305.1 396.8 1368.3 397.6 1400.0 398.0C1431.7 398.4 1414.0 398.7 1441.0 399.0C1468.0 399.3 1541.8 399.8 1562.0 400.0M912.0 403.0C939.0 404.5 1037.9 410.6 1074.0 412.0C1110.1 413.4 1101.4 410.9 1128.6 411.2C1155.8 411.4 1205.3 413.3 1237.0 413.5C1268.7 413.7 1291.4 411.7 1318.6 412.3C1345.8 412.9 1359.4 416.8 1400.0 417.0C1440.6 417.2 1535.0 414.1 1562.0 413.5M912.0 421.0C939.2 422.3 1021.0 427.8 1075.2 429.0C1129.4 430.2 1196.4 427.8 1237.0 428.0C1277.6 428.2 1291.4 429.4 1318.6 430.1C1345.8 430.8 1359.4 432.9 1400.0 432.0C1440.6 431.1 1535.0 425.8 1562.0 424.6M912.0 437.0C939.2 438.3 1021.0 443.7 1075.2 444.6C1129.4 445.5 1194.0 441.8 1237.0 442.4C1280.0 442.9 1305.9 447.3 1333.1 447.9C1360.3 448.5 1361.8 447.9 1400.0 446.0C1438.2 444.1 1535.0 438.3 1562.0 436.8M912.0 453.0C939.0 454.2 1028.8 460.7 1074.0 460.0C1119.2 459.3 1155.8 449.7 1183.0 449.0C1210.2 448.3 1200.8 453.8 1237.0 456.0C1273.2 458.2 1345.8 463.2 1400.0 462.0C1454.2 460.8 1535.0 451.2 1562.0 449.0M912.0 470.0C939.2 470.9 1021.0 475.9 1075.2 475.7C1129.4 475.5 1200.9 468.1 1237.0 469.0C1273.1 469.9 1264.8 479.8 1292.0 481.3C1319.2 482.8 1355.0 481.6 1400.0 478.0C1445.0 474.4 1535.0 463.0 1562.0 460.0M912.0 486.0C939.2 486.9 1021.0 492.1 1075.2 491.3C1129.4 490.5 1194.0 480.8 1237.0 481.0C1280.0 481.2 1305.9 490.2 1333.1 492.4C1360.3 494.6 1361.8 497.3 1400.0 494.0C1438.2 490.7 1535.0 476.0 1562.0 472.4M925.0 503.0C936.3 504.6 977.2 509.7 993.0 512.4C1008.8 515.1 1006.5 518.4 1020.0 519.0C1033.5 519.6 1058.2 518.4 1074.0 515.8C1089.8 513.2 1102.3 506.1 1115.0 503.6C1127.7 501.1 1129.7 501.6 1150.0 501.0C1170.3 500.4 1209.0 499.4 1237.0 500.0C1265.0 500.6 1296.5 502.2 1318.0 504.7C1339.5 507.1 1352.3 511.0 1366.0 514.7C1379.7 518.4 1391.3 528.9 1400.0 527.0C1408.7 525.1 1405.2 508.4 1418.0 503.6C1430.8 498.8 1457.8 499.7 1477.0 498.0C1496.2 496.3 1518.8 493.9 1533.0 493.5C1547.2 493.1 1557.2 495.4 1562.0 495.8M912.0 560.0C915.0 558.9 912.7 554.9 930.0 553.6C947.3 552.4 988.0 551.4 1016.0 552.5C1044.0 553.6 1042.2 558.8 1098.0 560.0C1153.8 561.2 1306.3 561.2 1351.0 560.0C1395.7 558.8 1361.2 552.7 1366.0 552.5C1370.8 552.3 1371.3 557.8 1380.0 559.0C1388.7 560.2 1409.8 562.9 1418.0 560.0C1426.2 557.1 1422.8 543.8 1429.0 541.4C1435.2 539.0 1446.8 544.7 1455.0 545.8C1463.2 546.9 1468.7 545.8 1478.0 548.0C1487.3 550.2 1497.0 557.5 1511.0 559.0C1525.0 560.5 1553.5 557.3 1562.0 557.0" stroke="#000" stroke-width="1.45"/></g><g><text x="940.0" y="54.9" font-size="16.0" text-anchor="middle" font-weight="normal" textLength="29.1" lengthAdjust="spacingAndGlyphs">368</text><text x="940.0" y="72.8" font-size="16.0" text-anchor="middle" font-weight="normal" textLength="29.1" lengthAdjust="spacingAndGlyphs">362</text><text x="980.3" y="66.3" font-size="16.0" text-anchor="middle" font-weight="normal" textLength="29.1" lengthAdjust="spacingAndGlyphs">364</text><text x="1061.0" y="57.5" font-size="16.0" text-anchor="middle" font-weight="normal" textLength="29.1" lengthAdjust="spacingAndGlyphs">366</text><text x="1088.4" y="72.8" font-size="16.0" text-anchor="middle" font-weight="normal" textLength="29.1" lengthAdjust="spacingAndGlyphs">360</text><text x="1142.0" y="82.7" font-size="16.0" text-anchor="middle" font-weight="normal" textLength="29.1" lengthAdjust="spacingAndGlyphs">356</text><text x="1101.5" y="96.8" font-size="16.0" text-anchor="middle" font-weight="normal" textLength="29.1" lengthAdjust="spacingAndGlyphs">350</text><text x="1142.0" y="102.3" font-size="16.0" text-anchor="middle" font-weight="normal" textLength="29.1" lengthAdjust="spacingAndGlyphs">348</text><text x="940.0" y="120.9" font-size="16.0" text-anchor="middle" font-weight="normal" textLength="29.1" lengthAdjust="spacingAndGlyphs">348</text><text x="1115.7" y="130.7" font-size="16.0" text-anchor="middle" font-weight="normal" textLength="29.1" lengthAdjust="spacingAndGlyphs">344</text><text x="980.3" y="149.3" font-size="16.0" text-anchor="middle" font-weight="normal" textLength="29.1" lengthAdjust="spacingAndGlyphs">342</text><text x="1033.8" y="160.2" font-size="16.0" text-anchor="middle" font-weight="normal" textLength="29.1" lengthAdjust="spacingAndGlyphs">340</text><text x="993.4" y="173.7" font-size="16.0" text-anchor="middle" font-weight="normal" textLength="29.1" lengthAdjust="spacingAndGlyphs">338</text><text x="980.3" y="190.7" font-size="16.0" text-anchor="middle" font-weight="normal" textLength="29.1" lengthAdjust="spacingAndGlyphs">336</text><text x="1142.0" y="213.7" font-size="16.0" text-anchor="middle" font-weight="normal" textLength="29.1" lengthAdjust="spacingAndGlyphs">334</text><text x="1156.0" y="242.7" font-size="16.0" text-anchor="middle" font-weight="normal" textLength="29.1" lengthAdjust="spacingAndGlyphs">330</text><text x="993.4" y="250.8" font-size="16.0" text-anchor="middle" font-weight="normal" textLength="29.1" lengthAdjust="spacingAndGlyphs">328</text><text x="1128.8" y="271.6" font-size="16.0" text-anchor="middle" font-weight="normal" textLength="29.1" lengthAdjust="spacingAndGlyphs">326</text><text x="1128.8" y="288.6" font-size="16.0" text-anchor="middle" font-weight="normal" textLength="29.1" lengthAdjust="spacingAndGlyphs">324</text><text x="1020.7" y="299.7" font-size="16.0" text-anchor="middle" font-weight="normal" textLength="29.1" lengthAdjust="spacingAndGlyphs">322</text><text x="1196.5" y="54.9" font-size="16.0" text-anchor="middle" font-weight="normal" textLength="29.1" lengthAdjust="spacingAndGlyphs">368</text><text x="1183.0" y="142.0" font-size="16.0" text-anchor="middle" font-weight="normal" textLength="29.1" lengthAdjust="spacingAndGlyphs">342</text><text x="1183.0" y="172.7" font-size="16.0" text-anchor="middle" font-weight="normal" textLength="29.1" lengthAdjust="spacingAndGlyphs">338</text><text x="1223.5" y="152.4" font-size="16.0" text-anchor="middle" font-weight="normal" textLength="29.1" lengthAdjust="spacingAndGlyphs">340</text><text x="1223.8" y="196.2" font-size="16.0" text-anchor="middle" font-weight="normal" textLength="29.1" lengthAdjust="spacingAndGlyphs">336</text><text x="1210.7" y="257.4" font-size="16.0" text-anchor="middle" font-weight="normal" textLength="29.1" lengthAdjust="spacingAndGlyphs">328</text><text x="1210.7" y="301.2" font-size="16.0" text-anchor="middle" font-weight="normal" textLength="29.1" lengthAdjust="spacingAndGlyphs">322</text><text x="1238.0" y="64.4" font-size="16.0" text-anchor="middle" font-weight="normal" textLength="29.1" lengthAdjust="spacingAndGlyphs">364</text><text x="1238.0" y="79.7" font-size="16.0" text-anchor="middle" font-weight="normal" textLength="29.1" lengthAdjust="spacingAndGlyphs">358</text><text x="1277.8" y="59.7" font-size="16.0" text-anchor="middle" font-weight="normal" textLength="29.1" lengthAdjust="spacingAndGlyphs">366</text><text x="1277.8" y="76.1" font-size="16.0" text-anchor="middle" font-weight="normal" textLength="29.1" lengthAdjust="spacingAndGlyphs">360</text><text x="1305.0" y="91.4" font-size="16.0" text-anchor="middle" font-weight="normal" textLength="29.1" lengthAdjust="spacingAndGlyphs">354</text><text x="1385.9" y="83.7" font-size="16.0" text-anchor="middle" font-weight="normal" textLength="29.1" lengthAdjust="spacingAndGlyphs">356</text><text x="1372.8" y="101.2" font-size="16.0" text-anchor="middle" font-weight="normal" textLength="29.1" lengthAdjust="spacingAndGlyphs">350</text><text x="1372.8" y="122.0" font-size="16.0" text-anchor="middle" font-weight="normal" textLength="29.1" lengthAdjust="spacingAndGlyphs">346</text><text x="1372.8" y="143.1" font-size="16.0" text-anchor="middle" font-weight="normal" textLength="29.1" lengthAdjust="spacingAndGlyphs">342</text><text x="1372.8" y="170.0" font-size="16.0" text-anchor="middle" font-weight="normal" textLength="29.1" lengthAdjust="spacingAndGlyphs">338</text><text x="1427.4" y="78.3" font-size="16.0" text-anchor="middle" font-weight="normal" textLength="29.1" lengthAdjust="spacingAndGlyphs">358</text><text x="1427.4" y="95.1" font-size="16.0" text-anchor="middle" font-weight="normal" textLength="29.1" lengthAdjust="spacingAndGlyphs">352</text><text x="1427.4" y="112.1" font-size="16.0" text-anchor="middle" font-weight="normal" textLength="29.1" lengthAdjust="spacingAndGlyphs">348</text><text x="1427.4" y="132.9" font-size="16.0" text-anchor="middle" font-weight="normal" textLength="29.1" lengthAdjust="spacingAndGlyphs">344</text><text x="1427.4" y="154.7" font-size="16.0" text-anchor="middle" font-weight="normal" textLength="29.1" lengthAdjust="spacingAndGlyphs">340</text><text x="1440.5" y="196.2" font-size="16.0" text-anchor="middle" font-weight="normal" textLength="29.1" lengthAdjust="spacingAndGlyphs">336</text><text x="1400.0" y="219.1" font-size="16.0" text-anchor="middle" font-weight="normal" textLength="29.1" lengthAdjust="spacingAndGlyphs">334</text><text x="1440.5" y="231.2" font-size="16.0" text-anchor="middle" font-weight="normal" textLength="29.1" lengthAdjust="spacingAndGlyphs">332</text><text x="1400.0" y="244.3" font-size="16.0" text-anchor="middle" font-weight="normal" textLength="29.1" lengthAdjust="spacingAndGlyphs">330</text><text x="1440.5" y="255.2" font-size="16.0" text-anchor="middle" font-weight="normal" textLength="29.1" lengthAdjust="spacingAndGlyphs">328</text><text x="1332.4" y="273.3" font-size="16.0" text-anchor="middle" font-weight="normal" textLength="29.1" lengthAdjust="spacingAndGlyphs">326</text><text x="1400.0" y="284.7" font-size="16.0" text-anchor="middle" font-weight="normal" textLength="29.1" lengthAdjust="spacingAndGlyphs">324</text><text x="1400.0" y="299.9" font-size="16.0" text-anchor="middle" font-weight="normal" textLength="29.1" lengthAdjust="spacingAndGlyphs">322</text><text x="1251.6" y="234.4" font-size="16.0" text-anchor="middle" font-weight="normal" textLength="29.1" lengthAdjust="spacingAndGlyphs">332</text><text x="1128.6" y="324.6" font-size="16.0" text-anchor="middle" font-weight="normal" textLength="29.1" lengthAdjust="spacingAndGlyphs">320</text><text x="979.5" y="393.6" font-size="16.0" text-anchor="middle" font-weight="normal" textLength="29.1" lengthAdjust="spacingAndGlyphs">312</text><text x="1128.6" y="416.9" font-size="16.0" text-anchor="middle" font-weight="normal" textLength="29.1" lengthAdjust="spacingAndGlyphs">310</text><text x="1075.2" y="434.7" font-size="16.0" text-anchor="middle" font-weight="normal" textLength="29.1" lengthAdjust="spacingAndGlyphs">308</text><text x="1075.2" y="450.3" font-size="16.0" text-anchor="middle" font-weight="normal" textLength="29.1" lengthAdjust="spacingAndGlyphs">306</text><text x="1183.0" y="454.7" font-size="16.0" text-anchor="middle" font-weight="normal" textLength="29.1" lengthAdjust="spacingAndGlyphs">304</text><text x="1075.2" y="481.4" font-size="16.0" text-anchor="middle" font-weight="normal" textLength="29.1" lengthAdjust="spacingAndGlyphs">302</text><text x="1075.2" y="497.0" font-size="16.0" text-anchor="middle" font-weight="normal" textLength="29.1" lengthAdjust="spacingAndGlyphs">300</text><text x="1196.4" y="504.8" font-size="16.0" text-anchor="middle" font-weight="normal" textLength="29.1" lengthAdjust="spacingAndGlyphs">298</text><text x="1209.7" y="340.2" font-size="16.0" text-anchor="middle" font-weight="normal" textLength="29.1" lengthAdjust="spacingAndGlyphs">318</text><text x="1209.7" y="362.4" font-size="16.0" text-anchor="middle" font-weight="normal" textLength="29.1" lengthAdjust="spacingAndGlyphs">316</text><text x="1399.8" y="319.1" font-size="16.0" text-anchor="middle" font-weight="normal" textLength="29.1" lengthAdjust="spacingAndGlyphs">320</text><text x="1427.6" y="338.0" font-size="16.0" text-anchor="middle" font-weight="normal" textLength="29.1" lengthAdjust="spacingAndGlyphs">318</text><text x="1427.6" y="363.5" font-size="16.0" text-anchor="middle" font-weight="normal" textLength="29.1" lengthAdjust="spacingAndGlyphs">316</text><text x="1305.3" y="380.2" font-size="16.0" text-anchor="middle" font-weight="normal" textLength="29.1" lengthAdjust="spacingAndGlyphs">314</text><text x="1250.8" y="402.5" font-size="16.0" text-anchor="middle" font-weight="normal" textLength="29.1" lengthAdjust="spacingAndGlyphs">312</text><text x="1441.0" y="404.7" font-size="16.0" text-anchor="middle" font-weight="normal" textLength="29.1" lengthAdjust="spacingAndGlyphs">312</text><text x="1318.6" y="418.0" font-size="16.0" text-anchor="middle" font-weight="normal" textLength="29.1" lengthAdjust="spacingAndGlyphs">310</text><text x="1318.6" y="435.8" font-size="16.0" text-anchor="middle" font-weight="normal" textLength="29.1" lengthAdjust="spacingAndGlyphs">308</text><text x="1333.1" y="453.6" font-size="16.0" text-anchor="middle" font-weight="normal" textLength="29.1" lengthAdjust="spacingAndGlyphs">306</text><text x="1292.0" y="487.0" font-size="16.0" text-anchor="middle" font-weight="normal" textLength="29.1" lengthAdjust="spacingAndGlyphs">302</text><text x="1333.1" y="498.1" font-size="16.0" text-anchor="middle" font-weight="normal" textLength="29.1" lengthAdjust="spacingAndGlyphs">300</text><text x="1441.0" y="510.4" font-size="16.0" text-anchor="middle" font-weight="normal" textLength="29.1" lengthAdjust="spacingAndGlyphs">298</text></g><g clip-path="url(#c_u)"><path d="M149.0 638.0L129.0 638.0M162.5 638.0L142.5 638.0M176.1 638.0L156.1 638.0M189.6 638.0L169.6 638.0M203.2 638.0L183.2 638.0M216.7 638.0L196.7 638.0M230.2 638.0L210.2 638.0M243.8 638.0L223.8 638.0M257.3 638.0L237.3 638.0M270.9 638.0L250.9 638.0M284.4 638.0L264.4 638.0M298.0 638.0L278.0 638.0M311.5 638.0L291.5 638.0M325.0 638.0L305.0 638.0M338.6 638.0L318.6 638.0M352.1 638.0L332.1 638.0M365.7 638.0L345.7 638.0M379.2 638.0L359.2 638.0M392.8 638.0L372.8 638.0M406.3 638.0L386.3 638.0M419.8 638.0L399.8 638.0M433.4 638.0L432.3 658.0M446.9 638.0L445.9 658.0M460.5 638.0L459.4 658.0M474.0 638.0L473.0 658.0M487.5 638.0L486.8 658.0M487.0 654.8l-5.3 1.4M501.1 638.0L500.3 658.0M500.4 654.8l-5.3 1.4M514.6 638.0L513.7 658.0M513.8 654.8l-5.3 1.4M528.2 638.0L527.1 658.0M527.3 654.8l-5.3 1.3M541.7 638.0L540.5 658.0M540.7 654.8l-5.3 1.3M555.2 638.0L554.0 658.0M554.2 654.8l-5.4 1.3M568.8 638.0L567.4 658.0M567.6 654.8l-5.4 1.2M582.3 638.0L580.8 657.9M581.1 654.8l-5.4 1.2M595.9 638.0L594.2 657.9M594.5 654.7l-5.4 1.2M609.4 638.0L607.7 657.9M608.0 654.7l-5.4 1.1M623.0 638.0L619.5 657.7M620.0 654.5l-5.5 0.7M636.5 638.0L632.9 657.7M633.5 654.5l-5.5 0.6M650.0 638.0L646.3 657.6M646.9 654.5l-5.5 0.6M663.6 638.0L659.7 657.6M660.3 654.5l-5.5 0.6M677.1 638.0L673.1 657.6M673.7 654.5l-5.5 0.5M690.7 638.0L686.5 657.6M687.2 654.4l-5.5 0.5M704.2 638.0L697.4 656.8M698.5 653.8l-5.5 -0.3M717.8 638.0L710.2 656.5M711.4 653.6l-5.5 -0.5M731.3 638.0L723.1 656.2M724.4 653.3l-5.5 -0.7M744.8 638.0L735.9 655.9M737.4 653.0l-5.4 -0.9M758.4 638.0L748.8 655.6M750.3 652.8l-5.4 -1.1M771.9 638.0L761.7 655.2M763.3 652.4l-5.3 -1.3M785.5 638.0L774.6 654.8M776.3 652.1l-5.3 -1.5M799.0 638.0L787.5 654.4M789.4 651.8l-5.2 -1.7M149.0 696.2L130.2 703.1M130.2 703.1l-6.6 -8.8M133.2 702.0l-6.6 -8.8M136.2 700.9l-6.6 -8.8M162.5 696.2L143.7 703.0M143.7 703.0l-6.6 -8.8M146.7 701.9l-6.6 -8.8M149.8 700.8l-6.6 -8.8M176.1 696.2L157.3 703.0M157.3 703.0l-6.6 -8.8M160.3 701.9l-6.6 -8.8M163.3 700.8l-6.6 -8.8M189.6 696.2L170.8 702.9M170.8 702.9l-6.6 -8.8M173.8 701.9l-6.6 -8.8M176.8 700.8l-6.6 -8.8M203.2 696.2L184.3 702.9M184.3 702.9l-6.5 -8.8M187.3 701.8l-6.5 -8.8M190.3 700.8l-6.5 -8.8M216.7 696.2L197.8 702.9M197.8 702.9l-6.5 -8.9M200.9 701.8l-6.5 -8.9M203.9 700.7l-6.5 -8.9M230.2 696.2L211.4 702.8M211.4 702.8l-6.5 -8.9M214.4 701.8l-6.5 -8.9M217.4 700.7l-6.5 -8.9M243.8 696.2L224.9 702.8M224.9 702.8l-6.5 -8.9M227.9 701.7l-6.5 -8.9M230.9 700.7l-6.5 -8.9M257.3 696.2L238.4 702.7M238.4 702.7l-6.5 -8.9M241.4 701.7l-6.5 -8.9M244.5 700.6l-6.5 -8.9M270.9 696.2L252.0 702.7M252.0 702.7l-6.4 -8.9M255.0 701.7l-6.4 -8.9M258.0 700.6l-6.4 -8.9M284.4 696.2L265.5 702.7M265.5 702.7l-6.4 -8.9M268.5 701.6l-6.4 -8.9M271.5 700.6l-6.4 -8.9M298.0 696.2L279.0 702.6M279.0 702.6l-6.4 -8.9M282.0 701.6l-6.4 -8.9M285.1 700.6l-6.4 -8.9M311.5 696.2L292.5 702.6M292.5 702.6l-6.4 -9.0M295.6 701.6l-6.4 -9.0M298.6 700.5l-6.4 -9.0M325.0 696.2L306.1 702.5M306.1 702.5l-6.4 -9.0M309.1 701.5l-6.4 -9.0M312.1 700.5l-6.4 -9.0M338.6 696.2L319.6 702.5M319.6 702.5l-6.3 -9.0M322.6 701.5l-6.3 -9.0M325.7 700.5l-6.3 -9.0M352.1 696.2L333.1 702.4M333.1 702.4l-6.3 -9.0M336.2 701.4l-6.3 -9.0M339.2 700.5l-6.3 -9.0M365.7 696.2L346.6 702.4M346.6 702.4l-6.3 -9.0M349.7 701.4l-6.3 -9.0M352.7 700.4l-6.3 -9.0M379.2 696.2L359.9 701.3M359.9 701.3l-5.8 -9.4M363.0 700.5l-5.8 -9.4M366.1 699.7l-5.8 -9.4M392.8 696.2L373.2 700.2M373.2 700.2l-5.2 -9.7M376.3 699.6l-5.2 -9.7M379.4 698.9l-5.2 -9.7M406.3 696.2L386.5 699.1M386.5 699.1l-4.7 -9.9M389.7 698.6l-4.7 -9.9M392.8 698.2l-4.7 -9.9M419.8 696.2L399.9 698.0M399.9 698.0l-4.1 -10.2M403.1 697.7l-4.1 -10.2M406.3 697.4l-4.1 -10.2M433.4 696.2L413.4 697.9M413.4 697.9l-4.1 -10.2M416.6 697.7l-4.1 -10.2M419.8 697.4l-4.1 -10.2M446.9 696.2L427.0 697.9M427.0 697.9l-4.1 -10.2M430.2 697.6l-4.1 -10.2M433.4 697.4l-4.1 -10.2M460.5 696.2L440.5 697.9M440.5 697.9l-4.1 -10.2M443.7 697.6l-4.1 -10.2M446.9 697.3l-4.1 -10.2M474.0 696.2L454.1 697.8M454.1 697.8l-4.0 -10.2M457.3 697.6l-4.0 -10.2M460.4 697.3l-4.0 -10.2M487.5 696.2L467.6 697.8M467.6 697.8l-4.0 -10.2M470.8 697.5l-4.0 -10.2M474.0 697.3l-4.0 -10.2M501.1 696.2L481.1 697.7M481.1 697.7l-4.0 -10.2M484.3 697.5l-4.0 -10.2M487.5 697.3l-4.0 -10.2M514.6 696.2L494.7 697.7M494.7 697.7l-4.0 -10.3M497.9 697.5l-4.0 -10.3M501.1 697.2l-4.0 -10.3M528.2 696.2L508.2 697.7M508.2 697.7l-4.0 -10.3M511.4 697.4l-4.0 -10.3M514.6 697.2l-4.0 -10.3M541.7 696.2L521.8 697.6M521.8 697.6l-3.9 -10.3M524.9 697.4l-3.9 -10.3M528.1 697.2l-3.9 -10.3M555.2 696.2L535.3 697.6M535.3 697.6l-3.9 -10.3M538.5 697.4l-3.9 -10.3M541.7 697.2l-3.9 -10.3M568.8 696.2L548.8 697.6M548.8 697.6l-3.9 -10.3M552.0 697.3l-3.9 -10.3M555.2 697.1l-3.9 -10.3M582.3 696.2L562.4 697.5M562.4 697.5l-3.9 -10.3M565.6 697.3l-3.9 -10.3M568.8 697.1l-3.9 -10.3M595.9 696.2L575.9 697.5M575.9 697.5l-3.9 -10.3M579.1 697.3l-3.9 -10.3M582.3 697.1l-3.9 -10.3M609.4 696.2L589.5 697.4M589.5 697.4l-3.9 -10.3M592.6 697.2l-3.9 -10.3M595.8 697.1l-3.9 -10.3M623.0 696.2L603.0 697.4M603.0 697.4l-3.8 -10.3M606.2 697.2l-3.8 -10.3M609.4 697.0l-3.8 -10.3M636.5 696.2L616.5 697.4M616.5 697.4l-3.8 -10.3M619.7 697.2l-3.8 -10.3M622.9 697.0l-3.8 -10.3M650.0 696.2L630.1 697.3M630.1 697.3l-3.8 -10.3M633.3 697.2l-3.8 -10.3M636.5 697.0l-3.8 -10.3M663.6 696.2L643.6 697.3M643.6 697.3l-3.8 -10.3M646.8 697.1l-3.8 -10.3M650.0 697.0l-3.8 -10.3M677.1 696.2L657.2 697.3M657.2 697.3l-3.8 -10.3M660.3 697.1l-3.8 -10.3M663.5 696.9l-3.8 -10.3M690.7 696.2L670.7 697.2M670.7 697.2l-3.7 -10.3M673.9 697.1l-3.7 -10.3M677.1 696.9l-3.7 -10.3M704.2 696.2L684.2 697.2M684.2 697.2l-3.7 -10.4M687.4 697.0l-3.7 -10.4M690.6 696.9l-3.7 -10.4M717.8 696.2L697.8 697.1M697.8 697.1l-3.7 -10.4M701.0 697.0l-3.7 -10.4M704.2 696.8l-3.7 -10.4M731.3 696.2L711.3 697.1M711.3 697.1l-3.7 -10.4M714.5 697.0l-3.7 -10.4M717.7 696.8l-3.7 -10.4M744.8 696.2L724.9 697.1M724.9 697.1l-3.7 -10.4M728.0 696.9l-3.7 -10.4M731.2 696.8l-3.7 -10.4M758.4 696.2L738.4 697.0M738.4 697.0l-3.6 -10.4M741.6 696.9l-3.6 -10.4M744.8 696.8l-3.6 -10.4M771.9 696.2L751.9 697.0M751.9 697.0l-3.6 -10.4M755.1 696.9l-3.6 -10.4M758.3 696.7l-3.6 -10.4M785.5 696.2L765.5 697.0M765.5 697.0l-3.6 -10.4M768.7 696.8l-3.6 -10.4M771.9 696.7l-3.6 -10.4M799.0 696.2L779.0 696.9M779.0 696.9l-3.6 -10.4M782.2 696.8l-3.6 -10.4M785.4 696.7l-3.6 -10.4M149.0 754.4L129.0 754.4M129.0 754.4l-3.2 -10.5M132.2 754.4l-3.2 -10.5M135.4 754.4l-1.6 -5.3M162.5 754.4L142.5 754.4M142.5 754.4l-3.2 -10.5M145.7 754.4l-3.2 -10.5M148.9 754.4l-1.6 -5.3M176.1 754.4L156.1 754.4M156.1 754.4l-3.2 -10.5M159.3 754.4l-3.2 -10.5M162.5 754.4l-1.6 -5.3M189.6 754.4L169.6 754.4M169.6 754.4l-3.2 -10.5M172.8 754.4l-3.2 -10.5M176.0 754.4l-1.6 -5.3M203.2 754.4L183.2 754.4M183.2 754.4l-3.2 -10.5M186.4 754.4l-3.2 -10.5M189.6 754.4l-1.6 -5.3M216.7 754.4L196.7 754.4M196.7 754.4l-3.2 -10.5M199.9 754.4l-3.2 -10.5M203.1 754.4l-1.6 -5.3M230.2 754.4L210.3 754.4M210.3 754.4l-3.2 -10.5M213.5 754.4l-3.2 -10.5M216.7 754.4l-1.6 -5.3M243.8 754.4L223.8 754.3M223.8 754.3l-3.2 -10.5M227.0 754.4l-3.2 -10.5M230.2 754.4l-1.6 -5.3M257.3 754.4L237.3 754.3M237.3 754.3l-3.2 -10.5M240.5 754.3l-3.2 -10.5M243.7 754.4l-1.6 -5.3M270.9 754.4L250.9 754.3M250.9 754.3l-3.1 -10.5M254.1 754.3l-3.1 -10.5M257.3 754.4l-1.6 -5.3M284.4 754.4L264.4 754.3M264.4 754.3l-3.1 -10.5M267.6 754.3l-3.1 -10.5M270.8 754.3l-1.6 -5.3M298.0 754.4L278.0 754.3M278.0 754.3l-3.1 -10.5M281.2 754.3l-3.1 -10.5M284.4 754.3l-1.6 -5.3M311.5 754.4L291.5 754.3M291.5 754.3l-3.1 -10.5M294.7 754.3l-3.1 -10.5M297.9 754.3l-1.6 -5.3M325.0 754.4L305.0 754.3M305.0 754.3l-3.1 -10.5M308.2 754.3l-3.1 -10.5M311.4 754.3l-1.6 -5.3M338.6 754.4L318.6 754.2M318.6 754.2l-3.1 -10.6M321.8 754.3l-3.1 -10.6M325.0 754.3l-1.6 -5.3M352.1 754.4L332.1 754.2M332.1 754.2l-3.1 -10.6M335.3 754.3l-3.1 -10.6M338.5 754.3l-1.6 -5.3M365.7 754.4L345.7 754.2M345.7 754.2l-3.1 -10.6M348.9 754.2l-3.1 -10.6M352.1 754.3l-1.5 -5.3M379.2 754.4L359.2 754.2M359.2 754.2l-3.1 -10.6M362.4 754.2l-3.1 -10.6M365.6 754.3l-1.5 -5.3M392.8 754.4L372.8 754.2M372.8 754.2l-3.1 -10.6M376.0 754.2l-3.1 -10.6M379.2 754.3l-1.5 -5.3M406.3 754.4L386.3 754.2M386.3 754.2l-3.1 -10.6M389.5 754.2l-3.1 -10.6M392.7 754.3l-1.5 -5.3M419.8 754.4L399.8 754.2M399.8 754.2l-3.1 -10.6M403.0 754.2l-3.1 -10.6M406.2 754.2l-1.5 -5.3M433.4 754.4L413.4 754.1M413.4 754.1l-3.1 -10.6M416.6 754.2l-3.1 -10.6M419.8 754.2l-1.5 -5.3M446.9 754.4L426.9 754.1M426.9 754.1l-3.0 -10.6M430.1 754.2l-3.0 -10.6M433.3 754.2l-1.5 -5.3M460.5 754.4L440.5 754.1M440.5 754.1l-3.0 -10.6M443.7 754.2l-3.0 -10.6M446.9 754.2l-1.5 -5.3M474.0 754.4L454.0 754.1M454.0 754.1l-3.0 -10.6M457.2 754.2l-3.0 -10.6M460.4 754.2l-1.5 -5.3M487.5 754.4L467.5 754.1M467.5 754.1l-3.0 -10.6M470.7 754.1l-3.0 -10.6M473.9 754.2l-1.5 -5.3M501.1 754.4L481.1 754.1M481.1 754.1l-3.0 -10.6M484.3 754.1l-3.0 -10.6M487.5 754.2l-1.5 -5.3M514.6 754.4L494.6 754.1M494.6 754.1l-3.0 -10.6M497.8 754.1l-3.0 -10.6M501.0 754.2l-1.5 -5.3M528.2 754.4L508.2 754.0M508.2 754.0l-3.0 -10.6M511.4 754.1l-3.0 -10.6M514.6 754.2l-1.5 -5.3M541.7 754.4L521.7 754.0M521.7 754.0l-3.0 -10.6M524.9 754.1l-3.0 -10.6M528.1 754.2l-1.5 -5.3M555.2 754.4L535.3 754.0M535.3 754.0l-3.0 -10.6M538.5 754.1l-3.0 -10.6M541.7 754.1l-1.5 -5.3M568.8 754.4L548.8 754.0M548.8 754.0l-3.0 -10.6M552.0 754.1l-3.0 -10.6M555.2 754.1l-1.5 -5.3M582.3 754.4L562.3 754.0M562.3 754.0l-3.0 -10.6M565.5 754.1l-3.0 -10.6M568.7 754.1l-1.5 -5.3M595.9 754.4L575.9 754.0M575.9 754.0l-3.0 -10.6M579.1 754.0l-3.0 -10.6M582.3 754.1l-1.5 -5.3M609.4 754.4L589.4 753.9M589.4 753.9l-3.0 -10.6M592.6 754.0l-3.0 -10.6M595.8 754.1l-1.5 -5.3M623.0 754.4L603.0 753.9M603.0 753.9l-2.9 -10.6M606.2 754.0l-2.9 -10.6M609.4 754.1l-1.5 -5.3M636.5 754.4L616.5 753.9M616.5 753.9l-2.9 -10.6M619.7 754.0l-2.9 -10.6M622.9 754.1l-1.5 -5.3M650.0 754.4L630.0 753.9M630.0 753.9l-2.9 -10.6M633.2 754.0l-2.9 -10.6M636.4 754.1l-1.5 -5.3M663.6 754.4L643.6 753.9M643.6 753.9l-2.9 -10.6M646.8 754.0l-2.9 -10.6M650.0 754.1l-1.5 -5.3M677.1 754.4L657.1 753.9M657.1 753.9l-2.9 -10.6M660.3 754.0l-2.9 -10.6M663.5 754.1l-1.5 -5.3M690.7 754.4L670.7 753.9M670.7 753.9l-2.9 -10.6M673.9 754.0l-2.9 -10.6M677.1 754.0l-1.5 -5.3M704.2 754.4L684.2 753.8M684.2 753.8l-2.9 -10.6M687.4 753.9l-2.9 -10.6M690.6 754.0l-1.5 -5.3M717.8 754.4L697.8 753.8M697.8 753.8l-2.9 -10.6M701.0 753.9l-2.9 -10.6M704.2 754.0l-1.4 -5.3M731.3 754.4L711.3 753.8M711.3 753.8l-2.9 -10.6M714.5 753.9l-2.9 -10.6M717.7 754.0l-1.4 -5.3M744.8 754.4L724.8 753.8M724.8 753.8l-2.9 -10.6M728.0 753.9l-2.9 -10.6M731.2 754.0l-1.4 -5.3M758.4 754.4L738.4 753.8M738.4 753.8l-2.9 -10.6M741.6 753.9l-2.9 -10.6M744.8 754.0l-1.4 -5.3M771.9 754.4L751.9 753.8M751.9 753.8l-2.9 -10.6M755.1 753.9l-2.9 -10.6M758.3 754.0l-1.4 -5.3M785.5 754.4L765.5 753.8M765.5 753.8l-2.9 -10.6M768.7 753.9l-2.9 -10.6M771.9 754.0l-1.4 -5.3M799.0 754.4L779.0 753.7M779.0 753.7l-2.8 -10.6M782.2 753.9l-2.8 -10.6M785.4 754.0l-1.4 -5.3M149.0 812.7L129.1 810.2M129.1 810.2l-1.9 -10.8M162.5 812.7L142.7 810.2M142.7 810.2l-1.9 -10.8M176.1 812.7L156.2 810.2M156.2 810.2l-1.9 -10.8M189.6 812.7L169.8 810.2M169.8 810.2l-1.9 -10.8M203.2 812.7L183.3 810.2M183.3 810.2l-1.9 -10.8M216.7 812.7L196.9 810.2M196.9 810.2l-1.9 -10.8M230.2 812.7L210.4 810.2M210.4 810.2l-1.9 -10.8M243.8 812.7L223.9 810.2M223.9 810.2l-1.9 -10.8M257.3 812.7L237.5 810.2M237.5 810.2l-1.9 -10.8M270.9 812.7L251.0 810.2M251.0 810.2l-1.9 -10.8M284.4 812.7L264.6 810.2M264.6 810.2l-1.9 -10.8M298.0 812.7L278.1 810.2M278.1 810.2l-1.9 -10.8M311.5 812.7L291.6 810.2M291.6 810.2l-1.9 -10.8M325.0 812.7L305.2 810.2M305.2 810.2l-1.9 -10.8M338.6 812.7L318.7 810.2M318.7 810.2l-1.9 -10.8M352.1 812.7L332.3 810.2M332.3 810.2l-1.9 -10.8M365.7 812.7L345.8 810.2M345.8 810.2l-1.9 -10.8M379.2 812.7L359.4 810.2M359.4 810.2l-1.9 -10.8M392.8 812.7L372.9 810.2M372.9 810.2l-1.9 -10.8M406.3 812.7L386.4 810.2M386.4 810.2l-1.9 -10.8M419.8 812.7L400.0 810.2M400.0 810.2l-1.9 -10.8M433.4 812.7L413.5 810.2M413.5 810.2l-1.9 -10.8M446.9 812.7L427.1 810.2M427.1 810.2l-1.9 -10.8M460.5 812.7L440.6 810.2M440.6 810.2l-1.9 -10.8M474.0 812.7L454.1 810.2M454.1 810.2l-1.9 -10.8M487.5 812.7L467.7 810.2M467.7 810.2l-1.9 -10.8M501.1 812.7L481.2 810.2M481.2 810.2l-1.9 -10.8M514.6 812.7L494.8 810.2M494.8 810.2l-1.9 -10.8M528.2 812.7L508.3 810.2M508.3 810.2l-1.9 -10.8M541.7 812.7L521.9 810.2M521.9 810.2l-1.9 -10.8M555.2 812.7L535.4 810.2M535.4 810.2l-1.9 -10.8M568.8 812.7L548.9 810.2M548.9 810.2l-1.9 -10.8M582.3 812.7L562.5 810.2M562.5 810.2l-1.9 -10.8M595.9 812.7L576.0 810.2M576.0 810.2l-1.9 -10.8M609.4 812.7L589.6 810.2M589.6 810.2l-1.9 -10.8M623.0 812.7L603.1 810.2M603.1 810.2l-1.9 -10.8M636.5 812.7L616.6 810.2M616.6 810.2l-1.9 -10.8M650.0 812.7L630.2 810.2M630.2 810.2l-1.9 -10.8M663.6 812.7L643.7 810.9M643.7 810.9l-2.3 -10.8M646.8 811.2l-1.1 -5.4M677.1 812.7L657.2 810.9M657.2 810.9l-2.3 -10.8M660.4 811.2l-1.1 -5.4M690.7 812.7L670.7 810.9M670.7 810.9l-2.3 -10.8M673.9 811.2l-1.1 -5.4M704.2 812.7L684.3 810.9M684.3 810.9l-2.3 -10.8M687.5 811.2l-1.1 -5.4M717.8 812.7L697.8 810.9M697.8 810.9l-2.3 -10.8M701.0 811.2l-1.1 -5.4M731.3 812.7L711.4 810.9M711.4 810.9l-2.3 -10.8M714.6 811.2l-1.1 -5.4M744.8 812.7L724.9 810.9M724.9 810.9l-2.3 -10.8M728.1 811.2l-1.1 -5.4M758.4 812.7L738.5 810.9M738.5 810.9l-2.3 -10.8M741.6 811.2l-1.1 -5.4M771.9 812.7L752.0 810.9M752.0 810.9l-2.3 -10.8M755.2 811.2l-1.1 -5.4M785.5 812.7L765.5 810.9M765.5 810.9l-2.3 -10.8M768.7 811.2l-1.1 -5.4M799.0 812.7L779.1 810.9M779.1 810.9l-2.3 -10.8M782.3 811.2l-1.1 -5.4M149.0 870.9L129.1 872.6M132.3 872.4l-2.1 -5.1M162.5 870.9L142.6 872.6M145.8 872.4l-2.1 -5.1M176.1 870.9L156.2 872.6M159.3 872.4l-2.1 -5.1M189.6 870.9L169.7 872.6M172.9 872.4l-2.1 -5.1M203.2 870.9L183.2 872.6M186.4 872.4l-2.1 -5.1M216.7 870.9L196.8 872.6M200.0 872.4l-2.1 -5.1M230.2 870.9L210.3 872.6M213.5 872.4l-2.1 -5.1M243.8 870.9L223.9 872.6M227.1 872.4l-2.1 -5.1M257.3 870.9L237.4 872.6M240.6 872.4l-2.1 -5.1M270.9 870.9L251.0 872.6M254.1 872.4l-2.1 -5.1M284.4 870.9L264.5 869.1M267.7 869.4l-1.1 -5.4M298.0 870.9L278.0 869.1M281.2 869.4l-1.1 -5.4M311.5 870.9L291.6 869.1M294.8 869.4l-1.1 -5.4M325.0 870.9L305.1 869.1M308.3 869.4l-1.1 -5.4M338.6 870.9L318.7 869.1M321.8 869.4l-1.1 -5.4M352.1 870.9L332.2 869.1M335.4 869.4l-1.1 -5.4M365.7 870.9L345.7 869.1M348.9 869.4l-1.1 -5.4M379.2 870.9L360.7 878.4M363.6 877.2l-3.5 -4.3M392.8 870.9L374.2 878.4M377.2 877.2l-3.5 -4.3M406.3 870.9L387.7 878.4M390.7 877.2l-3.5 -4.3M419.8 870.9L401.3 878.4M404.3 877.2l-3.5 -4.3M433.4 870.9L414.8 878.4M417.8 877.2l-3.5 -4.3M446.9 870.9L428.4 878.4M431.3 877.2l-3.5 -4.3M460.5 870.9L441.9 878.4M444.9 877.2l-3.5 -4.3M474.0 870.9L455.5 878.4M458.4 877.2l-3.5 -4.3M487.5 870.9L469.0 878.4M472.0 877.2l-3.5 -4.3M501.1 870.9L482.5 878.4M485.5 877.2l-3.5 -4.3M514.6 870.9L496.1 878.4M499.0 877.2l-3.5 -4.3M528.2 870.9L509.6 878.4M512.6 877.2l-3.5 -4.3M541.7 870.9L523.2 878.4M526.1 877.2l-3.5 -4.3M555.2 870.9L536.7 878.4M539.7 877.2l-3.5 -4.3M568.8 870.9L550.2 878.4M553.2 877.2l-3.5 -4.3M582.3 870.9L563.8 878.4M566.8 877.2l-3.5 -4.3M595.9 870.9L577.3 878.4M580.3 877.2l-3.5 -4.3M609.4 870.9L590.9 878.4M593.8 877.2l-3.5 -4.3M623.0 870.9L604.4 878.4M607.4 877.2l-3.5 -4.3M636.5 870.9L616.5 871.6M619.7 871.5l-1.8 -5.2M650.0 870.9L630.1 871.6M633.3 871.5l-1.8 -5.2M663.6 870.9L643.6 871.6M646.8 871.5l-1.8 -5.2M677.1 870.9L657.1 871.6M660.3 871.5l-1.8 -5.2M690.7 870.9L670.7 871.6M673.9 871.5l-1.8 -5.2M704.2 870.9L684.2 871.6M687.4 871.5l-1.8 -5.2M717.8 870.9L697.8 871.6M701.0 871.5l-1.8 -5.2M731.3 870.9L711.3 871.6M714.5 871.5l-1.8 -5.2M744.8 870.9L724.8 871.6M728.0 871.5l-1.8 -5.2M758.4 870.9L738.4 871.6M741.6 871.5l-1.8 -5.2M771.9 870.9L751.9 871.6M755.1 871.5l-1.8 -5.2M785.5 870.9L765.5 871.6M768.7 871.5l-1.8 -5.2M799.0 870.9L779.0 871.6M782.2 871.5l-1.8 -5.2M149.0 929.1L129.0 929.1M162.5 929.1L142.6 929.8M145.8 929.7l-1.8 -5.2M176.1 929.1L156.1 929.1M189.6 929.1L169.6 928.9M203.2 929.1L183.2 928.6M216.7 929.1L196.7 928.4M230.2 929.1L211.7 921.6M243.8 929.1L225.2 921.6M257.3 929.1L238.8 921.6M270.9 929.1L252.3 921.6M284.4 929.1L265.9 921.6M298.0 929.1L279.4 921.6M311.5 929.1L294.2 939.1M297.0 937.5l-4.0 -3.8M325.0 929.1L309.3 941.4M311.8 939.5l-4.5 -3.2M338.6 929.1L322.8 941.4M325.3 939.5l-4.5 -3.2M352.1 929.1L336.4 941.4M338.9 939.5l-4.5 -3.2M365.7 929.1L349.9 941.4M352.4 939.5l-4.5 -3.2M379.2 929.1L363.4 941.4M366.0 939.5l-4.5 -3.2M392.8 929.1L377.0 941.4M379.5 939.5l-4.5 -3.2M406.3 929.1L390.5 941.4M393.1 939.5l-4.5 -3.2M419.8 929.1L404.1 941.4M406.6 939.5l-4.5 -3.2M433.4 929.1L417.6 941.4M420.1 939.5l-4.5 -3.2M446.9 929.1L431.2 941.4M433.7 939.5l-4.5 -3.2M460.5 929.1L444.7 941.4M447.2 939.5l-4.5 -3.2M474.0 929.1L458.2 941.4M460.8 939.5l-4.5 -3.2M487.5 929.1L471.8 941.4M474.3 939.5l-4.5 -3.2M501.1 929.1L485.3 941.4M487.8 939.5l-4.5 -3.2M514.6 929.1L498.9 941.4M501.4 939.5l-4.5 -3.2M528.2 929.1L512.4 941.4M514.9 939.5l-4.5 -3.2M541.7 929.1L525.9 941.4M528.5 939.5l-4.5 -3.2M555.2 929.1L539.5 941.4M542.0 939.5l-4.5 -3.2M568.8 929.1L574.0 909.8M582.3 929.1L578.9 909.4M595.9 929.1L590.7 909.8M609.4 929.1L605.9 909.4M623.0 929.1L629.8 910.3M636.5 929.1L636.5 909.1M650.0 929.1L658.5 911.0M663.6 929.1L676.4 913.8M677.1 929.1L689.3 913.2M690.7 929.1L702.1 912.7M704.2 929.1L717.1 913.8M717.8 929.1L731.9 915.0M731.3 929.1L746.0 915.6M743.7 917.8l4.7 2.8M744.8 929.1L760.2 916.3M757.7 918.3l4.6 3.0M758.4 929.1L775.3 918.5M772.6 920.2l4.2 3.6M771.9 929.1L789.6 919.7M786.8 921.2l3.9 3.9M785.5 929.1L803.0 919.4M800.2 921.0l4.0 3.8M799.0 929.1L816.3 919.1M813.5 920.7l4.0 3.8M149.0 987.3L132.6 998.8M135.2 997.0l-4.3 -3.4M162.5 987.3L145.2 997.3M148.0 995.7l-4.0 -3.8M176.1 987.3L156.2 989.1M159.3 988.8l-2.1 -5.1M189.6 987.3L169.7 988.7M172.9 988.5l-2.0 -5.1M203.2 987.3L183.2 988.4M186.4 988.2l-1.9 -5.2M216.7 987.3L196.7 988.0M199.9 987.9l-1.8 -5.2M230.2 987.3L211.5 980.5M243.8 987.3L225.7 978.9M257.3 987.3L240.0 977.3M270.9 987.3L253.6 977.3M284.4 987.3L271.6 972.0M298.0 987.3L289.5 969.2M311.5 987.3L306.3 968.0M307.2 971.1l4.7 -2.9M325.0 987.3L323.3 967.4M323.6 970.6l5.1 -2.1M338.6 987.3L338.6 967.3M352.1 987.3L352.1 967.3M365.7 987.3L367.4 967.4M379.2 987.3L385.4 968.3M392.8 987.3L401.2 969.2M406.3 987.3L419.1 972.0M419.8 987.3L434.0 973.2M433.4 987.3L448.7 974.5M446.9 987.3L427.2 983.9M460.5 987.3L440.7 984.1M474.0 987.3L454.2 984.3M487.5 987.3L467.7 984.5M501.1 987.3L481.3 984.7M514.6 987.3L494.8 984.9M528.2 987.3L508.3 985.2M541.7 987.3L521.8 985.4M555.2 987.3L535.3 985.6M568.8 987.3L548.8 987.6M582.3 987.3L562.5 989.5M595.9 987.3L576.3 991.5M609.4 987.3L589.5 988.6M623.0 987.3L603.0 985.6M636.5 987.3L653.8 977.3M650.0 987.3L656.9 968.5M663.6 987.3L670.4 968.5M677.1 987.3L684.0 968.5M690.7 987.3L697.5 968.5M704.2 987.3L711.7 968.8M710.5 971.8l5.5 0.5M717.8 987.3L725.2 968.8M724.0 971.8l5.5 0.5M731.3 987.3L738.8 968.8M737.6 971.8l5.5 0.5M744.8 987.3L752.3 968.8M751.1 971.8l5.5 0.5M758.4 987.3L765.9 968.8M764.7 971.8l5.5 0.5M771.9 987.3L779.4 968.8M778.2 971.8l5.5 0.5M785.5 987.3L793.0 968.8M791.8 971.8l5.5 0.5M799.0 987.3L806.5 968.8M805.3 971.8l5.5 0.5M149.0 1074.7L167.1 1083.1M162.5 1074.7L175.4 1059.3M173.3 1061.8l5.1 2.1M176.1 1074.7L188.9 1059.3M186.9 1061.8l5.1 2.1M189.6 1074.7L208.9 1069.5M205.9 1070.3l2.9 4.7M203.2 1074.7L222.6 1070.0M219.5 1070.7l2.8 4.7M216.7 1074.7L236.3 1070.5M233.1 1071.2l2.7 4.8M230.2 1074.7L248.4 1083.1M245.5 1081.8l-0.8 5.4M243.8 1074.7L262.0 1083.0M259.1 1081.7l-0.7 5.5M257.3 1074.7L275.6 1082.9M272.6 1081.6l-0.7 5.5M270.9 1074.7L289.1 1082.8M286.2 1081.5l-0.7 5.5M284.4 1074.7L302.7 1082.7M299.8 1081.4l-0.6 5.5M298.0 1074.7L316.3 1082.6M313.4 1081.3l-0.6 5.5M311.5 1074.7L329.9 1082.5M327.0 1081.2l-0.6 5.5M325.0 1074.7L343.5 1082.4M340.5 1081.1l-0.5 5.5M338.6 1074.7L357.1 1082.3M354.1 1081.1l-0.5 5.5M352.1 1074.7L370.7 1082.2M367.7 1081.0l-0.5 5.5M365.7 1074.7L385.4 1071.2M382.2 1071.7l2.5 4.9M379.2 1074.7L398.9 1071.2M395.8 1071.8l2.5 4.9M392.8 1074.7L412.5 1071.2M409.3 1071.8l2.5 4.9M406.3 1074.7L426.0 1071.3M422.8 1071.8l2.5 4.9M419.8 1074.7L439.5 1071.3M436.4 1071.8l2.5 4.9M433.4 1074.7L453.1 1071.3M449.9 1071.8l2.5 4.9M446.9 1074.7L466.6 1071.3M463.5 1071.9l2.5 4.9M460.5 1074.7L480.2 1071.3M477.0 1071.9l2.5 4.9M474.0 1074.7L493.7 1071.4M490.6 1071.9l2.5 4.9M487.5 1074.7L507.3 1071.4M504.1 1071.9l2.4 4.9M501.1 1074.7L520.8 1071.4M517.7 1071.9l2.4 4.9M514.6 1074.7L534.4 1071.4M531.2 1071.9l2.4 4.9M528.2 1074.7L547.9 1071.5M544.7 1072.0l2.4 4.9M541.7 1074.7L561.5 1071.5M558.3 1072.0l2.4 4.9M555.2 1074.7L575.0 1071.5M571.8 1072.0l2.4 4.9M568.8 1074.7L588.5 1071.5M585.4 1072.0l2.4 4.9M582.3 1074.7L602.1 1071.5M598.9 1072.0l2.4 4.9M595.9 1074.7L615.6 1071.6M612.5 1072.1l2.4 4.9M609.4 1074.7L629.2 1071.6M626.0 1072.1l2.4 4.9M623.0 1074.7L642.7 1071.6M639.6 1072.1l2.4 5.0M636.5 1074.7L656.3 1071.6M653.1 1072.1l2.4 5.0M650.0 1074.7L669.8 1071.6M666.6 1072.1l2.4 5.0M663.6 1074.7L683.4 1071.7M680.2 1072.1l2.4 5.0M677.1 1074.7L696.9 1071.7M693.7 1072.2l2.4 5.0M690.7 1074.7L710.4 1071.7M707.3 1072.2l2.4 5.0M704.2 1074.7L724.0 1071.7M720.8 1072.2l2.4 5.0M717.8 1074.7L737.5 1071.8M734.4 1072.2l2.4 5.0M731.3 1074.7L751.1 1071.8M747.9 1072.2l2.4 5.0M744.8 1074.7L764.6 1071.8M761.5 1072.3l2.3 5.0M758.4 1074.7L778.2 1071.8M775.0 1072.3l2.3 5.0M771.9 1074.7L791.7 1071.8M788.5 1072.3l2.3 5.0M785.5 1074.7L805.3 1071.9M802.1 1072.3l2.3 5.0M799.0 1074.7L818.8 1071.9M815.6 1072.3l2.3 5.0M149.0 1103.8L130.2 1110.6M133.2 1109.5l-3.3 -4.4M162.5 1103.8L143.7 1110.6M146.8 1109.5l-3.3 -4.4M176.1 1103.8L190.2 1089.6M188.0 1091.9l4.9 2.6M189.6 1103.8L203.8 1089.6M201.5 1091.9l4.9 2.6M203.2 1103.8L217.3 1089.6M215.0 1091.9l4.9 2.6M216.7 1103.8L230.9 1089.6M228.6 1091.9l4.9 2.6M230.2 1103.8L244.4 1089.6M242.1 1091.9l4.9 2.6M243.8 1103.8L263.1 1098.6M260.0 1099.4l2.9 4.7M257.3 1103.8L276.7 1098.6M273.6 1099.4l2.9 4.7M270.9 1103.8L290.2 1098.6M287.1 1099.4l2.9 4.7M284.4 1103.8L303.7 1098.6M300.6 1099.4l2.9 4.7M298.0 1103.8L317.3 1098.6M314.2 1099.4l2.9 4.7M311.5 1103.8L327.3 1091.5M324.7 1093.4l4.5 3.2M325.0 1103.8L340.9 1091.6M338.4 1093.6l4.5 3.2M338.6 1103.8L354.6 1091.8M352.0 1093.7l4.4 3.2M352.1 1103.8L368.3 1092.0M365.7 1093.9l4.4 3.3M365.7 1103.8L381.9 1092.1M379.3 1094.0l4.4 3.3M379.2 1103.8L395.6 1092.3M393.0 1094.1l4.3 3.4M392.8 1103.8L410.9 1095.3M408.0 1096.7l3.7 4.1M406.3 1103.8L424.4 1095.3M421.5 1096.7l3.7 4.1M419.8 1103.8L438.0 1095.3M435.1 1096.7l3.7 4.1M433.4 1103.8L451.5 1095.3M448.6 1096.7l3.7 4.1M446.9 1103.8L465.0 1095.3M462.1 1096.7l3.7 4.1M460.5 1103.8L478.6 1095.3M475.7 1096.7l3.7 4.1M474.0 1103.8L492.1 1095.3M489.2 1096.7l3.7 4.1M487.5 1103.8L503.9 1092.3M501.3 1094.1l4.3 3.4M501.1 1103.8L517.5 1092.3M514.8 1094.1l4.3 3.4M514.6 1103.8L531.0 1092.3M528.4 1094.1l4.3 3.4M528.2 1103.8L544.5 1092.3M541.9 1094.1l4.3 3.4M541.7 1103.8L558.1 1092.3M555.5 1094.1l4.3 3.4M555.2 1103.8L571.6 1092.3M569.0 1094.1l4.3 3.4M568.8 1103.8L587.8 1097.6M584.8 1098.6l3.2 4.5M582.3 1103.8L601.4 1097.6M598.3 1098.6l3.2 4.5M595.9 1103.8L614.9 1097.6M611.9 1098.6l3.2 4.5M609.4 1103.8L628.4 1097.6M625.4 1098.6l3.2 4.5M623.0 1103.8L642.0 1097.6M638.9 1098.6l3.2 4.5M636.5 1103.8L655.5 1097.6M652.5 1098.6l3.2 4.5M650.0 1103.8L669.7 1100.3M666.6 1100.9l2.5 4.9M663.6 1103.8L683.3 1100.3M680.1 1100.9l2.5 4.9M677.1 1103.8L696.8 1100.3M693.7 1100.9l2.5 4.9M690.7 1103.8L710.4 1100.3M707.2 1100.9l2.5 4.9M704.2 1103.8L723.9 1100.3M720.8 1100.9l2.5 4.9M717.8 1103.8L737.4 1100.3M734.3 1100.9l2.5 4.9M731.3 1103.8L751.0 1100.3M747.8 1100.9l2.5 4.9M744.8 1103.8L764.5 1100.3M761.4 1100.9l2.5 4.9M758.4 1103.8L778.1 1100.3M774.9 1100.9l2.5 4.9M771.9 1103.8L791.6 1100.3M788.5 1100.9l2.5 4.9M785.5 1103.8L805.2 1100.3M802.0 1100.9l2.5 4.9M799.0 1103.8L818.7 1100.3M815.5 1100.9l2.5 4.9M149.0 1132.9L130.2 1139.7M133.2 1138.6l-3.3 -4.4M162.5 1132.9L179.9 1122.9M177.1 1124.5l4.0 3.8M176.1 1132.9L190.2 1118.7M188.0 1121.0l4.9 2.6M189.6 1132.9L203.8 1118.7M201.5 1121.0l4.9 2.6M203.2 1132.9L217.3 1118.7M215.0 1121.0l4.9 2.6M216.7 1132.9L230.9 1118.7M228.6 1121.0l4.9 2.6M230.2 1132.9L248.4 1124.4M245.5 1125.8l3.7 4.1M243.8 1132.9L261.9 1124.4M259.0 1125.8l3.7 4.1M257.3 1132.9L275.5 1124.4M272.6 1125.8l3.7 4.1M270.9 1132.9L289.0 1124.4M286.1 1125.8l3.7 4.1M284.4 1132.9L302.5 1124.4M299.6 1125.8l3.7 4.1M298.0 1132.9L316.1 1124.4M313.2 1125.8l3.7 4.1M311.5 1132.9L326.4 1119.5M324.0 1121.6l4.7 2.8M325.0 1132.9L339.9 1119.5M337.5 1121.6l4.7 2.8M338.6 1132.9L353.4 1119.5M351.1 1121.6l4.7 2.8M352.1 1132.9L367.0 1119.5M364.6 1121.6l4.7 2.8M365.7 1132.9L380.5 1119.5M378.2 1121.6l4.7 2.8M379.2 1132.9L394.1 1119.5M391.7 1121.6l4.7 2.8M392.8 1132.9L407.6 1119.5M405.2 1121.6l4.7 2.8M406.3 1132.9L421.2 1119.5M418.8 1121.6l4.7 2.8M419.8 1132.9L434.7 1119.5M432.3 1121.6l4.7 2.8M433.4 1132.9L448.2 1119.5M445.9 1121.6l4.7 2.8M446.9 1132.9L461.8 1119.5M459.4 1121.6l4.7 2.8M460.5 1132.9L475.3 1119.5M472.9 1121.6l4.7 2.8M474.0 1132.9L488.9 1119.5M486.5 1121.6l4.7 2.8M487.5 1132.9L502.4 1119.5M500.0 1121.6l4.7 2.8M501.1 1132.9L515.9 1119.5M513.6 1121.6l4.7 2.8M514.6 1132.9L529.5 1119.5M527.1 1121.6l4.7 2.8M528.2 1132.9L543.0 1119.5M540.7 1121.6l4.7 2.8M541.7 1132.9L556.6 1119.5M554.2 1121.6l4.7 2.8M555.2 1132.9L570.1 1119.5M567.7 1121.6l4.7 2.8M568.8 1132.9L583.7 1119.5M581.3 1121.6l4.7 2.8M582.3 1132.9L597.2 1119.5M594.8 1121.6l4.7 2.8M595.9 1132.9L610.7 1119.5M608.4 1121.6l4.7 2.8M609.4 1132.9L624.3 1119.5M621.9 1121.6l4.7 2.8M623.0 1132.9L637.8 1119.5M635.4 1121.6l4.7 2.8M636.5 1132.9L655.3 1126.0M652.3 1127.1l3.3 4.4M650.0 1132.9L668.8 1126.0M665.8 1127.1l3.3 4.4M663.6 1132.9L682.4 1126.0M679.4 1127.1l3.3 4.4M677.1 1132.9L695.9 1126.0M692.9 1127.1l3.3 4.4M690.7 1132.9L709.5 1126.0M706.5 1127.1l3.3 4.4M704.2 1132.9L723.0 1126.0M720.0 1127.1l3.3 4.4M717.8 1132.9L737.7 1131.1M734.5 1131.4l2.1 5.1M731.3 1132.9L751.2 1131.1M748.0 1131.4l2.1 5.1M744.8 1132.9L764.8 1131.1M761.6 1131.4l2.1 5.1M758.4 1132.9L778.3 1131.1M775.1 1131.4l2.1 5.1M771.9 1132.9L791.8 1131.1M788.7 1131.4l2.1 5.1M785.5 1132.9L805.4 1131.1M802.2 1131.4l2.1 5.1M799.0 1132.9L818.9 1131.1M815.7 1131.4l2.1 5.1M149.0 1162.0L164.3 1149.1M161.9 1151.2l4.6 3.0M162.5 1162.0L177.9 1149.1M175.4 1151.2l4.6 3.0M176.1 1162.0L191.4 1149.1M189.0 1151.2l4.6 3.0M189.6 1162.0L204.9 1149.1M202.5 1151.2l4.6 3.0M203.2 1162.0L218.5 1149.1M216.0 1151.2l4.6 3.0M216.7 1162.0L232.0 1149.1M229.6 1151.2l4.6 3.0M230.2 1162.0L245.6 1149.1M243.1 1151.2l4.6 3.0M243.8 1162.0L259.1 1149.1M256.7 1151.2l4.6 3.0M257.3 1162.0L272.7 1149.1M270.2 1151.2l4.6 3.0M270.9 1162.0L286.2 1149.1M283.7 1151.2l4.6 3.0M284.4 1162.0L299.7 1149.1M297.3 1151.2l4.6 3.0M298.0 1162.0L313.3 1149.1M310.8 1151.2l4.6 3.0M311.5 1162.0L326.8 1149.1M324.4 1151.2l4.6 3.0M325.0 1162.0L340.4 1149.1M337.9 1151.2l4.6 3.0M338.6 1162.0L353.9 1149.1M351.5 1151.2l4.6 3.0M352.1 1162.0L367.4 1149.1M365.0 1151.2l4.6 3.0M365.7 1162.0L381.0 1149.1M378.5 1151.2l4.6 3.0M379.2 1162.0L394.5 1149.1M392.1 1151.2l4.6 3.0M392.8 1162.0L408.1 1149.1M405.6 1151.2l4.6 3.0M406.3 1162.0L421.6 1149.1M419.2 1151.2l4.6 3.0M419.8 1162.0L435.2 1149.1M432.7 1151.2l4.6 3.0M433.4 1162.0L448.7 1149.1M446.2 1151.2l4.6 3.0M446.9 1162.0L462.2 1149.1M459.8 1151.2l4.6 3.0M460.5 1162.0L475.8 1149.1M473.3 1151.2l4.6 3.0M474.0 1162.0L489.3 1149.1M486.9 1151.2l4.6 3.0M487.5 1162.0L502.9 1149.1M500.4 1151.2l4.6 3.0M501.1 1162.0L516.4 1149.1M514.0 1151.2l4.6 3.0M514.6 1162.0L529.9 1149.1M527.5 1151.2l4.6 3.0M528.2 1162.0L543.5 1149.1M541.0 1151.2l4.6 3.0M541.7 1162.0L557.0 1149.1M554.6 1151.2l4.6 3.0M555.2 1162.0L570.6 1149.1M568.1 1151.2l4.6 3.0M568.8 1162.0L584.1 1149.1M581.7 1151.2l4.6 3.0M582.3 1162.0L597.7 1149.1M595.2 1151.2l4.6 3.0M595.9 1162.0L611.2 1149.1M608.7 1151.2l4.6 3.0M609.4 1162.0L624.7 1149.1M622.3 1151.2l4.6 3.0M623.0 1162.0L629.8 1143.2M628.7 1146.2l5.5 0.3M636.5 1162.0L643.3 1143.2M642.2 1146.2l5.5 0.3M650.0 1162.0L656.9 1143.2M655.8 1146.2l5.5 0.3M663.6 1162.0L670.4 1143.2M669.3 1146.2l5.5 0.3M677.1 1162.0L692.4 1149.1M690.0 1151.2l4.6 3.0M690.7 1162.0L709.7 1155.8M706.6 1156.8l3.2 4.5M704.2 1162.0L723.3 1155.9M720.2 1156.9l3.1 4.5M717.8 1162.0L736.9 1156.1M733.8 1157.0l3.1 4.5M731.3 1162.0L750.4 1156.2M747.4 1157.1l3.1 4.6M744.8 1162.0L764.0 1156.3M760.9 1157.2l3.0 4.6M758.4 1162.0L777.6 1156.4M774.5 1157.3l3.0 4.6M771.9 1162.0L791.2 1156.6M788.1 1157.4l3.0 4.6M785.5 1162.0L804.7 1156.7M801.7 1157.5l2.9 4.6M799.0 1162.0L818.3 1156.8M815.2 1157.7l2.9 4.7" stroke="#000" stroke-width="1.3" fill="none" stroke-linecap="round"/></g><g clip-path="url(#c_v)"><path d="M912.0 638.0L892.0 638.0M925.5 638.0L905.5 638.0M939.1 638.0L919.1 638.0M952.6 638.0L932.6 638.0M966.2 638.0L946.2 638.0M979.7 638.0L959.7 638.0M993.2 638.0L973.2 638.0M1006.8 638.0L986.8 638.0M1020.3 638.0L1000.3 638.0M1033.9 638.0L1013.9 638.0M1047.4 638.0L1027.4 638.0M1061.0 638.0L1041.0 638.0M1074.5 638.0L1054.5 638.0M1088.0 638.0L1068.0 638.0M1101.6 638.0L1081.6 638.0M1115.1 638.0L1095.1 638.0M1128.7 638.0L1108.7 638.0M1142.2 638.0L1122.2 638.0M1155.8 638.0L1135.8 638.0M1169.3 638.0L1149.3 638.0M1182.8 638.0L1162.8 638.0M1196.4 638.0L1195.3 658.0M1209.9 638.0L1208.9 658.0M1223.5 638.0L1222.4 658.0M1237.0 638.0L1236.0 658.0M1250.5 638.0L1249.8 658.0M1250.0 654.8l-5.3 1.4M1264.1 638.0L1263.3 658.0M1263.4 654.8l-5.3 1.4M1277.6 638.0L1276.7 658.0M1276.8 654.8l-5.3 1.4M1291.2 638.0L1290.1 658.0M1290.3 654.8l-5.3 1.3M1304.7 638.0L1303.5 658.0M1303.7 654.8l-5.3 1.3M1318.2 638.0L1317.0 658.0M1317.2 654.8l-5.4 1.3M1331.8 638.0L1330.4 658.0M1330.6 654.8l-5.4 1.2M1345.3 638.0L1343.8 657.9M1344.1 654.8l-5.4 1.2M1358.9 638.0L1357.2 657.9M1357.5 654.7l-5.4 1.2M1372.4 638.0L1370.7 657.9M1371.0 654.7l-5.4 1.1M1386.0 638.0L1382.5 657.7M1383.0 654.5l-5.5 0.7M1399.5 638.0L1395.9 657.7M1396.5 654.5l-5.5 0.6M1413.0 638.0L1409.3 657.6M1409.9 654.5l-5.5 0.6M1426.6 638.0L1422.7 657.6M1423.3 654.5l-5.5 0.6M1440.1 638.0L1436.1 657.6M1436.7 654.5l-5.5 0.5M1453.7 638.0L1449.5 657.6M1450.2 654.4l-5.5 0.5M1467.2 638.0L1460.4 656.8M1461.5 653.8l-5.5 -0.3M1480.8 638.0L1473.2 656.5M1474.4 653.6l-5.5 -0.5M1494.3 638.0L1486.1 656.2M1487.4 653.3l-5.5 -0.7M1507.8 638.0L1498.9 655.9M1500.4 653.0l-5.4 -0.9M1521.4 638.0L1511.8 655.6M1513.3 652.8l-5.4 -1.1M1534.9 638.0L1524.7 655.2M1526.3 652.4l-5.3 -1.3M1548.5 638.0L1537.6 654.8M1539.3 652.1l-5.3 -1.5M1562.0 638.0L1550.5 654.4M1552.4 651.8l-5.2 -1.7M912.0 696.2L893.2 703.1M893.2 703.1l-6.6 -8.8M896.2 702.0l-6.6 -8.8M899.2 700.9l-6.6 -8.8M925.5 696.2L906.7 703.0M906.7 703.0l-6.6 -8.8M909.7 701.9l-6.6 -8.8M912.8 700.8l-6.6 -8.8M939.1 696.2L920.3 703.0M920.3 703.0l-6.6 -8.8M923.3 701.9l-6.6 -8.8M926.3 700.8l-6.6 -8.8M952.6 696.2L933.8 702.9M933.8 702.9l-6.6 -8.8M936.8 701.9l-6.6 -8.8M939.8 700.8l-6.6 -8.8M966.2 696.2L947.3 702.9M947.3 702.9l-6.5 -8.8M950.3 701.8l-6.5 -8.8M953.3 700.8l-6.5 -8.8M979.7 696.2L960.8 702.9M960.8 702.9l-6.5 -8.9M963.9 701.8l-6.5 -8.9M966.9 700.7l-6.5 -8.9M993.2 696.2L974.4 702.8M974.4 702.8l-6.5 -8.9M977.4 701.8l-6.5 -8.9M980.4 700.7l-6.5 -8.9M1006.8 696.2L987.9 702.8M987.9 702.8l-6.5 -8.9M990.9 701.7l-6.5 -8.9M993.9 700.7l-6.5 -8.9M1020.3 696.2L1001.4 702.7M1001.4 702.7l-6.5 -8.9M1004.4 701.7l-6.5 -8.9M1007.5 700.6l-6.5 -8.9M1033.9 696.2L1015.0 702.7M1015.0 702.7l-6.4 -8.9M1018.0 701.7l-6.4 -8.9M1021.0 700.6l-6.4 -8.9M1047.4 696.2L1028.5 702.7M1028.5 702.7l-6.4 -8.9M1031.5 701.6l-6.4 -8.9M1034.5 700.6l-6.4 -8.9M1061.0 696.2L1042.0 702.6M1042.0 702.6l-6.4 -8.9M1045.0 701.6l-6.4 -8.9M1048.1 700.6l-6.4 -8.9M1074.5 696.2L1055.5 702.6M1055.5 702.6l-6.4 -9.0M1058.6 701.6l-6.4 -9.0M1061.6 700.5l-6.4 -9.0M1088.0 696.2L1069.1 702.5M1069.1 702.5l-6.4 -9.0M1072.1 701.5l-6.4 -9.0M1075.1 700.5l-6.4 -9.0M1101.6 696.2L1082.6 702.5M1082.6 702.5l-6.3 -9.0M1085.6 701.5l-6.3 -9.0M1088.7 700.5l-6.3 -9.0M1115.1 696.2L1096.1 702.4M1096.1 702.4l-6.3 -9.0M1099.2 701.4l-6.3 -9.0M1102.2 700.5l-6.3 -9.0M1128.7 696.2L1109.6 702.4M1109.6 702.4l-6.3 -9.0M1112.7 701.4l-6.3 -9.0M1115.7 700.4l-6.3 -9.0M1142.2 696.2L1122.9 701.3M1122.9 701.3l-5.8 -9.4M1126.0 700.5l-5.8 -9.4M1129.1 699.7l-5.8 -9.4M1155.8 696.2L1136.2 700.2M1136.2 700.2l-5.2 -9.7M1139.3 699.6l-5.2 -9.7M1142.4 698.9l-5.2 -9.7M1169.3 696.2L1149.5 699.1M1149.5 699.1l-4.7 -9.9M1152.7 698.6l-4.7 -9.9M1155.8 698.2l-4.7 -9.9M1182.8 696.2L1162.9 698.0M1162.9 698.0l-4.1 -10.2M1166.1 697.7l-4.1 -10.2M1169.3 697.4l-4.1 -10.2M1196.4 696.2L1176.4 697.9M1176.4 697.9l-4.1 -10.2M1179.6 697.7l-4.1 -10.2M1182.8 697.4l-4.1 -10.2M1209.9 696.2L1190.0 697.9M1190.0 697.9l-4.1 -10.2M1193.2 697.6l-4.1 -10.2M1196.4 697.4l-4.1 -10.2M1223.5 696.2L1203.5 697.9M1203.5 697.9l-4.1 -10.2M1206.7 697.6l-4.1 -10.2M1209.9 697.3l-4.1 -10.2M1237.0 696.2L1217.1 697.8M1217.1 697.8l-4.0 -10.2M1220.3 697.6l-4.0 -10.2M1223.4 697.3l-4.0 -10.2M1250.5 696.2L1230.6 697.8M1230.6 697.8l-4.0 -10.2M1233.8 697.5l-4.0 -10.2M1237.0 697.3l-4.0 -10.2M1264.1 696.2L1244.1 697.7M1244.1 697.7l-4.0 -10.2M1247.3 697.5l-4.0 -10.2M1250.5 697.3l-4.0 -10.2M1277.6 696.2L1257.7 697.7M1257.7 697.7l-4.0 -10.3M1260.9 697.5l-4.0 -10.3M1264.1 697.2l-4.0 -10.3M1291.2 696.2L1271.2 697.7M1271.2 697.7l-4.0 -10.3M1274.4 697.4l-4.0 -10.3M1277.6 697.2l-4.0 -10.3M1304.7 696.2L1284.8 697.6M1284.8 697.6l-3.9 -10.3M1287.9 697.4l-3.9 -10.3M1291.1 697.2l-3.9 -10.3M1318.2 696.2L1298.3 697.6M1298.3 697.6l-3.9 -10.3M1301.5 697.4l-3.9 -10.3M1304.7 697.2l-3.9 -10.3M1331.8 696.2L1311.8 697.6M1311.8 697.6l-3.9 -10.3M1315.0 697.3l-3.9 -10.3M1318.2 697.1l-3.9 -10.3M1345.3 696.2L1325.4 697.5M1325.4 697.5l-3.9 -10.3M1328.6 697.3l-3.9 -10.3M1331.8 697.1l-3.9 -10.3M1358.9 696.2L1338.9 697.5M1338.9 697.5l-3.9 -10.3M1342.1 697.3l-3.9 -10.3M1345.3 697.1l-3.9 -10.3M1372.4 696.2L1352.5 697.4M1352.5 697.4l-3.9 -10.3M1355.6 697.2l-3.9 -10.3M1358.8 697.1l-3.9 -10.3M1386.0 696.2L1366.0 697.4M1366.0 697.4l-3.8 -10.3M1369.2 697.2l-3.8 -10.3M1372.4 697.0l-3.8 -10.3M1399.5 696.2L1379.5 697.4M1379.5 697.4l-3.8 -10.3M1382.7 697.2l-3.8 -10.3M1385.9 697.0l-3.8 -10.3M1413.0 696.2L1393.1 697.3M1393.1 697.3l-3.8 -10.3M1396.3 697.2l-3.8 -10.3M1399.5 697.0l-3.8 -10.3M1426.6 696.2L1406.6 697.3M1406.6 697.3l-3.8 -10.3M1409.8 697.1l-3.8 -10.3M1413.0 697.0l-3.8 -10.3M1440.1 696.2L1420.2 697.3M1420.2 697.3l-3.8 -10.3M1423.3 697.1l-3.8 -10.3M1426.5 696.9l-3.8 -10.3M1453.7 696.2L1433.7 697.2M1433.7 697.2l-3.7 -10.3M1436.9 697.1l-3.7 -10.3M1440.1 696.9l-3.7 -10.3M1467.2 696.2L1447.2 697.2M1447.2 697.2l-3.7 -10.4M1450.4 697.0l-3.7 -10.4M1453.6 696.9l-3.7 -10.4M1480.8 696.2L1460.8 697.1M1460.8 697.1l-3.7 -10.4M1464.0 697.0l-3.7 -10.4M1467.2 696.8l-3.7 -10.4M1494.3 696.2L1474.3 697.1M1474.3 697.1l-3.7 -10.4M1477.5 697.0l-3.7 -10.4M1480.7 696.8l-3.7 -10.4M1507.8 696.2L1487.9 697.1M1487.9 697.1l-3.7 -10.4M1491.0 696.9l-3.7 -10.4M1494.2 696.8l-3.7 -10.4M1521.4 696.2L1501.4 697.0M1501.4 697.0l-3.6 -10.4M1504.6 696.9l-3.6 -10.4M1507.8 696.8l-3.6 -10.4M1534.9 696.2L1514.9 697.0M1514.9 697.0l-3.6 -10.4M1518.1 696.9l-3.6 -10.4M1521.3 696.7l-3.6 -10.4M1548.5 696.2L1528.5 697.0M1528.5 697.0l-3.6 -10.4M1531.7 696.8l-3.6 -10.4M1534.9 696.7l-3.6 -10.4M1562.0 696.2L1542.0 696.9M1542.0 696.9l-3.6 -10.4M1545.2 696.8l-3.6 -10.4M1548.4 696.7l-3.6 -10.4M912.0 754.4L892.0 754.4M892.0 754.4l-3.2 -10.5M895.2 754.4l-3.2 -10.5M898.4 754.4l-1.6 -5.3M925.5 754.4L905.5 754.4M905.5 754.4l-3.2 -10.5M908.7 754.4l-3.2 -10.5M911.9 754.4l-1.6 -5.3M939.1 754.4L919.1 754.4M919.1 754.4l-3.2 -10.5M922.3 754.4l-3.2 -10.5M925.5 754.4l-1.6 -5.3M952.6 754.4L932.6 754.4M932.6 754.4l-3.2 -10.5M935.8 754.4l-3.2 -10.5M939.0 754.4l-1.6 -5.3M966.2 754.4L946.2 754.4M946.2 754.4l-3.2 -10.5M949.4 754.4l-3.2 -10.5M952.6 754.4l-1.6 -5.3M979.7 754.4L959.7 754.4M959.7 754.4l-3.2 -10.5M962.9 754.4l-3.2 -10.5M966.1 754.4l-1.6 -5.3M993.2 754.4L973.3 754.4M973.3 754.4l-3.2 -10.5M976.5 754.4l-3.2 -10.5M979.7 754.4l-1.6 -5.3M1006.8 754.4L986.8 754.3M986.8 754.3l-3.2 -10.5M990.0 754.4l-3.2 -10.5M993.2 754.4l-1.6 -5.3M1020.3 754.4L1000.3 754.3M1000.3 754.3l-3.2 -10.5M1003.5 754.3l-3.2 -10.5M1006.7 754.4l-1.6 -5.3M1033.9 754.4L1013.9 754.3M1013.9 754.3l-3.1 -10.5M1017.1 754.3l-3.1 -10.5M1020.3 754.4l-1.6 -5.3M1047.4 754.4L1027.4 754.3M1027.4 754.3l-3.1 -10.5M1030.6 754.3l-3.1 -10.5M1033.8 754.3l-1.6 -5.3M1061.0 754.4L1041.0 754.3M1041.0 754.3l-3.1 -10.5M1044.2 754.3l-3.1 -10.5M1047.4 754.3l-1.6 -5.3M1074.5 754.4L1054.5 754.3M1054.5 754.3l-3.1 -10.5M1057.7 754.3l-3.1 -10.5M1060.9 754.3l-1.6 -5.3M1088.0 754.4L1068.0 754.3M1068.0 754.3l-3.1 -10.5M1071.2 754.3l-3.1 -10.5M1074.4 754.3l-1.6 -5.3M1101.6 754.4L1081.6 754.2M1081.6 754.2l-3.1 -10.6M1084.8 754.3l-3.1 -10.6M1088.0 754.3l-1.6 -5.3M1115.1 754.4L1095.1 754.2M1095.1 754.2l-3.1 -10.6M1098.3 754.3l-3.1 -10.6M1101.5 754.3l-1.6 -5.3M1128.7 754.4L1108.7 754.2M1108.7 754.2l-3.1 -10.6M1111.9 754.2l-3.1 -10.6M1115.1 754.3l-1.5 -5.3M1142.2 754.4L1122.2 754.2M1122.2 754.2l-3.1 -10.6M1125.4 754.2l-3.1 -10.6M1128.6 754.3l-1.5 -5.3M1155.8 754.4L1135.8 754.2M1135.8 754.2l-3.1 -10.6M1139.0 754.2l-3.1 -10.6M1142.2 754.3l-1.5 -5.3M1169.3 754.4L1149.3 754.2M1149.3 754.2l-3.1 -10.6M1152.5 754.2l-3.1 -10.6M1155.7 754.3l-1.5 -5.3M1182.8 754.4L1162.8 754.2M1162.8 754.2l-3.1 -10.6M1166.0 754.2l-3.1 -10.6M1169.2 754.2l-1.5 -5.3M1196.4 754.4L1176.4 754.1M1176.4 754.1l-3.1 -10.6M1179.6 754.2l-3.1 -10.6M1182.8 754.2l-1.5 -5.3M1209.9 754.4L1189.9 754.1M1189.9 754.1l-3.0 -10.6M1193.1 754.2l-3.0 -10.6M1196.3 754.2l-1.5 -5.3M1223.5 754.4L1203.5 754.1M1203.5 754.1l-3.0 -10.6M1206.7 754.2l-3.0 -10.6M1209.9 754.2l-1.5 -5.3M1237.0 754.4L1217.0 754.1M1217.0 754.1l-3.0 -10.6M1220.2 754.2l-3.0 -10.6M1223.4 754.2l-1.5 -5.3M1250.5 754.4L1230.5 754.1M1230.5 754.1l-3.0 -10.6M1233.7 754.1l-3.0 -10.6M1236.9 754.2l-1.5 -5.3M1264.1 754.4L1244.1 754.1M1244.1 754.1l-3.0 -10.6M1247.3 754.1l-3.0 -10.6M1250.5 754.2l-1.5 -5.3M1277.6 754.4L1257.6 754.1M1257.6 754.1l-3.0 -10.6M1260.8 754.1l-3.0 -10.6M1264.0 754.2l-1.5 -5.3M1291.2 754.4L1271.2 754.0M1271.2 754.0l-3.0 -10.6M1274.4 754.1l-3.0 -10.6M1277.6 754.2l-1.5 -5.3M1304.7 754.4L1284.7 754.0M1284.7 754.0l-3.0 -10.6M1287.9 754.1l-3.0 -10.6M1291.1 754.2l-1.5 -5.3M1318.2 754.4L1298.3 754.0M1298.3 754.0l-3.0 -10.6M1301.5 754.1l-3.0 -10.6M1304.7 754.1l-1.5 -5.3M1331.8 754.4L1311.8 754.0M1311.8 754.0l-3.0 -10.6M1315.0 754.1l-3.0 -10.6M1318.2 754.1l-1.5 -5.3M1345.3 754.4L1325.3 754.0M1325.3 754.0l-3.0 -10.6M1328.5 754.1l-3.0 -10.6M1331.7 754.1l-1.5 -5.3M1358.9 754.4L1338.9 754.0M1338.9 754.0l-3.0 -10.6M1342.1 754.0l-3.0 -10.6M1345.3 754.1l-1.5 -5.3M1372.4 754.4L1352.4 753.9M1352.4 753.9l-3.0 -10.6M1355.6 754.0l-3.0 -10.6M1358.8 754.1l-1.5 -5.3M1386.0 754.4L1366.0 753.9M1366.0 753.9l-2.9 -10.6M1369.2 754.0l-2.9 -10.6M1372.4 754.1l-1.5 -5.3M1399.5 754.4L1379.5 753.9M1379.5 753.9l-2.9 -10.6M1382.7 754.0l-2.9 -10.6M1385.9 754.1l-1.5 -5.3M1413.0 754.4L1393.0 753.9M1393.0 753.9l-2.9 -10.6M1396.2 754.0l-2.9 -10.6M1399.4 754.1l-1.5 -5.3M1426.6 754.4L1406.6 753.9M1406.6 753.9l-2.9 -10.6M1409.8 754.0l-2.9 -10.6M1413.0 754.1l-1.5 -5.3M1440.1 754.4L1420.1 753.9M1420.1 753.9l-2.9 -10.6M1423.3 754.0l-2.9 -10.6M1426.5 754.1l-1.5 -5.3M1453.7 754.4L1433.7 753.9M1433.7 753.9l-2.9 -10.6M1436.9 754.0l-2.9 -10.6M1440.1 754.0l-1.5 -5.3M1467.2 754.4L1447.2 753.8M1447.2 753.8l-2.9 -10.6M1450.4 753.9l-2.9 -10.6M1453.6 754.0l-1.5 -5.3M1480.8 754.4L1460.8 753.8M1460.8 753.8l-2.9 -10.6M1464.0 753.9l-2.9 -10.6M1467.2 754.0l-1.4 -5.3M1494.3 754.4L1474.3 753.8M1474.3 753.8l-2.9 -10.6M1477.5 753.9l-2.9 -10.6M1480.7 754.0l-1.4 -5.3M1507.8 754.4L1487.8 753.8M1487.8 753.8l-2.9 -10.6M1491.0 753.9l-2.9 -10.6M1494.2 754.0l-1.4 -5.3M1521.4 754.4L1501.4 753.8M1501.4 753.8l-2.9 -10.6M1504.6 753.9l-2.9 -10.6M1507.8 754.0l-1.4 -5.3M1534.9 754.4L1514.9 753.8M1514.9 753.8l-2.9 -10.6M1518.1 753.9l-2.9 -10.6M1521.3 754.0l-1.4 -5.3M1548.5 754.4L1528.5 753.8M1528.5 753.8l-2.9 -10.6M1531.7 753.9l-2.9 -10.6M1534.9 754.0l-1.4 -5.3M1562.0 754.4L1542.0 753.7M1542.0 753.7l-2.8 -10.6M1545.2 753.9l-2.8 -10.6M1548.4 754.0l-1.4 -5.3M912.0 812.7L892.1 810.2M892.1 810.2l-1.9 -10.8M925.5 812.7L905.7 810.2M905.7 810.2l-1.9 -10.8M939.1 812.7L919.2 810.2M919.2 810.2l-1.9 -10.8M952.6 812.7L932.8 810.2M932.8 810.2l-1.9 -10.8M966.2 812.7L946.3 810.2M946.3 810.2l-1.9 -10.8M979.7 812.7L959.9 810.2M959.9 810.2l-1.9 -10.8M993.2 812.7L973.4 810.2M973.4 810.2l-1.9 -10.8M1006.8 812.7L986.9 810.2M986.9 810.2l-1.9 -10.8M1020.3 812.7L1000.5 810.2M1000.5 810.2l-1.9 -10.8M1033.9 812.7L1014.0 810.2M1014.0 810.2l-1.9 -10.8M1047.4 812.7L1027.6 810.2M1027.6 810.2l-1.9 -10.8M1061.0 812.7L1041.1 810.2M1041.1 810.2l-1.9 -10.8M1074.5 812.7L1054.6 810.2M1054.6 810.2l-1.9 -10.8M1088.0 812.7L1068.2 810.2M1068.2 810.2l-1.9 -10.8M1101.6 812.7L1081.7 810.2M1081.7 810.2l-1.9 -10.8M1115.1 812.7L1095.3 810.2M1095.3 810.2l-1.9 -10.8M1128.7 812.7L1108.8 810.2M1108.8 810.2l-1.9 -10.8M1142.2 812.7L1122.4 810.2M1122.4 810.2l-1.9 -10.8M1155.8 812.7L1135.9 810.2M1135.9 810.2l-1.9 -10.8M1169.3 812.7L1149.4 810.2M1149.4 810.2l-1.9 -10.8M1182.8 812.7L1163.0 810.2M1163.0 810.2l-1.9 -10.8M1196.4 812.7L1176.5 810.2M1176.5 810.2l-1.9 -10.8M1209.9 812.7L1190.1 810.2M1190.1 810.2l-1.9 -10.8M1223.5 812.7L1203.6 810.2M1203.6 810.2l-1.9 -10.8M1237.0 812.7L1217.1 810.2M1217.1 810.2l-1.9 -10.8M1250.5 812.7L1230.7 810.2M1230.7 810.2l-1.9 -10.8M1264.1 812.7L1244.2 810.2M1244.2 810.2l-1.9 -10.8M1277.6 812.7L1257.8 810.2M1257.8 810.2l-1.9 -10.8M1291.2 812.7L1271.3 810.2M1271.3 810.2l-1.9 -10.8M1304.7 812.7L1284.9 810.2M1284.9 810.2l-1.9 -10.8M1318.2 812.7L1298.4 810.2M1298.4 810.2l-1.9 -10.8M1331.8 812.7L1311.9 810.2M1311.9 810.2l-1.9 -10.8M1345.3 812.7L1325.5 810.2M1325.5 810.2l-1.9 -10.8M1358.9 812.7L1339.0 810.2M1339.0 810.2l-1.9 -10.8M1372.4 812.7L1352.6 810.2M1352.6 810.2l-1.9 -10.8M1386.0 812.7L1366.1 810.2M1366.1 810.2l-1.9 -10.8M1399.5 812.7L1379.6 810.2M1379.6 810.2l-1.9 -10.8M1413.0 812.7L1393.2 810.2M1393.2 810.2l-1.9 -10.8M1426.6 812.7L1406.7 810.9M1406.7 810.9l-2.3 -10.8M1409.8 811.2l-1.1 -5.4M1440.1 812.7L1420.2 810.9M1420.2 810.9l-2.3 -10.8M1423.4 811.2l-1.1 -5.4M1453.7 812.7L1433.7 810.9M1433.7 810.9l-2.3 -10.8M1436.9 811.2l-1.1 -5.4M1467.2 812.7L1447.3 810.9M1447.3 810.9l-2.3 -10.8M1450.5 811.2l-1.1 -5.4M1480.8 812.7L1460.8 810.9M1460.8 810.9l-2.3 -10.8M1464.0 811.2l-1.1 -5.4M1494.3 812.7L1474.4 810.9M1474.4 810.9l-2.3 -10.8M1477.6 811.2l-1.1 -5.4M1507.8 812.7L1487.9 810.9M1487.9 810.9l-2.3 -10.8M1491.1 811.2l-1.1 -5.4M1521.4 812.7L1501.5 810.9M1501.5 810.9l-2.3 -10.8M1504.6 811.2l-1.1 -5.4M1534.9 812.7L1515.0 810.9M1515.0 810.9l-2.3 -10.8M1518.2 811.2l-1.1 -5.4M1548.5 812.7L1528.5 810.9M1528.5 810.9l-2.3 -10.8M1531.7 811.2l-1.1 -5.4M1562.0 812.7L1542.1 810.9M1542.1 810.9l-2.3 -10.8M1545.3 811.2l-1.1 -5.4M912.0 870.9L892.1 872.6M895.3 872.4l-2.1 -5.1M925.5 870.9L905.6 872.6M908.8 872.4l-2.1 -5.1M939.1 870.9L919.2 872.6M922.3 872.4l-2.1 -5.1M952.6 870.9L932.7 872.6M935.9 872.4l-2.1 -5.1M966.2 870.9L946.2 872.6M949.4 872.4l-2.1 -5.1M979.7 870.9L959.8 872.6M963.0 872.4l-2.1 -5.1M993.2 870.9L973.3 872.6M976.5 872.4l-2.1 -5.1M1006.8 870.9L986.9 872.6M990.1 872.4l-2.1 -5.1M1020.3 870.9L1000.4 872.6M1003.6 872.4l-2.1 -5.1M1033.9 870.9L1014.0 872.6M1017.1 872.4l-2.1 -5.1M1047.4 870.9L1027.5 869.1M1030.7 869.4l-1.1 -5.4M1061.0 870.9L1041.0 869.1M1044.2 869.4l-1.1 -5.4M1074.5 870.9L1054.6 869.1M1057.8 869.4l-1.1 -5.4M1088.0 870.9L1068.1 869.1M1071.3 869.4l-1.1 -5.4M1101.6 870.9L1081.7 869.1M1084.8 869.4l-1.1 -5.4M1115.1 870.9L1095.2 869.1M1098.4 869.4l-1.1 -5.4M1128.7 870.9L1108.7 869.1M1111.9 869.4l-1.1 -5.4M1142.2 870.9L1123.7 878.4M1126.6 877.2l-3.5 -4.3M1155.8 870.9L1137.2 878.4M1140.2 877.2l-3.5 -4.3M1169.3 870.9L1150.7 878.4M1153.7 877.2l-3.5 -4.3M1182.8 870.9L1164.3 878.4M1167.3 877.2l-3.5 -4.3M1196.4 870.9L1177.8 878.4M1180.8 877.2l-3.5 -4.3M1209.9 870.9L1191.4 878.4M1194.3 877.2l-3.5 -4.3M1223.5 870.9L1204.9 878.4M1207.9 877.2l-3.5 -4.3M1237.0 870.9L1218.5 878.4M1221.4 877.2l-3.5 -4.3M1250.5 870.9L1232.0 878.4M1235.0 877.2l-3.5 -4.3M1264.1 870.9L1245.5 878.4M1248.5 877.2l-3.5 -4.3M1277.6 870.9L1259.1 878.4M1262.0 877.2l-3.5 -4.3M1291.2 870.9L1272.6 878.4M1275.6 877.2l-3.5 -4.3M1304.7 870.9L1286.2 878.4M1289.1 877.2l-3.5 -4.3M1318.2 870.9L1299.7 878.4M1302.7 877.2l-3.5 -4.3M1331.8 870.9L1313.2 878.4M1316.2 877.2l-3.5 -4.3M1345.3 870.9L1326.8 878.4M1329.8 877.2l-3.5 -4.3M1358.9 870.9L1340.3 878.4M1343.3 877.2l-3.5 -4.3M1372.4 870.9L1353.9 878.4M1356.8 877.2l-3.5 -4.3M1386.0 870.9L1367.4 878.4M1370.4 877.2l-3.5 -4.3M1399.5 870.9L1379.5 871.6M1382.7 871.5l-1.8 -5.2M1413.0 870.9L1393.1 871.6M1396.3 871.5l-1.8 -5.2M1426.6 870.9L1406.6 871.6M1409.8 871.5l-1.8 -5.2M1440.1 870.9L1420.1 871.6M1423.3 871.5l-1.8 -5.2M1453.7 870.9L1433.7 871.6M1436.9 871.5l-1.8 -5.2M1467.2 870.9L1447.2 871.6M1450.4 871.5l-1.8 -5.2M1480.8 870.9L1460.8 871.6M1464.0 871.5l-1.8 -5.2M1494.3 870.9L1474.3 871.6M1477.5 871.5l-1.8 -5.2M1507.8 870.9L1487.8 871.6M1491.0 871.5l-1.8 -5.2M1521.4 870.9L1501.4 871.6M1504.6 871.5l-1.8 -5.2M1534.9 870.9L1514.9 871.6M1518.1 871.5l-1.8 -5.2M1548.5 870.9L1528.5 871.6M1531.7 871.5l-1.8 -5.2M1562.0 870.9L1542.0 871.6M1545.2 871.5l-1.8 -5.2M912.0 929.1L892.0 929.1M925.5 929.1L905.6 929.8M908.8 929.7l-1.8 -5.2M939.1 929.1L919.1 929.1M952.6 929.1L932.6 928.9M966.2 929.1L946.2 928.6M979.7 929.1L959.7 928.4M993.2 929.1L974.7 921.6M1006.8 929.1L988.2 921.6M1020.3 929.1L1001.8 921.6M1033.9 929.1L1015.3 921.6M1047.4 929.1L1028.9 921.6M1061.0 929.1L1042.4 921.6M1074.5 929.1L1057.2 939.1M1060.0 937.5l-4.0 -3.8M1088.0 929.1L1072.3 941.4M1074.8 939.5l-4.5 -3.2M1101.6 929.1L1085.8 941.4M1088.3 939.5l-4.5 -3.2M1115.1 929.1L1099.4 941.4M1101.9 939.5l-4.5 -3.2M1128.7 929.1L1112.9 941.4M1115.4 939.5l-4.5 -3.2M1142.2 929.1L1126.4 941.4M1129.0 939.5l-4.5 -3.2M1155.8 929.1L1140.0 941.4M1142.5 939.5l-4.5 -3.2M1169.3 929.1L1153.5 941.4M1156.1 939.5l-4.5 -3.2M1182.8 929.1L1167.1 941.4M1169.6 939.5l-4.5 -3.2M1196.4 929.1L1180.6 941.4M1183.1 939.5l-4.5 -3.2M1209.9 929.1L1194.2 941.4M1196.7 939.5l-4.5 -3.2M1223.5 929.1L1207.7 941.4M1210.2 939.5l-4.5 -3.2M1237.0 929.1L1221.2 941.4M1223.8 939.5l-4.5 -3.2M1250.5 929.1L1234.8 941.4M1237.3 939.5l-4.5 -3.2M1264.1 929.1L1248.3 941.4M1250.8 939.5l-4.5 -3.2M1277.6 929.1L1261.9 941.4M1264.4 939.5l-4.5 -3.2M1291.2 929.1L1275.4 941.4M1277.9 939.5l-4.5 -3.2M1304.7 929.1L1288.9 941.4M1291.5 939.5l-4.5 -3.2M1318.2 929.1L1302.5 941.4M1305.0 939.5l-4.5 -3.2M1331.8 929.1L1337.0 909.8M1345.3 929.1L1341.9 909.4M1358.9 929.1L1353.7 909.8M1372.4 929.1L1368.9 909.4M1386.0 929.1L1392.8 910.3M1399.5 929.1L1399.5 909.1M1413.0 929.1L1421.5 911.0M1426.6 929.1L1439.4 913.8M1440.1 929.1L1452.3 913.2M1453.7 929.1L1465.1 912.7M1467.2 929.1L1480.1 913.8M1480.8 929.1L1494.9 915.0M1494.3 929.1L1509.0 915.6M1506.7 917.8l4.7 2.8M1507.8 929.1L1523.2 916.3M1520.7 918.3l4.6 3.0M1521.4 929.1L1538.3 918.5M1535.6 920.2l4.2 3.6M1534.9 929.1L1552.6 919.7M1549.8 921.2l3.9 3.9M1548.5 929.1L1566.0 919.4M1563.2 921.0l4.0 3.8M1562.0 929.1L1579.3 919.1M1576.5 920.7l4.0 3.8M912.0 987.3L895.6 998.8M898.2 997.0l-4.3 -3.4M925.5 987.3L908.2 997.3M911.0 995.7l-4.0 -3.8M939.1 987.3L919.2 989.1M922.3 988.8l-2.1 -5.1M952.6 987.3L932.7 988.7M935.9 988.5l-2.0 -5.1M966.2 987.3L946.2 988.4M949.4 988.2l-1.9 -5.2M979.7 987.3L959.7 988.0M962.9 987.9l-1.8 -5.2M993.2 987.3L974.5 980.5M1006.8 987.3L988.7 978.9M1020.3 987.3L1003.0 977.3M1033.9 987.3L1016.6 977.3M1047.4 987.3L1034.6 972.0M1061.0 987.3L1052.5 969.2M1074.5 987.3L1069.3 968.0M1070.2 971.1l4.7 -2.9M1088.0 987.3L1086.3 967.4M1086.6 970.6l5.1 -2.1M1101.6 987.3L1101.6 967.3M1115.1 987.3L1115.1 967.3M1128.7 987.3L1130.4 967.4M1142.2 987.3L1148.4 968.3M1155.8 987.3L1164.2 969.2M1169.3 987.3L1182.1 972.0M1182.8 987.3L1197.0 973.2M1196.4 987.3L1211.7 974.5M1209.9 987.3L1190.2 983.9M1223.5 987.3L1203.7 984.1M1237.0 987.3L1217.2 984.3M1250.5 987.3L1230.7 984.5M1264.1 987.3L1244.3 984.7M1277.6 987.3L1257.8 984.9M1291.2 987.3L1271.3 985.2M1304.7 987.3L1284.8 985.4M1318.2 987.3L1298.3 985.6M1331.8 987.3L1311.8 987.6M1345.3 987.3L1325.5 989.5M1358.9 987.3L1339.3 991.5M1372.4 987.3L1352.5 988.6M1386.0 987.3L1366.0 985.6M1399.5 987.3L1416.8 977.3M1413.0 987.3L1419.9 968.5M1426.6 987.3L1433.4 968.5M1440.1 987.3L1447.0 968.5M1453.7 987.3L1460.5 968.5M1467.2 987.3L1474.7 968.8M1473.5 971.8l5.5 0.5M1480.8 987.3L1488.2 968.8M1487.0 971.8l5.5 0.5M1494.3 987.3L1501.8 968.8M1500.6 971.8l5.5 0.5M1507.8 987.3L1515.3 968.8M1514.1 971.8l5.5 0.5M1521.4 987.3L1528.9 968.8M1527.7 971.8l5.5 0.5M1534.9 987.3L1542.4 968.8M1541.2 971.8l5.5 0.5M1548.5 987.3L1556.0 968.8M1554.8 971.8l5.5 0.5M1562.0 987.3L1569.5 968.8M1568.3 971.8l5.5 0.5M912.0 1074.7L930.1 1083.1M925.5 1074.7L938.4 1059.3M936.3 1061.8l5.1 2.1M939.1 1074.7L951.9 1059.3M949.9 1061.8l5.1 2.1M952.6 1074.7L971.9 1069.5M968.9 1070.3l2.9 4.7M966.2 1074.7L985.6 1070.0M982.5 1070.7l2.8 4.7M979.7 1074.7L999.3 1070.5M996.1 1071.2l2.7 4.8M993.2 1074.7L1011.4 1083.1M1008.5 1081.8l-0.8 5.4M1006.8 1074.7L1025.0 1083.0M1022.1 1081.7l-0.7 5.5M1020.3 1074.7L1038.6 1082.9M1035.6 1081.6l-0.7 5.5M1033.9 1074.7L1052.1 1082.8M1049.2 1081.5l-0.7 5.5M1047.4 1074.7L1065.7 1082.7M1062.8 1081.4l-0.6 5.5M1061.0 1074.7L1079.3 1082.6M1076.4 1081.3l-0.6 5.5M1074.5 1074.7L1092.9 1082.5M1090.0 1081.2l-0.6 5.5M1088.0 1074.7L1106.5 1082.4M1103.5 1081.1l-0.5 5.5M1101.6 1074.7L1120.1 1082.3M1117.1 1081.1l-0.5 5.5M1115.1 1074.7L1133.7 1082.2M1130.7 1081.0l-0.5 5.5M1128.7 1074.7L1148.4 1071.2M1145.2 1071.7l2.5 4.9M1142.2 1074.7L1161.9 1071.2M1158.8 1071.8l2.5 4.9M1155.8 1074.7L1175.5 1071.2M1172.3 1071.8l2.5 4.9M1169.3 1074.7L1189.0 1071.3M1185.8 1071.8l2.5 4.9M1182.8 1074.7L1202.5 1071.3M1199.4 1071.8l2.5 4.9M1196.4 1074.7L1216.1 1071.3M1212.9 1071.8l2.5 4.9M1209.9 1074.7L1229.6 1071.3M1226.5 1071.9l2.5 4.9M1223.5 1074.7L1243.2 1071.3M1240.0 1071.9l2.5 4.9M1237.0 1074.7L1256.7 1071.4M1253.6 1071.9l2.5 4.9M1250.5 1074.7L1270.3 1071.4M1267.1 1071.9l2.4 4.9M1264.1 1074.7L1283.8 1071.4M1280.7 1071.9l2.4 4.9M1277.6 1074.7L1297.4 1071.4M1294.2 1071.9l2.4 4.9M1291.2 1074.7L1310.9 1071.5M1307.7 1072.0l2.4 4.9M1304.7 1074.7L1324.5 1071.5M1321.3 1072.0l2.4 4.9M1318.2 1074.7L1338.0 1071.5M1334.8 1072.0l2.4 4.9M1331.8 1074.7L1351.5 1071.5M1348.4 1072.0l2.4 4.9M1345.3 1074.7L1365.1 1071.5M1361.9 1072.0l2.4 4.9M1358.9 1074.7L1378.6 1071.6M1375.5 1072.1l2.4 4.9M1372.4 1074.7L1392.2 1071.6M1389.0 1072.1l2.4 4.9M1386.0 1074.7L1405.7 1071.6M1402.6 1072.1l2.4 5.0M1399.5 1074.7L1419.3 1071.6M1416.1 1072.1l2.4 5.0M1413.0 1074.7L1432.8 1071.6M1429.6 1072.1l2.4 5.0M1426.6 1074.7L1446.4 1071.7M1443.2 1072.1l2.4 5.0M1440.1 1074.7L1459.9 1071.7M1456.7 1072.2l2.4 5.0M1453.7 1074.7L1473.4 1071.7M1470.3 1072.2l2.4 5.0M1467.2 1074.7L1487.0 1071.7M1483.8 1072.2l2.4 5.0M1480.8 1074.7L1500.5 1071.8M1497.4 1072.2l2.4 5.0M1494.3 1074.7L1514.1 1071.8M1510.9 1072.2l2.4 5.0M1507.8 1074.7L1527.6 1071.8M1524.5 1072.3l2.3 5.0M1521.4 1074.7L1541.2 1071.8M1538.0 1072.3l2.3 5.0M1534.9 1074.7L1554.7 1071.8M1551.5 1072.3l2.3 5.0M1548.5 1074.7L1568.3 1071.9M1565.1 1072.3l2.3 5.0M1562.0 1074.7L1581.8 1071.9M1578.6 1072.3l2.3 5.0M912.0 1103.8L893.2 1110.6M896.2 1109.5l-3.3 -4.4M925.5 1103.8L906.7 1110.6M909.8 1109.5l-3.3 -4.4M939.1 1103.8L953.2 1089.6M951.0 1091.9l4.9 2.6M952.6 1103.8L966.8 1089.6M964.5 1091.9l4.9 2.6M966.2 1103.8L980.3 1089.6M978.0 1091.9l4.9 2.6M979.7 1103.8L993.9 1089.6M991.6 1091.9l4.9 2.6M993.2 1103.8L1007.4 1089.6M1005.1 1091.9l4.9 2.6M1006.8 1103.8L1026.1 1098.6M1023.0 1099.4l2.9 4.7M1020.3 1103.8L1039.7 1098.6M1036.6 1099.4l2.9 4.7M1033.9 1103.8L1053.2 1098.6M1050.1 1099.4l2.9 4.7M1047.4 1103.8L1066.7 1098.6M1063.6 1099.4l2.9 4.7M1061.0 1103.8L1080.3 1098.6M1077.2 1099.4l2.9 4.7M1074.5 1103.8L1090.3 1091.5M1087.7 1093.4l4.5 3.2M1088.0 1103.8L1103.9 1091.6M1101.4 1093.6l4.5 3.2M1101.6 1103.8L1117.6 1091.8M1115.0 1093.7l4.4 3.2M1115.1 1103.8L1131.3 1092.0M1128.7 1093.9l4.4 3.3M1128.7 1103.8L1144.9 1092.1M1142.3 1094.0l4.4 3.3M1142.2 1103.8L1158.6 1092.3M1156.0 1094.1l4.3 3.4M1155.8 1103.8L1173.9 1095.3M1171.0 1096.7l3.7 4.1M1169.3 1103.8L1187.4 1095.3M1184.5 1096.7l3.7 4.1M1182.8 1103.8L1201.0 1095.3M1198.1 1096.7l3.7 4.1M1196.4 1103.8L1214.5 1095.3M1211.6 1096.7l3.7 4.1M1209.9 1103.8L1228.0 1095.3M1225.1 1096.7l3.7 4.1M1223.5 1103.8L1241.6 1095.3M1238.7 1096.7l3.7 4.1M1237.0 1103.8L1255.1 1095.3M1252.2 1096.7l3.7 4.1M1250.5 1103.8L1266.9 1092.3M1264.3 1094.1l4.3 3.4M1264.1 1103.8L1280.5 1092.3M1277.8 1094.1l4.3 3.4M1277.6 1103.8L1294.0 1092.3M1291.4 1094.1l4.3 3.4M1291.2 1103.8L1307.5 1092.3M1304.9 1094.1l4.3 3.4M1304.7 1103.8L1321.1 1092.3M1318.5 1094.1l4.3 3.4M1318.2 1103.8L1334.6 1092.3M1332.0 1094.1l4.3 3.4M1331.8 1103.8L1350.8 1097.6M1347.8 1098.6l3.2 4.5M1345.3 1103.8L1364.4 1097.6M1361.3 1098.6l3.2 4.5M1358.9 1103.8L1377.9 1097.6M1374.9 1098.6l3.2 4.5M1372.4 1103.8L1391.4 1097.6M1388.4 1098.6l3.2 4.5M1386.0 1103.8L1405.0 1097.6M1401.9 1098.6l3.2 4.5M1399.5 1103.8L1418.5 1097.6M1415.5 1098.6l3.2 4.5M1413.0 1103.8L1432.7 1100.3M1429.6 1100.9l2.5 4.9M1426.6 1103.8L1446.3 1100.3M1443.1 1100.9l2.5 4.9M1440.1 1103.8L1459.8 1100.3M1456.7 1100.9l2.5 4.9M1453.7 1103.8L1473.4 1100.3M1470.2 1100.9l2.5 4.9M1467.2 1103.8L1486.9 1100.3M1483.8 1100.9l2.5 4.9M1480.8 1103.8L1500.4 1100.3M1497.3 1100.9l2.5 4.9M1494.3 1103.8L1514.0 1100.3M1510.8 1100.9l2.5 4.9M1507.8 1103.8L1527.5 1100.3M1524.4 1100.9l2.5 4.9M1521.4 1103.8L1541.1 1100.3M1537.9 1100.9l2.5 4.9M1534.9 1103.8L1554.6 1100.3M1551.5 1100.9l2.5 4.9M1548.5 1103.8L1568.2 1100.3M1565.0 1100.9l2.5 4.9M1562.0 1103.8L1581.7 1100.3M1578.5 1100.9l2.5 4.9M912.0 1132.9L893.2 1139.7M896.2 1138.6l-3.3 -4.4M925.5 1132.9L942.9 1122.9M940.1 1124.5l4.0 3.8M939.1 1132.9L953.2 1118.7M951.0 1121.0l4.9 2.6M952.6 1132.9L966.8 1118.7M964.5 1121.0l4.9 2.6M966.2 1132.9L980.3 1118.7M978.0 1121.0l4.9 2.6M979.7 1132.9L993.9 1118.7M991.6 1121.0l4.9 2.6M993.2 1132.9L1011.4 1124.4M1008.5 1125.8l3.7 4.1M1006.8 1132.9L1024.9 1124.4M1022.0 1125.8l3.7 4.1M1020.3 1132.9L1038.5 1124.4M1035.6 1125.8l3.7 4.1M1033.9 1132.9L1052.0 1124.4M1049.1 1125.8l3.7 4.1M1047.4 1132.9L1065.5 1124.4M1062.6 1125.8l3.7 4.1M1061.0 1132.9L1079.1 1124.4M1076.2 1125.8l3.7 4.1M1074.5 1132.9L1089.4 1119.5M1087.0 1121.6l4.7 2.8M1088.0 1132.9L1102.9 1119.5M1100.5 1121.6l4.7 2.8M1101.6 1132.9L1116.4 1119.5M1114.1 1121.6l4.7 2.8M1115.1 1132.9L1130.0 1119.5M1127.6 1121.6l4.7 2.8M1128.7 1132.9L1143.5 1119.5M1141.2 1121.6l4.7 2.8M1142.2 1132.9L1157.1 1119.5M1154.7 1121.6l4.7 2.8M1155.8 1132.9L1170.6 1119.5M1168.2 1121.6l4.7 2.8M1169.3 1132.9L1184.2 1119.5M1181.8 1121.6l4.7 2.8M1182.8 1132.9L1197.7 1119.5M1195.3 1121.6l4.7 2.8M1196.4 1132.9L1211.2 1119.5M1208.9 1121.6l4.7 2.8M1209.9 1132.9L1224.8 1119.5M1222.4 1121.6l4.7 2.8M1223.5 1132.9L1238.3 1119.5M1235.9 1121.6l4.7 2.8M1237.0 1132.9L1251.9 1119.5M1249.5 1121.6l4.7 2.8M1250.5 1132.9L1265.4 1119.5M1263.0 1121.6l4.7 2.8M1264.1 1132.9L1278.9 1119.5M1276.6 1121.6l4.7 2.8M1277.6 1132.9L1292.5 1119.5M1290.1 1121.6l4.7 2.8M1291.2 1132.9L1306.0 1119.5M1303.7 1121.6l4.7 2.8M1304.7 1132.9L1319.6 1119.5M1317.2 1121.6l4.7 2.8M1318.2 1132.9L1333.1 1119.5M1330.7 1121.6l4.7 2.8M1331.8 1132.9L1346.7 1119.5M1344.3 1121.6l4.7 2.8M1345.3 1132.9L1360.2 1119.5M1357.8 1121.6l4.7 2.8M1358.9 1132.9L1373.7 1119.5M1371.4 1121.6l4.7 2.8M1372.4 1132.9L1387.3 1119.5M1384.9 1121.6l4.7 2.8M1386.0 1132.9L1400.8 1119.5M1398.4 1121.6l4.7 2.8M1399.5 1132.9L1418.3 1126.0M1415.3 1127.1l3.3 4.4M1413.0 1132.9L1431.8 1126.0M1428.8 1127.1l3.3 4.4M1426.6 1132.9L1445.4 1126.0M1442.4 1127.1l3.3 4.4M1440.1 1132.9L1458.9 1126.0M1455.9 1127.1l3.3 4.4M1453.7 1132.9L1472.5 1126.0M1469.5 1127.1l3.3 4.4M1467.2 1132.9L1486.0 1126.0M1483.0 1127.1l3.3 4.4M1480.8 1132.9L1500.7 1131.1M1497.5 1131.4l2.1 5.1M1494.3 1132.9L1514.2 1131.1M1511.0 1131.4l2.1 5.1M1507.8 1132.9L1527.8 1131.1M1524.6 1131.4l2.1 5.1M1521.4 1132.9L1541.3 1131.1M1538.1 1131.4l2.1 5.1M1534.9 1132.9L1554.8 1131.1M1551.7 1131.4l2.1 5.1M1548.5 1132.9L1568.4 1131.1M1565.2 1131.4l2.1 5.1M1562.0 1132.9L1581.9 1131.1M1578.7 1131.4l2.1 5.1M912.0 1162.0L927.3 1149.1M924.9 1151.2l4.6 3.0M925.5 1162.0L940.9 1149.1M938.4 1151.2l4.6 3.0M939.1 1162.0L954.4 1149.1M952.0 1151.2l4.6 3.0M952.6 1162.0L967.9 1149.1M965.5 1151.2l4.6 3.0M966.2 1162.0L981.5 1149.1M979.0 1151.2l4.6 3.0M979.7 1162.0L995.0 1149.1M992.6 1151.2l4.6 3.0M993.2 1162.0L1008.6 1149.1M1006.1 1151.2l4.6 3.0M1006.8 1162.0L1022.1 1149.1M1019.7 1151.2l4.6 3.0M1020.3 1162.0L1035.7 1149.1M1033.2 1151.2l4.6 3.0M1033.9 1162.0L1049.2 1149.1M1046.7 1151.2l4.6 3.0M1047.4 1162.0L1062.7 1149.1M1060.3 1151.2l4.6 3.0M1061.0 1162.0L1076.3 1149.1M1073.8 1151.2l4.6 3.0M1074.5 1162.0L1089.8 1149.1M1087.4 1151.2l4.6 3.0M1088.0 1162.0L1103.4 1149.1M1100.9 1151.2l4.6 3.0M1101.6 1162.0L1116.9 1149.1M1114.5 1151.2l4.6 3.0M1115.1 1162.0L1130.4 1149.1M1128.0 1151.2l4.6 3.0M1128.7 1162.0L1144.0 1149.1M1141.5 1151.2l4.6 3.0M1142.2 1162.0L1157.5 1149.1M1155.1 1151.2l4.6 3.0M1155.8 1162.0L1171.1 1149.1M1168.6 1151.2l4.6 3.0M1169.3 1162.0L1184.6 1149.1M1182.2 1151.2l4.6 3.0M1182.8 1162.0L1198.2 1149.1M1195.7 1151.2l4.6 3.0M1196.4 1162.0L1211.7 1149.1M1209.2 1151.2l4.6 3.0M1209.9 1162.0L1225.2 1149.1M1222.8 1151.2l4.6 3.0M1223.5 1162.0L1238.8 1149.1M1236.3 1151.2l4.6 3.0M1237.0 1162.0L1252.3 1149.1M1249.9 1151.2l4.6 3.0M1250.5 1162.0L1265.9 1149.1M1263.4 1151.2l4.6 3.0M1264.1 1162.0L1279.4 1149.1M1277.0 1151.2l4.6 3.0M1277.6 1162.0L1292.9 1149.1M1290.5 1151.2l4.6 3.0M1291.2 1162.0L1306.5 1149.1M1304.0 1151.2l4.6 3.0M1304.7 1162.0L1320.0 1149.1M1317.6 1151.2l4.6 3.0M1318.2 1162.0L1333.6 1149.1M1331.1 1151.2l4.6 3.0M1331.8 1162.0L1347.1 1149.1M1344.7 1151.2l4.6 3.0M1345.3 1162.0L1360.7 1149.1M1358.2 1151.2l4.6 3.0M1358.9 1162.0L1374.2 1149.1M1371.7 1151.2l4.6 3.0M1372.4 1162.0L1387.7 1149.1M1385.3 1151.2l4.6 3.0M1386.0 1162.0L1392.8 1143.2M1391.7 1146.2l5.5 0.3M1399.5 1162.0L1406.3 1143.2M1405.2 1146.2l5.5 0.3M1413.0 1162.0L1419.9 1143.2M1418.8 1146.2l5.5 0.3M1426.6 1162.0L1433.4 1143.2M1432.3 1146.2l5.5 0.3M1440.1 1162.0L1455.4 1149.1M1453.0 1151.2l4.6 3.0M1453.7 1162.0L1472.7 1155.8M1469.6 1156.8l3.2 4.5M1467.2 1162.0L1486.3 1155.9M1483.2 1156.9l3.1 4.5M1480.8 1162.0L1499.9 1156.1M1496.8 1157.0l3.1 4.5M1494.3 1162.0L1513.4 1156.2M1510.4 1157.1l3.1 4.6M1507.8 1162.0L1527.0 1156.3M1523.9 1157.2l3.0 4.6M1521.4 1162.0L1540.6 1156.4M1537.5 1157.3l3.0 4.6M1534.9 1162.0L1554.2 1156.6M1551.1 1157.4l3.0 4.6M1548.5 1162.0L1567.7 1156.7M1564.7 1157.5l2.9 4.6M1562.0 1162.0L1581.3 1156.8M1578.2 1157.7l2.9 4.7" stroke="#000" stroke-width="1.3" fill="none" stroke-linecap="round"/></g><path d="M230.2 37 V562 M311.5 37 V562 M392.8 37 V562 M474.0 37 V562 M555.2 37 V562 M636.5 37 V562 M717.8 37 V562" stroke="#000" stroke-width="1.2" fill="none"/><path d="M149 37.0 h-6 M149 95.3 h-6 M149 153.7 h-6 M149 212.0 h-6 M149 270.3 h-6 M149 328.7 h-6 M149 387.0 h-6 M149 445.3 h-6 M149 503.7 h-6 M149 562.0 h-6 M149.0 562 v5 M230.2 562 v5 M311.5 562 v5 M392.8 562 v5 M474.0 562 v5 M555.2 562 v5 M636.5 562 v5 M717.8 562 v5 M799.0 562 v5" stroke="#000" stroke-width="1.6" fill="none"/><rect x="149" y="37" width="650" height="525" fill="none" stroke="#000" stroke-width="2"/><path d="M993.2 37 V562 M1074.5 37 V562 M1155.8 37 V562 M1237.0 37 V562 M1318.2 37 V562 M1399.5 37 V562 M1480.8 37 V562" stroke="#000" stroke-width="1.2" fill="none"/><path d="M912 37.0 h-6 M912 95.3 h-6 M912 153.7 h-6 M912 212.0 h-6 M912 270.3 h-6 M912 328.7 h-6 M912 387.0 h-6 M912 445.3 h-6 M912 503.7 h-6 M912 562.0 h-6 M912.0 562 v5 M993.2 562 v5 M1074.5 562 v5 M1155.8 562 v5 M1237.0 562 v5 M1318.2 562 v5 M1399.5 562 v5 M1480.8 562 v5 M1562.0 562 v5" stroke="#000" stroke-width="1.6" fill="none"/><rect x="912" y="37" width="650" height="525" fill="none" stroke="#000" stroke-width="2"/><path d="M230.2 638 V1162 M311.5 638 V1162 M392.8 638 V1162 M474.0 638 V1162 M555.2 638 V1162 M636.5 638 V1162 M717.8 638 V1162" stroke="#000" stroke-width="1.2" fill="none"/><path d="M149 638.0 h-6 M149 696.2 h-6 M149 754.4 h-6 M149 812.7 h-6 M149 870.9 h-6 M149 929.1 h-6 M149 987.3 h-6 M149 1045.6 h-6 M149 1103.8 h-6 M149 1162.0 h-6 M149.0 1162 v5 M230.2 1162 v5 M311.5 1162 v5 M392.8 1162 v5 M474.0 1162 v5 M555.2 1162 v5 M636.5 1162 v5 M717.8 1162 v5 M799.0 1162 v5" stroke="#000" stroke-width="1.6" fill="none"/><rect x="149" y="638" width="650" height="524" fill="none" stroke="#000" stroke-width="2"/><path d="M993.2 638 V1162 M1074.5 638 V1162 M1155.8 638 V1162 M1237.0 638 V1162 M1318.2 638 V1162 M1399.5 638 V1162 M1480.8 638 V1162" stroke="#000" stroke-width="1.2" fill="none"/><path d="M912 638.0 h-6 M912 696.2 h-6 M912 754.4 h-6 M912 812.7 h-6 M912 870.9 h-6 M912 929.1 h-6 M912 987.3 h-6 M912 1045.6 h-6 M912 1103.8 h-6 M912 1162.0 h-6 M912.0 1162 v5 M993.2 1162 v5 M1074.5 1162 v5 M1155.8 1162 v5 M1237.0 1162 v5 M1318.2 1162 v5 M1399.5 1162 v5 M1480.8 1162 v5 M1562.0 1162 v5" stroke="#000" stroke-width="1.6" fill="none"/><rect x="912" y="638" width="650" height="524" fill="none" stroke="#000" stroke-width="2"/><text x="139.5" y="43.0" font-size="16.5" text-anchor="end" font-weight="bold" fill="#000" textLength="25.2" lengthAdjust="spacingAndGlyphs">100</text><text x="139.5" y="101.3" font-size="16.5" text-anchor="end" font-weight="bold" fill="#000" textLength="25.2" lengthAdjust="spacingAndGlyphs">200</text><text x="139.5" y="159.7" font-size="16.5" text-anchor="end" font-weight="bold" fill="#000" textLength="25.2" lengthAdjust="spacingAndGlyphs">300</text><text x="139.5" y="218.0" font-size="16.5" text-anchor="end" font-weight="bold" fill="#000" textLength="25.2" lengthAdjust="spacingAndGlyphs">400</text><text x="139.5" y="276.3" font-size="16.5" text-anchor="end" font-weight="bold" fill="#000" textLength="25.2" lengthAdjust="spacingAndGlyphs">500</text><text x="139.5" y="334.7" font-size="16.5" text-anchor="end" font-weight="bold" fill="#000" textLength="25.2" lengthAdjust="spacingAndGlyphs">600</text><text x="139.5" y="393.0" font-size="16.5" text-anchor="end" font-weight="bold" fill="#000" textLength="25.2" lengthAdjust="spacingAndGlyphs">700</text><text x="139.5" y="451.3" font-size="16.5" text-anchor="end" font-weight="bold" fill="#000" textLength="25.2" lengthAdjust="spacingAndGlyphs">800</text><text x="139.5" y="509.7" font-size="16.5" text-anchor="end" font-weight="bold" fill="#000" textLength="25.2" lengthAdjust="spacingAndGlyphs">900</text><text x="139.5" y="568.0" font-size="16.5" text-anchor="end" font-weight="bold" fill="#000" textLength="33.6" lengthAdjust="spacingAndGlyphs">1000</text><text x="149.0" y="582.0" font-size="16.5" text-anchor="middle" font-weight="bold" fill="#000" textLength="24.5" lengthAdjust="spacingAndGlyphs">12Z</text><text x="230.2" y="582.0" font-size="16.5" text-anchor="middle" font-weight="bold" fill="#000" textLength="24.5" lengthAdjust="spacingAndGlyphs">18Z</text><text x="311.5" y="582.0" font-size="16.5" text-anchor="middle" font-weight="bold" fill="#000" textLength="24.5" lengthAdjust="spacingAndGlyphs">00Z</text><text x="392.8" y="582.0" font-size="16.5" text-anchor="middle" font-weight="bold" fill="#000" textLength="24.5" lengthAdjust="spacingAndGlyphs">06Z</text><text x="474.0" y="582.0" font-size="16.5" text-anchor="middle" font-weight="bold" fill="#000" textLength="24.5" lengthAdjust="spacingAndGlyphs">12Z</text><text x="555.2" y="582.0" font-size="16.5" text-anchor="middle" font-weight="bold" fill="#000" textLength="24.5" lengthAdjust="spacingAndGlyphs">18Z</text><text x="636.5" y="582.0" font-size="16.5" text-anchor="middle" font-weight="bold" fill="#000" textLength="24.5" lengthAdjust="spacingAndGlyphs">00Z</text><text x="717.8" y="582.0" font-size="16.5" text-anchor="middle" font-weight="bold" fill="#000" textLength="24.5" lengthAdjust="spacingAndGlyphs">06Z</text><text x="799.0" y="582.0" font-size="16.5" text-anchor="middle" font-weight="bold" fill="#000" textLength="24.5" lengthAdjust="spacingAndGlyphs">12Z</text><text x="149.0" y="597.0" font-size="16.5" text-anchor="middle" font-weight="bold" fill="#000" textLength="45.0" lengthAdjust="spacingAndGlyphs">30DEC</text><text x="149.0" y="613.0" font-size="16.5" text-anchor="middle" font-weight="bold" fill="#000" textLength="35.0" lengthAdjust="spacingAndGlyphs">2025</text><text x="311.5" y="597.0" font-size="16.5" text-anchor="middle" font-weight="bold" fill="#000" textLength="45.0" lengthAdjust="spacingAndGlyphs">31DEC</text><text x="636.5" y="597.0" font-size="16.5" text-anchor="middle" font-weight="bold" fill="#000" textLength="36.0" lengthAdjust="spacingAndGlyphs">1JAN</text><text x="636.5" y="613.0" font-size="16.5" text-anchor="middle" font-weight="bold" fill="#000" textLength="35.0" lengthAdjust="spacingAndGlyphs">2026</text><text x="898.0" y="43.0" font-size="16.5" text-anchor="middle" font-weight="bold" fill="#000" textLength="10.5" lengthAdjust="spacingAndGlyphs">%</text><text x="898.0" y="101.3" font-size="16.5" text-anchor="middle" font-weight="bold" fill="#000" textLength="10.5" lengthAdjust="spacingAndGlyphs">%</text><text x="898.0" y="159.7" font-size="16.5" text-anchor="middle" font-weight="bold" fill="#000" textLength="10.5" lengthAdjust="spacingAndGlyphs">%</text><text x="898.0" y="218.0" font-size="16.5" text-anchor="middle" font-weight="bold" fill="#000" textLength="10.5" lengthAdjust="spacingAndGlyphs">%</text><text x="898.0" y="276.3" font-size="16.5" text-anchor="middle" font-weight="bold" fill="#000" textLength="10.5" lengthAdjust="spacingAndGlyphs">%</text><text x="898.0" y="334.7" font-size="16.5" text-anchor="middle" font-weight="bold" fill="#000" textLength="10.5" lengthAdjust="spacingAndGlyphs">%</text><text x="898.0" y="393.0" font-size="16.5" text-anchor="middle" font-weight="bold" fill="#000" textLength="10.5" lengthAdjust="spacingAndGlyphs">%</text><text x="898.0" y="451.3" font-size="16.5" text-anchor="middle" font-weight="bold" fill="#000" textLength="10.5" lengthAdjust="spacingAndGlyphs">%</text><text x="898.0" y="509.7" font-size="16.5" text-anchor="middle" font-weight="bold" fill="#000" textLength="10.5" lengthAdjust="spacingAndGlyphs">%</text><text x="898.0" y="568.0" font-size="16.5" text-anchor="middle" font-weight="bold" fill="#000" textLength="10.5" lengthAdjust="spacingAndGlyphs">%</text><text x="912.0" y="582.0" font-size="16.5" text-anchor="middle" font-weight="bold" fill="#000" textLength="24.5" lengthAdjust="spacingAndGlyphs">12Z</text><text x="993.2" y="582.0" font-size="16.5" text-anchor="middle" font-weight="bold" fill="#000" textLength="24.5" lengthAdjust="spacingAndGlyphs">18Z</text><text x="1074.5" y="582.0" font-size="16.5" text-anchor="middle" font-weight="bold" fill="#000" textLength="24.5" lengthAdjust="spacingAndGlyphs">00Z</text><text x="1155.8" y="582.0" font-size="16.5" text-anchor="middle" font-weight="bold" fill="#000" textLength="24.5" lengthAdjust="spacingAndGlyphs">06Z</text><text x="1237.0" y="582.0" font-size="16.5" text-anchor="middle" font-weight="bold" fill="#000" textLength="24.5" lengthAdjust="spacingAndGlyphs">12Z</text><text x="1318.2" y="582.0" font-size="16.5" text-anchor="middle" font-weight="bold" fill="#000" textLength="24.5" lengthAdjust="spacingAndGlyphs">18Z</text><text x="1399.5" y="582.0" font-size="16.5" text-anchor="middle" font-weight="bold" fill="#000" textLength="24.5" lengthAdjust="spacingAndGlyphs">00Z</text><text x="1480.8" y="582.0" font-size="16.5" text-anchor="middle" font-weight="bold" fill="#000" textLength="24.5" lengthAdjust="spacingAndGlyphs">06Z</text><text x="1562.0" y="582.0" font-size="16.5" text-anchor="middle" font-weight="bold" fill="#000" textLength="24.5" lengthAdjust="spacingAndGlyphs">12Z</text><text x="912.0" y="597.0" font-size="16.5" text-anchor="middle" font-weight="bold" fill="#000" textLength="45.0" lengthAdjust="spacingAndGlyphs">30DEC</text><text x="912.0" y="613.0" font-size="16.5" text-anchor="middle" font-weight="bold" fill="#000" textLength="35.0" lengthAdjust="spacingAndGlyphs">2025</text><text x="1074.5" y="597.0" font-size="16.5" text-anchor="middle" font-weight="bold" fill="#000" textLength="45.0" lengthAdjust="spacingAndGlyphs">31DEC</text><text x="1399.5" y="597.0" font-size="16.5" text-anchor="middle" font-weight="bold" fill="#000" textLength="36.0" lengthAdjust="spacingAndGlyphs">1JAN</text><text x="1399.5" y="613.0" font-size="16.5" text-anchor="middle" font-weight="bold" fill="#000" textLength="35.0" lengthAdjust="spacingAndGlyphs">2026</text><text x="139.5" y="644.0" font-size="16.5" text-anchor="end" font-weight="bold" fill="#000" textLength="25.2" lengthAdjust="spacingAndGlyphs">100</text><text x="139.5" y="702.2" font-size="16.5" text-anchor="end" font-weight="bold" fill="#000" textLength="25.2" lengthAdjust="spacingAndGlyphs">200</text><text x="139.5" y="760.4" font-size="16.5" text-anchor="end" font-weight="bold" fill="#000" textLength="25.2" lengthAdjust="spacingAndGlyphs">300</text><text x="139.5" y="818.7" font-size="16.5" text-anchor="end" font-weight="bold" fill="#000" textLength="25.2" lengthAdjust="spacingAndGlyphs">400</text><text x="139.5" y="876.9" font-size="16.5" text-anchor="end" font-weight="bold" fill="#000" textLength="25.2" lengthAdjust="spacingAndGlyphs">500</text><text x="139.5" y="935.1" font-size="16.5" text-anchor="end" font-weight="bold" fill="#000" textLength="25.2" lengthAdjust="spacingAndGlyphs">600</text><text x="139.5" y="993.3" font-size="16.5" text-anchor="end" font-weight="bold" fill="#000" textLength="25.2" lengthAdjust="spacingAndGlyphs">700</text><text x="139.5" y="1051.6" font-size="16.5" text-anchor="end" font-weight="bold" fill="#000" textLength="25.2" lengthAdjust="spacingAndGlyphs">800</text><text x="139.5" y="1109.8" font-size="16.5" text-anchor="end" font-weight="bold" fill="#000" textLength="25.2" lengthAdjust="spacingAndGlyphs">900</text><text x="139.5" y="1168.0" font-size="16.5" text-anchor="end" font-weight="bold" fill="#000" textLength="33.6" lengthAdjust="spacingAndGlyphs">1000</text><text x="149.0" y="1182.0" font-size="16.5" text-anchor="middle" font-weight="bold" fill="#000" textLength="24.5" lengthAdjust="spacingAndGlyphs">12Z</text><text x="230.2" y="1182.0" font-size="16.5" text-anchor="middle" font-weight="bold" fill="#000" textLength="24.5" lengthAdjust="spacingAndGlyphs">18Z</text><text x="311.5" y="1182.0" font-size="16.5" text-anchor="middle" font-weight="bold" fill="#000" textLength="24.5" lengthAdjust="spacingAndGlyphs">00Z</text><text x="392.8" y="1182.0" font-size="16.5" text-anchor="middle" font-weight="bold" fill="#000" textLength="24.5" lengthAdjust="spacingAndGlyphs">06Z</text><text x="474.0" y="1182.0" font-size="16.5" text-anchor="middle" font-weight="bold" fill="#000" textLength="24.5" lengthAdjust="spacingAndGlyphs">12Z</text><text x="555.2" y="1182.0" font-size="16.5" text-anchor="middle" font-weight="bold" fill="#000" textLength="24.5" lengthAdjust="spacingAndGlyphs">18Z</text><text x="636.5" y="1182.0" font-size="16.5" text-anchor="middle" font-weight="bold" fill="#000" textLength="24.5" lengthAdjust="spacingAndGlyphs">00Z</text><text x="717.8" y="1182.0" font-size="16.5" text-anchor="middle" font-weight="bold" fill="#000" textLength="24.5" lengthAdjust="spacingAndGlyphs">06Z</text><text x="799.0" y="1182.0" font-size="16.5" text-anchor="middle" font-weight="bold" fill="#000" textLength="24.5" lengthAdjust="spacingAndGlyphs">12Z</text><text x="149.0" y="1197.0" font-size="16.5" text-anchor="middle" font-weight="bold" fill="#000" textLength="45.0" lengthAdjust="spacingAndGlyphs">30DEC</text><text x="149.0" y="1213.0" font-size="16.5" text-anchor="middle" font-weight="bold" fill="#000" textLength="35.0" lengthAdjust="spacingAndGlyphs">2025</text><text x="311.5" y="1197.0" font-size="16.5" text-anchor="middle" font-weight="bold" fill="#000" textLength="45.0" lengthAdjust="spacingAndGlyphs">31DEC</text><text x="636.5" y="1197.0" font-size="16.5" text-anchor="middle" font-weight="bold" fill="#000" textLength="36.0" lengthAdjust="spacingAndGlyphs">1JAN</text><text x="636.5" y="1213.0" font-size="16.5" text-anchor="middle" font-weight="bold" fill="#000" textLength="35.0" lengthAdjust="spacingAndGlyphs">2026</text><text x="898.0" y="644.0" font-size="16.5" text-anchor="middle" font-weight="bold" fill="#000" textLength="10.5" lengthAdjust="spacingAndGlyphs">%</text><text x="898.0" y="702.2" font-size="16.5" text-anchor="middle" font-weight="bold" fill="#000" textLength="10.5" lengthAdjust="spacingAndGlyphs">%</text><text x="898.0" y="760.4" font-size="16.5" text-anchor="middle" font-weight="bold" fill="#000" textLength="10.5" lengthAdjust="spacingAndGlyphs">%</text><text x="898.0" y="818.7" font-size="16.5" text-anchor="middle" font-weight="bold" fill="#000" textLength="10.5" lengthAdjust="spacingAndGlyphs">%</text><text x="898.0" y="876.9" font-size="16.5" text-anchor="middle" font-weight="bold" fill="#000" textLength="10.5" lengthAdjust="spacingAndGlyphs">%</text><text x="898.0" y="935.1" font-size="16.5" text-anchor="middle" font-weight="bold" fill="#000" textLength="10.5" lengthAdjust="spacingAndGlyphs">%</text><text x="898.0" y="993.3" font-size="16.5" text-anchor="middle" font-weight="bold" fill="#000" textLength="10.5" lengthAdjust="spacingAndGlyphs">%</text><text x="898.0" y="1051.6" font-size="16.5" text-anchor="middle" font-weight="bold" fill="#000" textLength="10.5" lengthAdjust="spacingAndGlyphs">%</text><text x="898.0" y="1109.8" font-size="16.5" text-anchor="middle" font-weight="bold" fill="#000" textLength="10.5" lengthAdjust="spacingAndGlyphs">%</text><text x="898.0" y="1168.0" font-size="16.5" text-anchor="middle" font-weight="bold" fill="#000" textLength="10.5" lengthAdjust="spacingAndGlyphs">%</text><text x="912.0" y="1182.0" font-size="16.5" text-anchor="middle" font-weight="bold" fill="#000" textLength="24.5" lengthAdjust="spacingAndGlyphs">12Z</text><text x="993.2" y="1182.0" font-size="16.5" text-anchor="middle" font-weight="bold" fill="#000" textLength="24.5" lengthAdjust="spacingAndGlyphs">18Z</text><text x="1074.5" y="1182.0" font-size="16.5" text-anchor="middle" font-weight="bold" fill="#000" textLength="24.5" lengthAdjust="spacingAndGlyphs">00Z</text><text x="1155.8" y="1182.0" font-size="16.5" text-anchor="middle" font-weight="bold" fill="#000" textLength="24.5" lengthAdjust="spacingAndGlyphs">06Z</text><text x="1237.0" y="1182.0" font-size="16.5" text-anchor="middle" font-weight="bold" fill="#000" textLength="24.5" lengthAdjust="spacingAndGlyphs">12Z</text><text x="1318.2" y="1182.0" font-size="16.5" text-anchor="middle" font-weight="bold" fill="#000" textLength="24.5" lengthAdjust="spacingAndGlyphs">18Z</text><text x="1399.5" y="1182.0" font-size="16.5" text-anchor="middle" font-weight="bold" fill="#000" textLength="24.5" lengthAdjust="spacingAndGlyphs">00Z</text><text x="1480.8" y="1182.0" font-size="16.5" text-anchor="middle" font-weight="bold" fill="#000" textLength="24.5" lengthAdjust="spacingAndGlyphs">06Z</text><text x="1562.0" y="1182.0" font-size="16.5" text-anchor="middle" font-weight="bold" fill="#000" textLength="24.5" lengthAdjust="spacingAndGlyphs">12Z</text><text x="912.0" y="1197.0" font-size="16.5" text-anchor="middle" font-weight="bold" fill="#000" textLength="45.0" lengthAdjust="spacingAndGlyphs">30DEC</text><text x="912.0" y="1213.0" font-size="16.5" text-anchor="middle" font-weight="bold" fill="#000" textLength="35.0" lengthAdjust="spacingAndGlyphs">2025</text><text x="1074.5" y="1197.0" font-size="16.5" text-anchor="middle" font-weight="bold" fill="#000" textLength="45.0" lengthAdjust="spacingAndGlyphs">31DEC</text><text x="1399.5" y="1197.0" font-size="16.5" text-anchor="middle" font-weight="bold" fill="#000" textLength="36.0" lengthAdjust="spacingAndGlyphs">1JAN</text><text x="1399.5" y="1213.0" font-size="16.5" text-anchor="middle" font-weight="bold" fill="#000" textLength="35.0" lengthAdjust="spacingAndGlyphs">2026</text><text y="24.5" font-size="24"><tspan x="433.8" textLength="27.5" lengthAdjust="spacingAndGlyphs">RH</tspan> <tspan x="478.0" textLength="36.4" lengthAdjust="spacingAndGlyphs">(%)</tspan></text><text y="24.5" font-size="24"><tspan x="991.4" textLength="76.3" lengthAdjust="spacingAndGlyphs">ThetaE</tspan> <tspan x="1082.4" textLength="37.3" lengthAdjust="spacingAndGlyphs">(K)</tspan> <tspan x="1132.7" textLength="43.9" lengthAdjust="spacingAndGlyphs">and</tspan> <tspan x="1191.2" textLength="87.8" lengthAdjust="spacingAndGlyphs">Vertical</tspan> <tspan x="1293.6" textLength="89.4" lengthAdjust="spacingAndGlyphs">Velocity</tspan> <tspan x="1396.0" textLength="89.4" lengthAdjust="spacingAndGlyphs">(cm/s)</tspan></text><text y="624.5" font-size="24"><tspan x="301.0" textLength="13.5" lengthAdjust="spacingAndGlyphs">U</tspan> <tspan x="331.2" textLength="52.5" lengthAdjust="spacingAndGlyphs">wind</tspan> <tspan x="399.4" textLength="129.9" lengthAdjust="spacingAndGlyphs">component</tspan> <tspan x="543.8" textLength="31.5" lengthAdjust="spacingAndGlyphs">(m</tspan> <tspan x="591.0" textLength="55.1" lengthAdjust="spacingAndGlyphs">s-1)</tspan></text><text y="624.5" font-size="24"><tspan x="1065.5" textLength="14.5" lengthAdjust="spacingAndGlyphs">V</tspan> <tspan x="1095.0" textLength="51.3" lengthAdjust="spacingAndGlyphs">wind</tspan> <tspan x="1162.5" textLength="128.8" lengthAdjust="spacingAndGlyphs">component</tspan> <tspan x="1307.5" textLength="30.0" lengthAdjust="spacingAndGlyphs">(m</tspan> <tspan x="1353.8" textLength="55.0" lengthAdjust="spacingAndGlyphs">s-1)</tspan></text><rect x="66" y="112.00" width="15" height="19.05" fill="#78e178"/><rect x="66" y="130.75" width="15" height="19.05" fill="#3cb43c"/><rect x="66" y="149.50" width="15" height="19.05" fill="#008200"/><rect x="66" y="168.25" width="15" height="19.05" fill="#00218a"/><rect x="66" y="187.00" width="15" height="19.05" fill="#0a46b4"/><rect x="66" y="205.75" width="15" height="19.05" fill="#0a6ee6"/><rect x="66" y="224.50" width="15" height="19.05" fill="#1496ff"/><rect x="66" y="243.25" width="15" height="19.05" fill="#32beff"/><rect x="66" y="262.00" width="15" height="19.05" fill="#96d2fa"/><rect x="66" y="280.75" width="15" height="19.05" fill="#d7dcfa"/><rect x="66" y="299.50" width="15" height="19.05" fill="#fae1e1"/><rect x="66" y="318.25" width="15" height="19.05" fill="#f5c3aa"/><rect x="66" y="337.00" width="15" height="19.05" fill="#ebaa91"/><rect x="66" y="355.75" width="15" height="19.05" fill="#e68c7d"/><rect x="66" y="374.50" width="15" height="19.05" fill="#e0705f"/><rect x="66" y="393.25" width="15" height="19.05" fill="#ff5519"/><rect x="66" y="412.00" width="15" height="19.05" fill="#ffa01e"/><rect x="66" y="430.75" width="15" height="19.05" fill="#ffcd23"/><rect x="66" y="449.50" width="15" height="19.05" fill="#f0ee6e"/><rect x="66" y="468.25" width="15" height="19.05" fill="#fffa55"/><rect x="66" y="487.00" width="15" height="19.05" fill="#ffffa0"/><rect x="66" y="505.75" width="15" height="19.05" fill="#f2f2f2"/><text x="87.0" y="136.2" font-size="15.0" text-anchor="start" font-weight="bold" fill="#000">100</text><text x="87.0" y="155.0" font-size="15.0" text-anchor="start" font-weight="bold" fill="#000">95</text><text x="87.0" y="173.8" font-size="15.0" text-anchor="start" font-weight="bold" fill="#000">90</text><text x="87.0" y="192.5" font-size="15.0" text-anchor="start" font-weight="bold" fill="#000">85</text><text x="87.0" y="211.2" font-size="15.0" text-anchor="start" font-weight="bold" fill="#000">80</text><text x="87.0" y="230.0" font-size="15.0" text-anchor="start" font-weight="bold" fill="#000">75</text><text x="87.0" y="248.8" font-size="15.0" text-anchor="start" font-weight="bold" fill="#000">70</text><text x="87.0" y="267.5" font-size="15.0" text-anchor="start" font-weight="bold" fill="#000">65</text><text x="87.0" y="286.2" font-size="15.0" text-anchor="start" font-weight="bold" fill="#000">60</text><text x="87.0" y="305.0" font-size="15.0" text-anchor="start" font-weight="bold" fill="#000">55</text><text x="87.0" y="323.8" font-size="15.0" text-anchor="start" font-weight="bold" fill="#000">50</text><text x="87.0" y="342.5" font-size="15.0" text-anchor="start" font-weight="bold" fill="#000">45</text><text x="87.0" y="361.2" font-size="15.0" text-anchor="start" font-weight="bold" fill="#000">40</text><text x="87.0" y="380.0" font-size="15.0" text-anchor="start" font-weight="bold" fill="#000">35</text><text x="87.0" y="398.8" font-size="15.0" text-anchor="start" font-weight="bold" fill="#000">30</text><text x="87.0" y="417.5" font-size="15.0" text-anchor="start" font-weight="bold" fill="#000">25</text><text x="87.0" y="436.2" font-size="15.0" text-anchor="start" font-weight="bold" fill="#000">20</text><text x="87.0" y="455.0" font-size="15.0" text-anchor="start" font-weight="bold" fill="#000">15</text><text x="87.0" y="473.8" font-size="15.0" text-anchor="start" font-weight="bold" fill="#000">10</text><text x="87.0" y="492.5" font-size="15.0" text-anchor="start" font-weight="bold" fill="#000">5</text><text x="87.0" y="511.2" font-size="15.0" text-anchor="start" font-weight="bold" fill="#000">0</text><rect x="830" y="112.00" width="15" height="23.24" fill="#a51c24"/><rect x="830" y="134.94" width="15" height="23.24" fill="#b4232a"/><rect x="830" y="157.89" width="15" height="23.24" fill="#c83c3c"/><rect x="830" y="180.83" width="15" height="23.24" fill="#ff9b00"/><rect x="830" y="203.78" width="15" height="23.24" fill="#ffb93c"/><rect x="830" y="226.72" width="15" height="23.24" fill="#ffdc6e"/><rect x="830" y="249.67" width="15" height="23.24" fill="#fff5aa"/><rect x="830" y="272.61" width="15" height="23.24" fill="#78f078"/><rect x="830" y="295.56" width="15" height="23.24" fill="#3cd23c"/><rect x="830" y="318.50" width="15" height="23.24" fill="#14a014"/><rect x="830" y="341.44" width="15" height="23.24" fill="#1e64d2"/><rect x="830" y="364.39" width="15" height="23.24" fill="#1e3cff"/><rect x="830" y="387.33" width="15" height="23.24" fill="#2800a0"/><rect x="830" y="410.28" width="15" height="23.24" fill="#2d1ea5"/><rect x="830" y="433.22" width="15" height="23.24" fill="#4b3cc8"/><rect x="830" y="456.17" width="15" height="23.24" fill="#6e5ad7"/><rect x="830" y="479.11" width="15" height="23.24" fill="#8272eb"/><rect x="830" y="502.06" width="15" height="23.24" fill="#f2f2f2"/><text x="851.0" y="140.4" font-size="15.0" text-anchor="start" font-weight="bold" fill="#000">100</text><text x="851.0" y="163.4" font-size="15.0" text-anchor="start" font-weight="bold" fill="#000">70</text><text x="851.0" y="186.3" font-size="15.0" text-anchor="start" font-weight="bold" fill="#000">55</text><text x="851.0" y="209.3" font-size="15.0" text-anchor="start" font-weight="bold" fill="#000">40</text><text x="851.0" y="232.2" font-size="15.0" text-anchor="start" font-weight="bold" fill="#000">30</text><text x="851.0" y="255.2" font-size="15.0" text-anchor="start" font-weight="bold" fill="#000">22</text><text x="851.0" y="278.1" font-size="15.0" text-anchor="start" font-weight="bold" fill="#000">15</text><text x="851.0" y="301.1" font-size="15.0" text-anchor="start" font-weight="bold" fill="#000">9</text><text x="851.0" y="324.0" font-size="15.0" text-anchor="start" font-weight="bold" fill="#000">6</text><text x="851.0" y="346.9" font-size="15.0" text-anchor="start" font-weight="bold" fill="#000">2</text><text x="851.0" y="369.9" font-size="15.0" text-anchor="start" font-weight="bold" fill="#000">0</text><text x="851.0" y="392.8" font-size="15.0" text-anchor="start" font-weight="bold" fill="#000">−2</text><text x="851.0" y="415.8" font-size="15.0" text-anchor="start" font-weight="bold" fill="#000">−5</text><text x="851.0" y="438.7" font-size="15.0" text-anchor="start" font-weight="bold" fill="#000">−10</text><text x="851.0" y="461.7" font-size="15.0" text-anchor="start" font-weight="bold" fill="#000">−18</text><text x="851.0" y="484.6" font-size="15.0" text-anchor="start" font-weight="bold" fill="#000">−30</text><text x="851.0" y="507.6" font-size="15.0" text-anchor="start" font-weight="bold" fill="#000">−45</text><rect x="66" y="713.00" width="15" height="21.88" fill="#ff0000"/><rect x="66" y="734.58" width="15" height="21.88" fill="#ff1e1e"/><rect x="66" y="756.16" width="15" height="21.88" fill="#ff3737"/><rect x="66" y="777.74" width="15" height="21.88" fill="#ff5050"/><rect x="66" y="799.32" width="15" height="21.88" fill="#ff6e6e"/><rect x="66" y="820.89" width="15" height="21.88" fill="#ff8c8c"/><rect x="66" y="842.47" width="15" height="21.88" fill="#ffa5a5"/><rect x="66" y="864.05" width="15" height="21.88" fill="#ffc3c3"/><rect x="66" y="885.63" width="15" height="21.88" fill="#ffe1e1"/><rect x="66" y="928.79" width="15" height="21.88" fill="#e1ebe1"/><rect x="66" y="950.37" width="15" height="21.88" fill="#c8e1c8"/><rect x="66" y="971.95" width="15" height="21.88" fill="#afd2af"/><rect x="66" y="993.53" width="15" height="21.88" fill="#96c896"/><rect x="66" y="1015.11" width="15" height="21.88" fill="#7db97d"/><rect x="66" y="1036.68" width="15" height="21.88" fill="#64aa64"/><rect x="66" y="1058.26" width="15" height="21.88" fill="#4b9b4b"/><rect x="66" y="1079.84" width="15" height="21.88" fill="#328c32"/><rect x="66" y="1101.42" width="15" height="21.88" fill="#1e821e"/><text x="87.0" y="740.1" font-size="15.0" text-anchor="start" font-weight="bold" fill="#000">40</text><text x="87.0" y="761.7" font-size="15.0" text-anchor="start" font-weight="bold" fill="#000">30</text><text x="87.0" y="783.2" font-size="15.0" text-anchor="start" font-weight="bold" fill="#000">22</text><text x="87.0" y="804.8" font-size="15.0" text-anchor="start" font-weight="bold" fill="#000">16</text><text x="87.0" y="826.4" font-size="15.0" text-anchor="start" font-weight="bold" fill="#000">12</text><text x="87.0" y="848.0" font-size="15.0" text-anchor="start" font-weight="bold" fill="#000">9</text><text x="87.0" y="869.6" font-size="15.0" text-anchor="start" font-weight="bold" fill="#000">6</text><text x="87.0" y="891.1" font-size="15.0" text-anchor="start" font-weight="bold" fill="#000">3</text><text x="87.0" y="912.7" font-size="15.0" text-anchor="start" font-weight="bold" fill="#000">1</text><text x="87.0" y="934.3" font-size="15.0" text-anchor="start" font-weight="bold" fill="#000">−1</text><text x="87.0" y="955.9" font-size="15.0" text-anchor="start" font-weight="bold" fill="#000">−3</text><text x="87.0" y="977.4" font-size="15.0" text-anchor="start" font-weight="bold" fill="#000">−6</text><text x="87.0" y="999.0" font-size="15.0" text-anchor="start" font-weight="bold" fill="#000">−9</text><text x="87.0" y="1020.6" font-size="15.0" text-anchor="start" font-weight="bold" fill="#000">−12</text><text x="87.0" y="1042.2" font-size="15.0" text-anchor="start" font-weight="bold" fill="#000">−16</text><text x="87.0" y="1063.8" font-size="15.0" text-anchor="start" font-weight="bold" fill="#000">−22</text><text x="87.0" y="1085.3" font-size="15.0" text-anchor="start" font-weight="bold" fill="#000">−30</text><text x="87.0" y="1106.9" font-size="15.0" text-anchor="start" font-weight="bold" fill="#000">−40</text><rect x="830" y="713.00" width="15" height="21.88" fill="#ff0000"/><rect x="830" y="734.58" width="15" height="21.88" fill="#ff1e1e"/><rect x="830" y="756.16" width="15" height="21.88" fill="#ff3737"/><rect x="830" y="777.74" width="15" height="21.88" fill="#ff5050"/><rect x="830" y="799.32" width="15" height="21.88" fill="#ff6e6e"/><rect x="830" y="820.89" width="15" height="21.88" fill="#ff8c8c"/><rect x="830" y="842.47" width="15" height="21.88" fill="#ffa5a5"/><rect x="830" y="864.05" width="15" height="21.88" fill="#ffc3c3"/><rect x="830" y="885.63" width="15" height="21.88" fill="#ffe1e1"/><rect x="830" y="928.79" width="15" height="21.88" fill="#e1ebe1"/><rect x="830" y="950.37" width="15" height="21.88" fill="#c8e1c8"/><rect x="830" y="971.95" width="15" height="21.88" fill="#afd2af"/><rect x="830" y="993.53" width="15" height="21.88" fill="#96c896"/><rect x="830" y="1015.11" width="15" height="21.88" fill="#7db97d"/><rect x="830" y="1036.68" width="15" height="21.88" fill="#64aa64"/><rect x="830" y="1058.26" width="15" height="21.88" fill="#4b9b4b"/><rect x="830" y="1079.84" width="15" height="21.88" fill="#328c32"/><rect x="830" y="1101.42" width="15" height="21.88" fill="#1e821e"/><text x="851.0" y="740.1" font-size="15.0" text-anchor="start" font-weight="bold" fill="#000">40</text><text x="851.0" y="761.7" font-size="15.0" text-anchor="start" font-weight="bold" fill="#000">30</text><text x="851.0" y="783.2" font-size="15.0" text-anchor="start" font-weight="bold" fill="#000">22</text><text x="851.0" y="804.8" font-size="15.0" text-anchor="start" font-weight="bold" fill="#000">16</text><text x="851.0" y="826.4" font-size="15.0" text-anchor="start" font-weight="bold" fill="#000">12</text><text x="851.0" y="848.0" font-size="15.0" text-anchor="start" font-weight="bold" fill="#000">9</text><text x="851.0" y="869.6" font-size="15.0" text-anchor="start" font-weight="bold" fill="#000">6</text><text x="851.0" y="891.1" font-size="15.0" text-anchor="start" font-weight="bold" fill="#000">3</text><text x="851.0" y="912.7" font-size="15.0" text-anchor="start" font-weight="bold" fill="#000">1</text><text x="851.0" y="934.3" font-size="15.0" text-anchor="start" font-weight="bold" fill="#000">−1</text><text x="851.0" y="955.9" font-size="15.0" text-anchor="start" font-weight="bold" fill="#000">−3</text><text x="851.0" y="977.4" font-size="15.0" text-anchor="start" font-weight="bold" fill="#000">−6</text><text x="851.0" y="999.0" font-size="15.0" text-anchor="start" font-weight="bold" fill="#000">−9</text><text x="851.0" y="1020.6" font-size="15.0" text-anchor="start" font-weight="bold" fill="#000">−12</text><text x="851.0" y="1042.2" font-size="15.0" text-anchor="start" font-weight="bold" fill="#000">−16</text><text x="851.0" y="1063.8" font-size="15.0" text-anchor="start" font-weight="bold" fill="#000">−22</text><text x="851.0" y="1085.3" font-size="15.0" text-anchor="start" font-weight="bold" fill="#000">−30</text><text x="851.0" y="1106.9" font-size="15.0" text-anchor="start" font-weight="bold" fill="#000">−40</text><text transform="translate(33,0) rotate(-90)" y="0" font-family="'DejaVu Sans', sans-serif" font-weight="200" font-size="39" fill="#3a3a3a" stroke="#555" stroke-width="0.45"><tspan x="-963.3" text-anchor="middle">U</tspan><tspan x="-933.8" text-anchor="middle">p</tspan><tspan x="-904.0" text-anchor="middle">p</tspan><tspan x="-877.8" text-anchor="middle">e</tspan><tspan x="-852.2" text-anchor="middle">r</tspan><tspan x="-825.4" text-anchor="middle" textLength="23" lengthAdjust="spacingAndGlyphs">-</tspan><tspan x="-792.9" text-anchor="middle">A</tspan><tspan x="-772.0" text-anchor="middle">i</tspan><tspan x="-753.1" text-anchor="middle">r</tspan> <tspan x="-706.0" text-anchor="middle">T</tspan><tspan x="-686.0" text-anchor="middle">i</tspan><tspan x="-657.7" text-anchor="middle">m</tspan><tspan x="-623.5" text-anchor="middle">e</tspan> <tspan x="-569.5" text-anchor="middle">S</tspan><tspan x="-542.0" text-anchor="middle">e</tspan><tspan x="-513.5" text-anchor="middle">c</tspan><tspan x="-490.2" text-anchor="middle">t</tspan><tspan x="-478.3" text-anchor="middle">i</tspan><tspan x="-459.7" text-anchor="middle">o</tspan><tspan x="-430.3" text-anchor="middle">n</tspan><tspan x="-403.2" text-anchor="middle">s</tspan> <tspan x="-350.1" text-anchor="middle">P</tspan><tspan x="-329.2" text-anchor="middle">l</tspan><tspan x="-307.6" text-anchor="middle">o</tspan><tspan x="-286.7" text-anchor="middle">t</tspan><tspan x="-266.5" text-anchor="middle">s</tspan></text></svg></body></html>
